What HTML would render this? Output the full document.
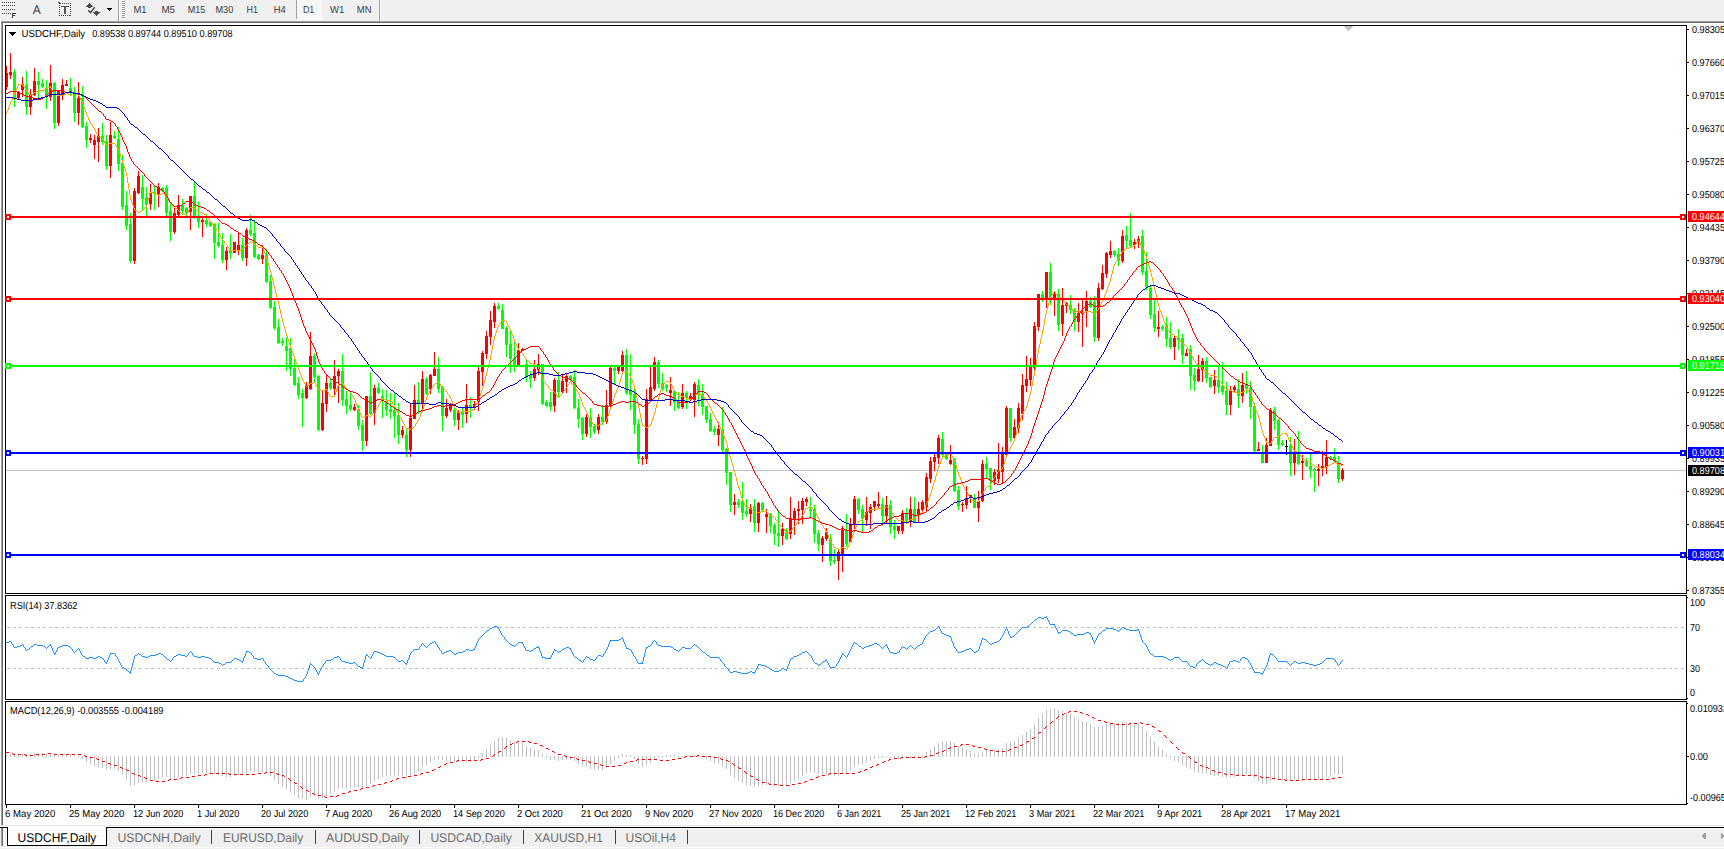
<!DOCTYPE html>
<html><head><meta charset="utf-8"><title>USDCHF,Daily</title>
<style>html,body{margin:0;padding:0;background:#fff;overflow:hidden}body{width:1724px;height:849px}svg text{white-space:pre}</style>
</head><body>
<svg width="1724" height="849" viewBox="0 0 1724 849" shape-rendering="crispEdges" text-rendering="geometricPrecision" font-family="Liberation Sans, Arial, sans-serif" style="display:block">
<rect x="0" y="0" width="1724" height="849" fill="#ffffff"/>
<rect x="0" y="0" width="1724" height="21" fill="#f0f0f0"/>
<rect x="0" y="21" width="1724" height="1" fill="#a0a0a0"/>
<rect x="0" y="22" width="1724" height="1" fill="#696969"/>
<rect x="1" y="21" width="1" height="805" fill="#a0a0a0"/>
<rect x="2" y="22" width="1" height="804" fill="#696969"/>
<rect x="0" y="21" width="1" height="805" fill="#ffffff"/>
<rect x="2" y="2" width="1" height="1" fill="#404040"/>
<rect x="4" y="2" width="1" height="1" fill="#404040"/>
<rect x="6" y="2" width="1" height="1" fill="#404040"/>
<rect x="8" y="2" width="1" height="1" fill="#404040"/>
<rect x="10" y="2" width="1" height="1" fill="#404040"/>
<rect x="12" y="2" width="1" height="1" fill="#404040"/>
<rect x="14" y="2" width="1" height="1" fill="#404040"/>
<rect x="2" y="5" width="1" height="1" fill="#404040"/>
<rect x="4" y="5" width="1" height="1" fill="#404040"/>
<rect x="6" y="5" width="1" height="1" fill="#404040"/>
<rect x="8" y="5" width="1" height="1" fill="#404040"/>
<rect x="10" y="5" width="1" height="1" fill="#404040"/>
<rect x="12" y="5" width="1" height="1" fill="#404040"/>
<rect x="14" y="5" width="1" height="1" fill="#404040"/>
<rect x="2" y="9" width="1" height="1" fill="#404040"/>
<rect x="4" y="9" width="1" height="1" fill="#404040"/>
<rect x="6" y="9" width="1" height="1" fill="#404040"/>
<rect x="8" y="9" width="1" height="1" fill="#404040"/>
<rect x="10" y="9" width="1" height="1" fill="#404040"/>
<rect x="12" y="9" width="1" height="1" fill="#404040"/>
<rect x="14" y="9" width="1" height="1" fill="#404040"/>
<rect x="2" y="13" width="1" height="1" fill="#404040"/>
<rect x="4" y="13" width="1" height="1" fill="#404040"/>
<rect x="6" y="13" width="1" height="1" fill="#404040"/>
<rect x="8" y="13" width="1" height="1" fill="#404040"/>
<rect x="10" y="13" width="1" height="1" fill="#404040"/>
<rect x="12" y="13" width="1" height="5" fill="#404040"/>
<rect x="12" y="13" width="4" height="1" fill="#404040"/>
<rect x="12" y="15" width="3" height="1" fill="#404040"/>
<text x="32.7" y="14" font-size="12.6" fill="#404040" textLength="8" lengthAdjust="spacingAndGlyphs">A</text>
<rect x="59" y="15" width="1" height="1" fill="#404040"/>
<rect x="61" y="15" width="1" height="1" fill="#404040"/>
<rect x="63" y="15" width="1" height="1" fill="#404040"/>
<rect x="65" y="15" width="1" height="1" fill="#404040"/>
<rect x="67" y="15" width="1" height="1" fill="#404040"/>
<rect x="69" y="15" width="1" height="1" fill="#404040"/>
<rect x="62" y="3" width="1" height="1" fill="#404040"/>
<rect x="64" y="3" width="1" height="1" fill="#404040"/>
<rect x="66" y="3" width="1" height="1" fill="#404040"/>
<rect x="68" y="3" width="1" height="1" fill="#404040"/>
<rect x="70" y="3" width="1" height="1" fill="#404040"/>
<rect x="59" y="3" width="1" height="1" fill="#404040"/>
<rect x="70" y="3" width="1" height="1" fill="#404040"/>
<rect x="59" y="5" width="1" height="1" fill="#404040"/>
<rect x="70" y="5" width="1" height="1" fill="#404040"/>
<rect x="59" y="7" width="1" height="1" fill="#404040"/>
<rect x="70" y="7" width="1" height="1" fill="#404040"/>
<rect x="59" y="9" width="1" height="1" fill="#404040"/>
<rect x="70" y="9" width="1" height="1" fill="#404040"/>
<rect x="59" y="11" width="1" height="1" fill="#404040"/>
<rect x="70" y="11" width="1" height="1" fill="#404040"/>
<rect x="59" y="13" width="1" height="1" fill="#404040"/>
<rect x="70" y="13" width="1" height="1" fill="#404040"/>
<rect x="59" y="15" width="1" height="1" fill="#404040"/>
<rect x="70" y="15" width="1" height="1" fill="#404040"/>
<rect x="58" y="2" width="2" height="1" fill="#404040"/>
<rect x="59" y="3" width="2" height="1" fill="#404040"/>
<rect x="61" y="6" width="8" height="1" fill="#555"/>
<rect x="64" y="6" width="2" height="8" fill="#555"/>
<rect x="89" y="3" width="1" height="1" fill="#4d4d4d"/>
<rect x="88" y="4" width="3" height="1" fill="#4d4d4d"/>
<rect x="87" y="5" width="5" height="1" fill="#4d4d4d"/>
<rect x="86" y="6" width="7" height="1" fill="#4d4d4d"/>
<rect x="88" y="7" width="3" height="1" fill="#4d4d4d"/>
<rect x="95" y="11" width="3" height="1" fill="#4d4d4d"/>
<rect x="93" y="12" width="7" height="1" fill="#4d4d4d"/>
<rect x="94" y="13" width="5" height="1" fill="#4d4d4d"/>
<rect x="95" y="14" width="3" height="1" fill="#4d4d4d"/>
<rect x="96" y="15" width="1" height="1" fill="#4d4d4d"/>
<path d="M88.2 10.3 L90.5 12.6 L94.7 7.2" fill="none" stroke="#404040" stroke-width="1.4" shape-rendering="auto"/>
<rect x="107" y="8" width="5" height="1" fill="#000"/>
<rect x="108" y="9" width="3" height="1" fill="#000"/>
<rect x="109" y="10" width="1" height="1" fill="#000"/>
<rect x="118" y="0" width="1" height="21" fill="#a0a0a0"/>
<rect x="119" y="0" width="1" height="21" fill="#ffffff"/>
<rect x="122" y="1" width="3" height="1" fill="#a0a0a0"/>
<rect x="122" y="3" width="3" height="1" fill="#a0a0a0"/>
<rect x="122" y="5" width="3" height="1" fill="#a0a0a0"/>
<rect x="122" y="7" width="3" height="1" fill="#a0a0a0"/>
<rect x="122" y="9" width="3" height="1" fill="#a0a0a0"/>
<rect x="122" y="11" width="3" height="1" fill="#a0a0a0"/>
<rect x="122" y="13" width="3" height="1" fill="#a0a0a0"/>
<rect x="122" y="15" width="3" height="1" fill="#a0a0a0"/>
<rect x="122" y="17" width="3" height="1" fill="#a0a0a0"/>
<rect x="296" y="0" width="1" height="19" fill="#a0a0a0"/>
<defs><pattern id="ck" width="2" height="2" patternUnits="userSpaceOnUse"><rect width="2" height="2" fill="#f0f0f0"/><rect x="0" y="0" width="1" height="1" fill="#ffffff"/><rect x="1" y="1" width="1" height="1" fill="#ffffff"/></pattern></defs>
<rect x="297" y="0" width="24" height="19" fill="url(#ck)"/>
<rect x="296" y="19" width="26" height="1" fill="#ffffff"/>
<rect x="321" y="0" width="1" height="20" fill="#ffffff"/>
<text x="133.4" y="13" font-size="10.2" fill="#3c3c3c" textLength="13.0" lengthAdjust="spacingAndGlyphs">M1</text>
<text x="161.4" y="13" font-size="10.2" fill="#3c3c3c" textLength="13.6" lengthAdjust="spacingAndGlyphs">M5</text>
<text x="187.8" y="13" font-size="10.2" fill="#3c3c3c" textLength="17.5" lengthAdjust="spacingAndGlyphs">M15</text>
<text x="215.5" y="13" font-size="10.2" fill="#3c3c3c" textLength="17.8" lengthAdjust="spacingAndGlyphs">M30</text>
<text x="246.6" y="13" font-size="10.2" fill="#3c3c3c" textLength="11.4" lengthAdjust="spacingAndGlyphs">H1</text>
<text x="273.8" y="13" font-size="10.2" fill="#3c3c3c" textLength="12.0" lengthAdjust="spacingAndGlyphs">H4</text>
<text x="302.9" y="13" font-size="10.2" fill="#3c3c3c" textLength="11.4" lengthAdjust="spacingAndGlyphs">D1</text>
<text x="330.0" y="13" font-size="10.2" fill="#3c3c3c" textLength="14.4" lengthAdjust="spacingAndGlyphs">W1</text>
<text x="356.8" y="13" font-size="10.2" fill="#3c3c3c" textLength="14.7" lengthAdjust="spacingAndGlyphs">MN</text>
<rect x="379" y="0" width="1" height="21" fill="#a0a0a0"/>
<rect x="380" y="0" width="1" height="21" fill="#ffffff"/>
<rect x="5" y="25" width="1682" height="1" fill="#000000"/>
<rect x="5" y="25" width="1" height="569" fill="#000000"/>
<rect x="1686" y="25" width="1" height="569" fill="#000000"/>
<rect x="5" y="593" width="1682" height="1" fill="#000000"/>
<rect x="5" y="595" width="1682" height="1" fill="#000000"/>
<rect x="5" y="595" width="1" height="105" fill="#000000"/>
<rect x="1686" y="595" width="1" height="105" fill="#000000"/>
<rect x="5" y="699" width="1682" height="1" fill="#000000"/>
<rect x="5" y="701" width="1682" height="1" fill="#000000"/>
<rect x="5" y="701" width="1" height="104" fill="#000000"/>
<rect x="1686" y="701" width="1" height="104" fill="#000000"/>
<rect x="5" y="804" width="1682" height="1" fill="#000000"/>
<rect x="1344" y="26" width="9" height="1" fill="#c0c0c0"/>
<rect x="1345" y="27" width="7" height="1" fill="#c0c0c0"/>
<rect x="1346" y="28" width="5" height="1" fill="#c0c0c0"/>
<rect x="1347" y="29" width="3" height="1" fill="#c0c0c0"/>
<rect x="1348" y="30" width="1" height="1" fill="#c0c0c0"/>
<rect x="1687" y="29" width="2" height="1" fill="#000000"/>
<text x="1692" y="33" font-size="10.2" fill="#000" textLength="33" lengthAdjust="spacingAndGlyphs">0.98305</text>
<rect x="1687" y="62" width="2" height="1" fill="#000000"/>
<text x="1692" y="66" font-size="10.2" fill="#000" textLength="33" lengthAdjust="spacingAndGlyphs">0.97660</text>
<rect x="1687" y="95" width="2" height="1" fill="#000000"/>
<text x="1692" y="99" font-size="10.2" fill="#000" textLength="33" lengthAdjust="spacingAndGlyphs">0.97015</text>
<rect x="1687" y="128" width="2" height="1" fill="#000000"/>
<text x="1692" y="132" font-size="10.2" fill="#000" textLength="33" lengthAdjust="spacingAndGlyphs">0.96370</text>
<rect x="1687" y="161" width="2" height="1" fill="#000000"/>
<text x="1692" y="165" font-size="10.2" fill="#000" textLength="33" lengthAdjust="spacingAndGlyphs">0.95725</text>
<rect x="1687" y="194" width="2" height="1" fill="#000000"/>
<text x="1692" y="198" font-size="10.2" fill="#000" textLength="33" lengthAdjust="spacingAndGlyphs">0.95080</text>
<rect x="1687" y="227" width="2" height="1" fill="#000000"/>
<text x="1692" y="231" font-size="10.2" fill="#000" textLength="33" lengthAdjust="spacingAndGlyphs">0.94435</text>
<rect x="1687" y="260" width="2" height="1" fill="#000000"/>
<text x="1692" y="264" font-size="10.2" fill="#000" textLength="33" lengthAdjust="spacingAndGlyphs">0.93790</text>
<rect x="1687" y="293" width="2" height="1" fill="#000000"/>
<text x="1692" y="297" font-size="10.2" fill="#000" textLength="33" lengthAdjust="spacingAndGlyphs">0.93145</text>
<rect x="1687" y="326" width="2" height="1" fill="#000000"/>
<text x="1692" y="330" font-size="10.2" fill="#000" textLength="33" lengthAdjust="spacingAndGlyphs">0.92500</text>
<rect x="1687" y="359" width="2" height="1" fill="#000000"/>
<text x="1692" y="363" font-size="10.2" fill="#000" textLength="33" lengthAdjust="spacingAndGlyphs">0.91855</text>
<rect x="1687" y="392" width="2" height="1" fill="#000000"/>
<text x="1692" y="396" font-size="10.2" fill="#000" textLength="33" lengthAdjust="spacingAndGlyphs">0.91225</text>
<rect x="1687" y="425" width="2" height="1" fill="#000000"/>
<text x="1692" y="429" font-size="10.2" fill="#000" textLength="33" lengthAdjust="spacingAndGlyphs">0.90580</text>
<rect x="1687" y="458" width="2" height="1" fill="#000000"/>
<text x="1692" y="462" font-size="10.2" fill="#000" textLength="33" lengthAdjust="spacingAndGlyphs">0.89935</text>
<rect x="1687" y="491" width="2" height="1" fill="#000000"/>
<text x="1692" y="495" font-size="10.2" fill="#000" textLength="33" lengthAdjust="spacingAndGlyphs">0.89290</text>
<rect x="1687" y="524" width="2" height="1" fill="#000000"/>
<text x="1692" y="528" font-size="10.2" fill="#000" textLength="33" lengthAdjust="spacingAndGlyphs">0.88645</text>
<rect x="1687" y="557" width="2" height="1" fill="#000000"/>
<text x="1692" y="561" font-size="10.2" fill="#000" textLength="33" lengthAdjust="spacingAndGlyphs">0.88000</text>
<rect x="1687" y="590" width="2" height="1" fill="#000000"/>
<text x="1692" y="594" font-size="10.2" fill="#000" textLength="33" lengthAdjust="spacingAndGlyphs">0.87355</text>
<text x="1690" y="606" font-size="10.2" fill="#000" textLength="15" lengthAdjust="spacingAndGlyphs">100</text>
<text x="1690" y="631" font-size="10.2" fill="#000" textLength="10" lengthAdjust="spacingAndGlyphs">70</text>
<text x="1690" y="672" font-size="10.2" fill="#000" textLength="10" lengthAdjust="spacingAndGlyphs">30</text>
<text x="1690" y="696" font-size="10.2" fill="#000" textLength="5" lengthAdjust="spacingAndGlyphs">0</text>
<text x="1690" y="712" font-size="10.2" fill="#000" textLength="38" lengthAdjust="spacingAndGlyphs">0.010932</text>
<rect x="1687" y="756" width="2" height="1" fill="#000000"/>
<text x="1690" y="760" font-size="10.2" fill="#000" textLength="18" lengthAdjust="spacingAndGlyphs">0.00</text>
<text x="1690" y="801" font-size="10.2" fill="#000" textLength="41" lengthAdjust="spacingAndGlyphs">-0.009650</text>
<rect x="1687" y="803" width="1" height="1" fill="#000000"/>
<rect x="1687" y="703" width="1" height="1" fill="#000000"/>
<rect x="1687" y="597" width="1" height="1" fill="#000000"/>
<rect x="1687" y="698" width="1" height="1" fill="#000000"/>
<rect x="6" y="470" width="1680" height="1" fill="#c0c0c0"/>
<rect x="6" y="66" width="1" height="24" fill="#ff0000"/>
<rect x="6" y="73" width="2" height="14" fill="#ff0000"/>
<rect x="10" y="53" width="1" height="26" fill="#ff0000"/>
<rect x="9" y="72" width="3" height="3" fill="#ff0000"/>
<rect x="14" y="69" width="1" height="38" fill="#00ff00"/>
<rect x="13" y="72" width="3" height="26" fill="#00ff00"/>
<rect x="18" y="91" width="1" height="8" fill="#ff0000"/>
<rect x="17" y="92" width="3" height="6" fill="#ff0000"/>
<rect x="22" y="77" width="1" height="20" fill="#ff0000"/>
<rect x="21" y="84" width="3" height="6" fill="#ff0000"/>
<rect x="26" y="71" width="1" height="44" fill="#00ff00"/>
<rect x="25" y="85" width="3" height="22" fill="#00ff00"/>
<rect x="30" y="89" width="1" height="26" fill="#ff0000"/>
<rect x="29" y="95" width="3" height="12" fill="#ff0000"/>
<rect x="34" y="68" width="1" height="28" fill="#ff0000"/>
<rect x="33" y="81" width="3" height="14" fill="#ff0000"/>
<rect x="38" y="72" width="1" height="28" fill="#00ff00"/>
<rect x="37" y="81" width="3" height="4" fill="#00ff00"/>
<rect x="42" y="79" width="1" height="9" fill="#00ff00"/>
<rect x="41" y="83" width="3" height="4" fill="#00ff00"/>
<rect x="46" y="80" width="1" height="29" fill="#00ff00"/>
<rect x="45" y="88" width="3" height="8" fill="#00ff00"/>
<rect x="50" y="65" width="1" height="36" fill="#ff0000"/>
<rect x="49" y="83" width="3" height="14" fill="#ff0000"/>
<rect x="54" y="82" width="1" height="47" fill="#00ff00"/>
<rect x="53" y="83" width="3" height="40" fill="#00ff00"/>
<rect x="58" y="90" width="1" height="36" fill="#ff0000"/>
<rect x="57" y="91" width="3" height="32" fill="#ff0000"/>
<rect x="62" y="79" width="1" height="21" fill="#ff0000"/>
<rect x="61" y="85" width="3" height="10" fill="#ff0000"/>
<rect x="66" y="80" width="1" height="6" fill="#ff0000"/>
<rect x="65" y="84" width="3" height="2" fill="#ff0000"/>
<rect x="70" y="78" width="1" height="18" fill="#00ff00"/>
<rect x="69" y="88" width="3" height="4" fill="#00ff00"/>
<rect x="74" y="87" width="1" height="35" fill="#00ff00"/>
<rect x="73" y="92" width="3" height="21" fill="#00ff00"/>
<rect x="78" y="82" width="1" height="43" fill="#ff0000"/>
<rect x="77" y="98" width="3" height="15" fill="#ff0000"/>
<rect x="82" y="86" width="1" height="42" fill="#00ff00"/>
<rect x="81" y="98" width="3" height="29" fill="#00ff00"/>
<rect x="86" y="122" width="1" height="26" fill="#00ff00"/>
<rect x="85" y="126" width="3" height="14" fill="#00ff00"/>
<rect x="90" y="134" width="1" height="9" fill="#ff0000"/>
<rect x="89" y="138" width="3" height="2" fill="#ff0000"/>
<rect x="94" y="135" width="1" height="24" fill="#ff0000"/>
<rect x="93" y="140" width="3" height="5" fill="#ff0000"/>
<rect x="98" y="128" width="1" height="34" fill="#ff0000"/>
<rect x="97" y="136" width="3" height="6" fill="#ff0000"/>
<rect x="102" y="123" width="1" height="22" fill="#00ff00"/>
<rect x="101" y="136" width="3" height="6" fill="#00ff00"/>
<rect x="106" y="135" width="1" height="35" fill="#00ff00"/>
<rect x="105" y="141" width="3" height="25" fill="#00ff00"/>
<rect x="110" y="122" width="1" height="56" fill="#ff0000"/>
<rect x="109" y="135" width="3" height="31" fill="#ff0000"/>
<rect x="114" y="131" width="1" height="8" fill="#00ff00"/>
<rect x="113" y="136" width="3" height="2" fill="#00ff00"/>
<rect x="118" y="127" width="1" height="44" fill="#00ff00"/>
<rect x="117" y="139" width="3" height="25" fill="#00ff00"/>
<rect x="122" y="155" width="1" height="55" fill="#00ff00"/>
<rect x="121" y="163" width="3" height="44" fill="#00ff00"/>
<rect x="126" y="191" width="1" height="39" fill="#00ff00"/>
<rect x="125" y="205" width="3" height="21" fill="#00ff00"/>
<rect x="130" y="213" width="1" height="50" fill="#00ff00"/>
<rect x="129" y="224" width="3" height="37" fill="#00ff00"/>
<rect x="134" y="188" width="1" height="76" fill="#ff0000"/>
<rect x="133" y="191" width="3" height="70" fill="#ff0000"/>
<rect x="138" y="171" width="1" height="23" fill="#ff0000"/>
<rect x="137" y="176" width="3" height="17" fill="#ff0000"/>
<rect x="142" y="175" width="1" height="35" fill="#00ff00"/>
<rect x="141" y="187" width="3" height="12" fill="#00ff00"/>
<rect x="146" y="187" width="1" height="29" fill="#00ff00"/>
<rect x="145" y="197" width="3" height="8" fill="#00ff00"/>
<rect x="150" y="184" width="1" height="26" fill="#ff0000"/>
<rect x="149" y="193" width="3" height="11" fill="#ff0000"/>
<rect x="154" y="186" width="1" height="24" fill="#00ff00"/>
<rect x="153" y="192" width="3" height="2" fill="#00ff00"/>
<rect x="158" y="183" width="1" height="24" fill="#ff0000"/>
<rect x="157" y="187" width="3" height="7" fill="#ff0000"/>
<rect x="162" y="187" width="1" height="5" fill="#00ff00"/>
<rect x="161" y="188" width="3" height="3" fill="#00ff00"/>
<rect x="166" y="185" width="1" height="31" fill="#00ff00"/>
<rect x="165" y="188" width="3" height="25" fill="#00ff00"/>
<rect x="170" y="202" width="1" height="39" fill="#00ff00"/>
<rect x="169" y="211" width="3" height="21" fill="#00ff00"/>
<rect x="174" y="207" width="1" height="27" fill="#ff0000"/>
<rect x="173" y="213" width="3" height="19" fill="#ff0000"/>
<rect x="178" y="195" width="1" height="22" fill="#ff0000"/>
<rect x="177" y="205" width="3" height="10" fill="#ff0000"/>
<rect x="182" y="199" width="1" height="16" fill="#00ff00"/>
<rect x="181" y="205" width="3" height="6" fill="#00ff00"/>
<rect x="186" y="207" width="1" height="9" fill="#00ff00"/>
<rect x="185" y="208" width="3" height="5" fill="#00ff00"/>
<rect x="190" y="196" width="1" height="34" fill="#ff0000"/>
<rect x="189" y="196" width="3" height="16" fill="#ff0000"/>
<rect x="194" y="182" width="1" height="37" fill="#00ff00"/>
<rect x="193" y="196" width="3" height="21" fill="#00ff00"/>
<rect x="198" y="202" width="1" height="26" fill="#00ff00"/>
<rect x="197" y="218" width="3" height="4" fill="#00ff00"/>
<rect x="202" y="218" width="1" height="19" fill="#ff0000"/>
<rect x="201" y="220" width="3" height="2" fill="#ff0000"/>
<rect x="206" y="214" width="1" height="13" fill="#00ff00"/>
<rect x="205" y="220" width="3" height="4" fill="#00ff00"/>
<rect x="210" y="221" width="1" height="6" fill="#00ff00"/>
<rect x="209" y="222" width="3" height="4" fill="#00ff00"/>
<rect x="214" y="223" width="1" height="36" fill="#00ff00"/>
<rect x="213" y="224" width="3" height="19" fill="#00ff00"/>
<rect x="218" y="223" width="1" height="24" fill="#00ff00"/>
<rect x="217" y="242" width="3" height="4" fill="#00ff00"/>
<rect x="222" y="233" width="1" height="30" fill="#00ff00"/>
<rect x="221" y="245" width="3" height="15" fill="#00ff00"/>
<rect x="226" y="247" width="1" height="23" fill="#ff0000"/>
<rect x="225" y="251" width="3" height="9" fill="#ff0000"/>
<rect x="230" y="234" width="1" height="25" fill="#00ff00"/>
<rect x="229" y="250" width="3" height="3" fill="#00ff00"/>
<rect x="234" y="242" width="1" height="11" fill="#ff0000"/>
<rect x="233" y="242" width="3" height="11" fill="#ff0000"/>
<rect x="238" y="232" width="1" height="23" fill="#ff0000"/>
<rect x="237" y="245" width="3" height="5" fill="#ff0000"/>
<rect x="242" y="238" width="1" height="23" fill="#00ff00"/>
<rect x="241" y="245" width="3" height="13" fill="#00ff00"/>
<rect x="246" y="228" width="1" height="38" fill="#ff0000"/>
<rect x="245" y="230" width="3" height="28" fill="#ff0000"/>
<rect x="250" y="215" width="1" height="21" fill="#00ff00"/>
<rect x="249" y="230" width="3" height="4" fill="#00ff00"/>
<rect x="254" y="220" width="1" height="38" fill="#00ff00"/>
<rect x="253" y="233" width="3" height="24" fill="#00ff00"/>
<rect x="258" y="254" width="1" height="6" fill="#00ff00"/>
<rect x="257" y="255" width="3" height="4" fill="#00ff00"/>
<rect x="262" y="245" width="1" height="19" fill="#ff0000"/>
<rect x="261" y="255" width="3" height="4" fill="#ff0000"/>
<rect x="266" y="249" width="1" height="34" fill="#00ff00"/>
<rect x="265" y="255" width="3" height="27" fill="#00ff00"/>
<rect x="270" y="275" width="1" height="34" fill="#00ff00"/>
<rect x="269" y="281" width="3" height="27" fill="#00ff00"/>
<rect x="274" y="301" width="1" height="29" fill="#00ff00"/>
<rect x="273" y="307" width="3" height="21" fill="#00ff00"/>
<rect x="278" y="319" width="1" height="25" fill="#00ff00"/>
<rect x="277" y="327" width="3" height="16" fill="#00ff00"/>
<rect x="282" y="338" width="1" height="8" fill="#00ff00"/>
<rect x="281" y="341" width="3" height="2" fill="#00ff00"/>
<rect x="286" y="337" width="1" height="34" fill="#00ff00"/>
<rect x="285" y="346" width="3" height="5" fill="#00ff00"/>
<rect x="290" y="338" width="1" height="38" fill="#00ff00"/>
<rect x="289" y="348" width="3" height="21" fill="#00ff00"/>
<rect x="294" y="359" width="1" height="27" fill="#00ff00"/>
<rect x="293" y="368" width="3" height="17" fill="#00ff00"/>
<rect x="298" y="377" width="1" height="22" fill="#00ff00"/>
<rect x="297" y="383" width="3" height="12" fill="#00ff00"/>
<rect x="302" y="389" width="1" height="38" fill="#00ff00"/>
<rect x="301" y="393" width="3" height="5" fill="#00ff00"/>
<rect x="306" y="382" width="1" height="17" fill="#ff0000"/>
<rect x="305" y="385" width="3" height="13" fill="#ff0000"/>
<rect x="310" y="332" width="1" height="58" fill="#ff0000"/>
<rect x="309" y="356" width="3" height="33" fill="#ff0000"/>
<rect x="314" y="353" width="1" height="29" fill="#00ff00"/>
<rect x="313" y="356" width="3" height="21" fill="#00ff00"/>
<rect x="318" y="375" width="1" height="56" fill="#00ff00"/>
<rect x="317" y="376" width="3" height="54" fill="#00ff00"/>
<rect x="322" y="390" width="1" height="41" fill="#ff0000"/>
<rect x="321" y="403" width="3" height="27" fill="#ff0000"/>
<rect x="326" y="375" width="1" height="37" fill="#ff0000"/>
<rect x="325" y="383" width="3" height="21" fill="#ff0000"/>
<rect x="330" y="379" width="1" height="11" fill="#00ff00"/>
<rect x="329" y="383" width="3" height="5" fill="#00ff00"/>
<rect x="334" y="360" width="1" height="35" fill="#ff0000"/>
<rect x="333" y="376" width="3" height="13" fill="#ff0000"/>
<rect x="338" y="369" width="1" height="34" fill="#ff0000"/>
<rect x="337" y="371" width="3" height="5" fill="#ff0000"/>
<rect x="342" y="354" width="1" height="52" fill="#00ff00"/>
<rect x="341" y="371" width="3" height="29" fill="#00ff00"/>
<rect x="346" y="391" width="1" height="23" fill="#00ff00"/>
<rect x="345" y="399" width="3" height="7" fill="#00ff00"/>
<rect x="350" y="393" width="1" height="18" fill="#00ff00"/>
<rect x="349" y="405" width="3" height="4" fill="#00ff00"/>
<rect x="354" y="404" width="1" height="7" fill="#ff0000"/>
<rect x="353" y="407" width="3" height="3" fill="#ff0000"/>
<rect x="358" y="405" width="1" height="25" fill="#00ff00"/>
<rect x="357" y="409" width="3" height="17" fill="#00ff00"/>
<rect x="362" y="420" width="1" height="31" fill="#00ff00"/>
<rect x="361" y="425" width="3" height="16" fill="#00ff00"/>
<rect x="366" y="396" width="1" height="50" fill="#ff0000"/>
<rect x="365" y="396" width="3" height="45" fill="#ff0000"/>
<rect x="370" y="372" width="1" height="43" fill="#00ff00"/>
<rect x="369" y="396" width="3" height="18" fill="#00ff00"/>
<rect x="374" y="385" width="1" height="40" fill="#ff0000"/>
<rect x="373" y="388" width="3" height="25" fill="#ff0000"/>
<rect x="378" y="383" width="1" height="11" fill="#00ff00"/>
<rect x="377" y="388" width="3" height="5" fill="#00ff00"/>
<rect x="382" y="389" width="1" height="29" fill="#00ff00"/>
<rect x="381" y="396" width="3" height="5" fill="#00ff00"/>
<rect x="386" y="390" width="1" height="26" fill="#00ff00"/>
<rect x="385" y="401" width="3" height="9" fill="#00ff00"/>
<rect x="390" y="393" width="1" height="26" fill="#00ff00"/>
<rect x="389" y="409" width="3" height="3" fill="#00ff00"/>
<rect x="394" y="392" width="1" height="46" fill="#00ff00"/>
<rect x="393" y="410" width="3" height="6" fill="#00ff00"/>
<rect x="398" y="403" width="1" height="41" fill="#00ff00"/>
<rect x="397" y="415" width="3" height="20" fill="#00ff00"/>
<rect x="402" y="426" width="1" height="12" fill="#ff0000"/>
<rect x="401" y="430" width="3" height="5" fill="#ff0000"/>
<rect x="406" y="429" width="1" height="28" fill="#00ff00"/>
<rect x="405" y="435" width="3" height="15" fill="#00ff00"/>
<rect x="410" y="404" width="1" height="53" fill="#ff0000"/>
<rect x="409" y="418" width="3" height="32" fill="#ff0000"/>
<rect x="414" y="385" width="1" height="34" fill="#ff0000"/>
<rect x="413" y="400" width="3" height="19" fill="#ff0000"/>
<rect x="418" y="382" width="1" height="32" fill="#00ff00"/>
<rect x="417" y="400" width="3" height="3" fill="#00ff00"/>
<rect x="422" y="371" width="1" height="38" fill="#ff0000"/>
<rect x="421" y="379" width="3" height="24" fill="#ff0000"/>
<rect x="426" y="377" width="1" height="18" fill="#00ff00"/>
<rect x="425" y="379" width="3" height="15" fill="#00ff00"/>
<rect x="430" y="374" width="1" height="20" fill="#ff0000"/>
<rect x="429" y="375" width="3" height="14" fill="#ff0000"/>
<rect x="434" y="352" width="1" height="24" fill="#ff0000"/>
<rect x="433" y="369" width="3" height="7" fill="#ff0000"/>
<rect x="438" y="357" width="1" height="36" fill="#00ff00"/>
<rect x="437" y="369" width="3" height="20" fill="#00ff00"/>
<rect x="442" y="386" width="1" height="45" fill="#00ff00"/>
<rect x="441" y="388" width="3" height="28" fill="#00ff00"/>
<rect x="446" y="399" width="1" height="19" fill="#ff0000"/>
<rect x="445" y="408" width="3" height="8" fill="#ff0000"/>
<rect x="450" y="403" width="1" height="9" fill="#ff0000"/>
<rect x="449" y="404" width="3" height="6" fill="#ff0000"/>
<rect x="454" y="405" width="1" height="21" fill="#00ff00"/>
<rect x="453" y="410" width="3" height="10" fill="#00ff00"/>
<rect x="458" y="410" width="1" height="20" fill="#ff0000"/>
<rect x="457" y="412" width="3" height="8" fill="#ff0000"/>
<rect x="462" y="408" width="1" height="20" fill="#00ff00"/>
<rect x="461" y="411" width="3" height="4" fill="#00ff00"/>
<rect x="466" y="384" width="1" height="39" fill="#ff0000"/>
<rect x="465" y="405" width="3" height="9" fill="#ff0000"/>
<rect x="470" y="397" width="1" height="21" fill="#00ff00"/>
<rect x="469" y="405" width="3" height="3" fill="#00ff00"/>
<rect x="474" y="401" width="1" height="9" fill="#ff0000"/>
<rect x="473" y="404" width="3" height="3" fill="#ff0000"/>
<rect x="478" y="367" width="1" height="44" fill="#ff0000"/>
<rect x="477" y="371" width="3" height="31" fill="#ff0000"/>
<rect x="482" y="351" width="1" height="35" fill="#ff0000"/>
<rect x="481" y="353" width="3" height="19" fill="#ff0000"/>
<rect x="486" y="331" width="1" height="28" fill="#ff0000"/>
<rect x="485" y="336" width="3" height="18" fill="#ff0000"/>
<rect x="490" y="311" width="1" height="34" fill="#ff0000"/>
<rect x="489" y="320" width="3" height="17" fill="#ff0000"/>
<rect x="494" y="303" width="1" height="25" fill="#ff0000"/>
<rect x="493" y="306" width="3" height="16" fill="#ff0000"/>
<rect x="498" y="303" width="1" height="7" fill="#00ff00"/>
<rect x="497" y="306" width="3" height="3" fill="#00ff00"/>
<rect x="502" y="304" width="1" height="25" fill="#00ff00"/>
<rect x="501" y="310" width="3" height="19" fill="#00ff00"/>
<rect x="506" y="326" width="1" height="31" fill="#00ff00"/>
<rect x="505" y="328" width="3" height="17" fill="#00ff00"/>
<rect x="510" y="331" width="1" height="42" fill="#00ff00"/>
<rect x="509" y="344" width="3" height="15" fill="#00ff00"/>
<rect x="514" y="342" width="1" height="30" fill="#00ff00"/>
<rect x="513" y="358" width="3" height="7" fill="#00ff00"/>
<rect x="518" y="343" width="1" height="22" fill="#ff0000"/>
<rect x="517" y="350" width="3" height="15" fill="#ff0000"/>
<rect x="522" y="348" width="1" height="3" fill="#ff0000"/>
<rect x="521" y="349" width="3" height="2" fill="#ff0000"/>
<rect x="526" y="360" width="1" height="22" fill="#00ff00"/>
<rect x="525" y="364" width="3" height="13" fill="#00ff00"/>
<rect x="530" y="371" width="1" height="17" fill="#00ff00"/>
<rect x="529" y="375" width="3" height="4" fill="#00ff00"/>
<rect x="534" y="360" width="1" height="21" fill="#ff0000"/>
<rect x="533" y="369" width="3" height="9" fill="#ff0000"/>
<rect x="538" y="354" width="1" height="21" fill="#ff0000"/>
<rect x="537" y="364" width="3" height="6" fill="#ff0000"/>
<rect x="542" y="364" width="1" height="41" fill="#00ff00"/>
<rect x="541" y="364" width="3" height="40" fill="#00ff00"/>
<rect x="546" y="400" width="1" height="7" fill="#00ff00"/>
<rect x="545" y="402" width="3" height="4" fill="#00ff00"/>
<rect x="550" y="392" width="1" height="19" fill="#00ff00"/>
<rect x="549" y="402" width="3" height="5" fill="#00ff00"/>
<rect x="554" y="378" width="1" height="34" fill="#ff0000"/>
<rect x="553" y="380" width="3" height="26" fill="#ff0000"/>
<rect x="558" y="372" width="1" height="26" fill="#00ff00"/>
<rect x="557" y="380" width="3" height="12" fill="#00ff00"/>
<rect x="562" y="374" width="1" height="19" fill="#ff0000"/>
<rect x="561" y="381" width="3" height="11" fill="#ff0000"/>
<rect x="566" y="373" width="1" height="20" fill="#ff0000"/>
<rect x="565" y="376" width="3" height="6" fill="#ff0000"/>
<rect x="570" y="375" width="1" height="6" fill="#00ff00"/>
<rect x="569" y="376" width="3" height="4" fill="#00ff00"/>
<rect x="574" y="370" width="1" height="39" fill="#00ff00"/>
<rect x="573" y="377" width="3" height="31" fill="#00ff00"/>
<rect x="578" y="399" width="1" height="29" fill="#00ff00"/>
<rect x="577" y="408" width="3" height="11" fill="#00ff00"/>
<rect x="582" y="417" width="1" height="23" fill="#00ff00"/>
<rect x="581" y="418" width="3" height="16" fill="#00ff00"/>
<rect x="586" y="414" width="1" height="23" fill="#ff0000"/>
<rect x="585" y="417" width="3" height="17" fill="#ff0000"/>
<rect x="590" y="408" width="1" height="30" fill="#00ff00"/>
<rect x="589" y="417" width="3" height="10" fill="#00ff00"/>
<rect x="594" y="424" width="1" height="10" fill="#00ff00"/>
<rect x="593" y="426" width="3" height="6" fill="#00ff00"/>
<rect x="598" y="414" width="1" height="20" fill="#ff0000"/>
<rect x="597" y="417" width="3" height="13" fill="#ff0000"/>
<rect x="602" y="405" width="1" height="20" fill="#00ff00"/>
<rect x="601" y="417" width="3" height="5" fill="#00ff00"/>
<rect x="606" y="390" width="1" height="34" fill="#ff0000"/>
<rect x="605" y="405" width="3" height="17" fill="#ff0000"/>
<rect x="610" y="367" width="1" height="41" fill="#ff0000"/>
<rect x="609" y="368" width="3" height="38" fill="#ff0000"/>
<rect x="614" y="367" width="1" height="17" fill="#00ff00"/>
<rect x="613" y="368" width="3" height="3" fill="#00ff00"/>
<rect x="618" y="367" width="1" height="7" fill="#ff0000"/>
<rect x="617" y="367" width="3" height="4" fill="#ff0000"/>
<rect x="622" y="351" width="1" height="21" fill="#ff0000"/>
<rect x="621" y="355" width="3" height="16" fill="#ff0000"/>
<rect x="626" y="349" width="1" height="46" fill="#00ff00"/>
<rect x="625" y="355" width="3" height="38" fill="#00ff00"/>
<rect x="630" y="354" width="1" height="56" fill="#00ff00"/>
<rect x="629" y="391" width="3" height="4" fill="#00ff00"/>
<rect x="634" y="389" width="1" height="45" fill="#00ff00"/>
<rect x="633" y="394" width="3" height="31" fill="#00ff00"/>
<rect x="638" y="419" width="1" height="45" fill="#00ff00"/>
<rect x="637" y="424" width="3" height="35" fill="#00ff00"/>
<rect x="642" y="456" width="1" height="9" fill="#ff0000"/>
<rect x="641" y="458" width="3" height="1" fill="#ff0000"/>
<rect x="646" y="389" width="1" height="75" fill="#ff0000"/>
<rect x="645" y="399" width="3" height="60" fill="#ff0000"/>
<rect x="650" y="367" width="1" height="34" fill="#ff0000"/>
<rect x="649" y="387" width="3" height="13" fill="#ff0000"/>
<rect x="654" y="357" width="1" height="34" fill="#ff0000"/>
<rect x="653" y="362" width="3" height="27" fill="#ff0000"/>
<rect x="658" y="360" width="1" height="28" fill="#00ff00"/>
<rect x="657" y="362" width="3" height="22" fill="#00ff00"/>
<rect x="662" y="373" width="1" height="18" fill="#00ff00"/>
<rect x="661" y="383" width="3" height="6" fill="#00ff00"/>
<rect x="666" y="384" width="1" height="8" fill="#00ff00"/>
<rect x="665" y="385" width="3" height="3" fill="#00ff00"/>
<rect x="670" y="377" width="1" height="29" fill="#ff0000"/>
<rect x="669" y="390" width="3" height="3" fill="#ff0000"/>
<rect x="674" y="390" width="1" height="21" fill="#00ff00"/>
<rect x="673" y="391" width="3" height="11" fill="#00ff00"/>
<rect x="678" y="392" width="1" height="17" fill="#00ff00"/>
<rect x="677" y="402" width="3" height="6" fill="#00ff00"/>
<rect x="682" y="384" width="1" height="25" fill="#ff0000"/>
<rect x="681" y="393" width="3" height="14" fill="#ff0000"/>
<rect x="686" y="391" width="1" height="18" fill="#00ff00"/>
<rect x="685" y="393" width="3" height="5" fill="#00ff00"/>
<rect x="690" y="393" width="1" height="7" fill="#ff0000"/>
<rect x="689" y="396" width="3" height="3" fill="#ff0000"/>
<rect x="694" y="382" width="1" height="35" fill="#ff0000"/>
<rect x="693" y="384" width="3" height="16" fill="#ff0000"/>
<rect x="698" y="379" width="1" height="27" fill="#00ff00"/>
<rect x="697" y="385" width="3" height="10" fill="#00ff00"/>
<rect x="702" y="384" width="1" height="31" fill="#00ff00"/>
<rect x="701" y="394" width="3" height="13" fill="#00ff00"/>
<rect x="706" y="406" width="1" height="17" fill="#00ff00"/>
<rect x="705" y="406" width="3" height="14" fill="#00ff00"/>
<rect x="710" y="413" width="1" height="19" fill="#00ff00"/>
<rect x="709" y="419" width="3" height="12" fill="#00ff00"/>
<rect x="714" y="426" width="1" height="9" fill="#00ff00"/>
<rect x="713" y="429" width="3" height="3" fill="#00ff00"/>
<rect x="718" y="422" width="1" height="24" fill="#ff0000"/>
<rect x="717" y="429" width="3" height="6" fill="#ff0000"/>
<rect x="722" y="407" width="1" height="45" fill="#00ff00"/>
<rect x="721" y="429" width="3" height="21" fill="#00ff00"/>
<rect x="726" y="448" width="1" height="37" fill="#00ff00"/>
<rect x="725" y="449" width="3" height="24" fill="#00ff00"/>
<rect x="730" y="472" width="1" height="40" fill="#00ff00"/>
<rect x="729" y="472" width="3" height="33" fill="#00ff00"/>
<rect x="734" y="494" width="1" height="21" fill="#ff0000"/>
<rect x="733" y="502" width="3" height="3" fill="#ff0000"/>
<rect x="738" y="499" width="1" height="9" fill="#00ff00"/>
<rect x="737" y="502" width="3" height="3" fill="#00ff00"/>
<rect x="742" y="482" width="1" height="38" fill="#00ff00"/>
<rect x="741" y="501" width="3" height="12" fill="#00ff00"/>
<rect x="746" y="499" width="1" height="18" fill="#00ff00"/>
<rect x="745" y="511" width="3" height="3" fill="#00ff00"/>
<rect x="750" y="504" width="1" height="18" fill="#ff0000"/>
<rect x="749" y="508" width="3" height="6" fill="#ff0000"/>
<rect x="754" y="499" width="1" height="33" fill="#00ff00"/>
<rect x="753" y="506" width="3" height="17" fill="#00ff00"/>
<rect x="758" y="502" width="1" height="30" fill="#ff0000"/>
<rect x="757" y="503" width="3" height="20" fill="#ff0000"/>
<rect x="762" y="502" width="1" height="9" fill="#00ff00"/>
<rect x="761" y="503" width="3" height="7" fill="#00ff00"/>
<rect x="766" y="509" width="1" height="24" fill="#ff0000"/>
<rect x="765" y="514" width="3" height="3" fill="#ff0000"/>
<rect x="770" y="513" width="1" height="20" fill="#00ff00"/>
<rect x="769" y="514" width="3" height="12" fill="#00ff00"/>
<rect x="774" y="523" width="1" height="22" fill="#00ff00"/>
<rect x="773" y="525" width="3" height="9" fill="#00ff00"/>
<rect x="778" y="510" width="1" height="37" fill="#00ff00"/>
<rect x="777" y="533" width="3" height="3" fill="#00ff00"/>
<rect x="782" y="523" width="1" height="22" fill="#ff0000"/>
<rect x="781" y="529" width="3" height="7" fill="#ff0000"/>
<rect x="786" y="528" width="1" height="12" fill="#00ff00"/>
<rect x="785" y="530" width="3" height="9" fill="#00ff00"/>
<rect x="790" y="497" width="1" height="42" fill="#ff0000"/>
<rect x="789" y="518" width="3" height="16" fill="#ff0000"/>
<rect x="794" y="508" width="1" height="27" fill="#ff0000"/>
<rect x="793" y="511" width="3" height="9" fill="#ff0000"/>
<rect x="798" y="501" width="1" height="23" fill="#ff0000"/>
<rect x="797" y="509" width="3" height="2" fill="#ff0000"/>
<rect x="802" y="498" width="1" height="26" fill="#ff0000"/>
<rect x="801" y="501" width="3" height="9" fill="#ff0000"/>
<rect x="806" y="497" width="1" height="9" fill="#ff0000"/>
<rect x="805" y="499" width="3" height="3" fill="#ff0000"/>
<rect x="810" y="497" width="1" height="20" fill="#00ff00"/>
<rect x="809" y="509" width="3" height="2" fill="#00ff00"/>
<rect x="814" y="505" width="1" height="38" fill="#00ff00"/>
<rect x="813" y="509" width="3" height="25" fill="#00ff00"/>
<rect x="818" y="530" width="1" height="21" fill="#00ff00"/>
<rect x="817" y="533" width="3" height="11" fill="#00ff00"/>
<rect x="822" y="536" width="1" height="26" fill="#ff0000"/>
<rect x="821" y="538" width="3" height="7" fill="#ff0000"/>
<rect x="826" y="528" width="1" height="13" fill="#ff0000"/>
<rect x="825" y="532" width="3" height="7" fill="#ff0000"/>
<rect x="830" y="534" width="1" height="32" fill="#00ff00"/>
<rect x="829" y="539" width="3" height="22" fill="#00ff00"/>
<rect x="834" y="549" width="1" height="15" fill="#00ff00"/>
<rect x="833" y="560" width="3" height="2" fill="#00ff00"/>
<rect x="838" y="550" width="1" height="30" fill="#ff0000"/>
<rect x="837" y="552" width="3" height="9" fill="#ff0000"/>
<rect x="842" y="526" width="1" height="46" fill="#ff0000"/>
<rect x="841" y="530" width="3" height="24" fill="#ff0000"/>
<rect x="846" y="514" width="1" height="33" fill="#00ff00"/>
<rect x="845" y="530" width="3" height="14" fill="#00ff00"/>
<rect x="850" y="518" width="1" height="25" fill="#ff0000"/>
<rect x="849" y="524" width="3" height="18" fill="#ff0000"/>
<rect x="854" y="496" width="1" height="35" fill="#ff0000"/>
<rect x="853" y="499" width="3" height="26" fill="#ff0000"/>
<rect x="858" y="498" width="1" height="16" fill="#00ff00"/>
<rect x="857" y="499" width="3" height="11" fill="#00ff00"/>
<rect x="862" y="505" width="1" height="27" fill="#00ff00"/>
<rect x="861" y="509" width="3" height="10" fill="#00ff00"/>
<rect x="866" y="497" width="1" height="29" fill="#ff0000"/>
<rect x="865" y="512" width="3" height="8" fill="#ff0000"/>
<rect x="870" y="504" width="1" height="25" fill="#ff0000"/>
<rect x="869" y="507" width="3" height="6" fill="#ff0000"/>
<rect x="874" y="501" width="1" height="10" fill="#ff0000"/>
<rect x="873" y="501" width="3" height="6" fill="#ff0000"/>
<rect x="878" y="492" width="1" height="17" fill="#ff0000"/>
<rect x="877" y="504" width="3" height="2" fill="#ff0000"/>
<rect x="882" y="498" width="1" height="28" fill="#00ff00"/>
<rect x="881" y="504" width="3" height="12" fill="#00ff00"/>
<rect x="886" y="496" width="1" height="27" fill="#ff0000"/>
<rect x="885" y="505" width="3" height="11" fill="#ff0000"/>
<rect x="890" y="500" width="1" height="34" fill="#00ff00"/>
<rect x="889" y="505" width="3" height="22" fill="#00ff00"/>
<rect x="894" y="520" width="1" height="19" fill="#00ff00"/>
<rect x="893" y="526" width="3" height="4" fill="#00ff00"/>
<rect x="898" y="526" width="1" height="8" fill="#ff0000"/>
<rect x="897" y="526" width="3" height="5" fill="#ff0000"/>
<rect x="902" y="510" width="1" height="24" fill="#ff0000"/>
<rect x="901" y="513" width="3" height="18" fill="#ff0000"/>
<rect x="906" y="508" width="1" height="15" fill="#00ff00"/>
<rect x="905" y="513" width="3" height="8" fill="#00ff00"/>
<rect x="910" y="497" width="1" height="30" fill="#ff0000"/>
<rect x="909" y="509" width="3" height="12" fill="#ff0000"/>
<rect x="914" y="497" width="1" height="26" fill="#00ff00"/>
<rect x="913" y="509" width="3" height="13" fill="#00ff00"/>
<rect x="918" y="502" width="1" height="20" fill="#ff0000"/>
<rect x="917" y="509" width="3" height="5" fill="#ff0000"/>
<rect x="922" y="500" width="1" height="11" fill="#ff0000"/>
<rect x="921" y="502" width="3" height="8" fill="#ff0000"/>
<rect x="926" y="473" width="1" height="38" fill="#ff0000"/>
<rect x="925" y="477" width="3" height="30" fill="#ff0000"/>
<rect x="930" y="457" width="1" height="26" fill="#ff0000"/>
<rect x="929" y="461" width="3" height="18" fill="#ff0000"/>
<rect x="934" y="454" width="1" height="17" fill="#ff0000"/>
<rect x="933" y="457" width="3" height="5" fill="#ff0000"/>
<rect x="938" y="435" width="1" height="29" fill="#ff0000"/>
<rect x="937" y="438" width="3" height="20" fill="#ff0000"/>
<rect x="942" y="432" width="1" height="26" fill="#00ff00"/>
<rect x="941" y="439" width="3" height="16" fill="#00ff00"/>
<rect x="946" y="453" width="1" height="7" fill="#00ff00"/>
<rect x="945" y="454" width="3" height="5" fill="#00ff00"/>
<rect x="950" y="445" width="1" height="20" fill="#ff0000"/>
<rect x="949" y="460" width="3" height="4" fill="#ff0000"/>
<rect x="954" y="458" width="1" height="34" fill="#00ff00"/>
<rect x="953" y="459" width="3" height="32" fill="#00ff00"/>
<rect x="958" y="486" width="1" height="24" fill="#00ff00"/>
<rect x="957" y="490" width="3" height="16" fill="#00ff00"/>
<rect x="962" y="502" width="1" height="10" fill="#ff0000"/>
<rect x="961" y="504" width="3" height="1" fill="#ff0000"/>
<rect x="966" y="486" width="1" height="23" fill="#ff0000"/>
<rect x="965" y="498" width="3" height="7" fill="#ff0000"/>
<rect x="970" y="495" width="1" height="8" fill="#ff0000"/>
<rect x="969" y="495" width="3" height="2" fill="#ff0000"/>
<rect x="974" y="494" width="1" height="14" fill="#00ff00"/>
<rect x="973" y="499" width="3" height="9" fill="#00ff00"/>
<rect x="978" y="491" width="1" height="31" fill="#ff0000"/>
<rect x="977" y="501" width="3" height="7" fill="#ff0000"/>
<rect x="982" y="460" width="1" height="42" fill="#ff0000"/>
<rect x="981" y="464" width="3" height="37" fill="#ff0000"/>
<rect x="986" y="457" width="1" height="21" fill="#00ff00"/>
<rect x="985" y="464" width="3" height="5" fill="#00ff00"/>
<rect x="990" y="468" width="1" height="22" fill="#00ff00"/>
<rect x="989" y="468" width="3" height="13" fill="#00ff00"/>
<rect x="994" y="469" width="1" height="16" fill="#ff0000"/>
<rect x="993" y="472" width="3" height="9" fill="#ff0000"/>
<rect x="998" y="443" width="1" height="40" fill="#ff0000"/>
<rect x="997" y="470" width="3" height="9" fill="#ff0000"/>
<rect x="1002" y="447" width="1" height="36" fill="#ff0000"/>
<rect x="1001" y="452" width="3" height="20" fill="#ff0000"/>
<rect x="1006" y="406" width="1" height="50" fill="#ff0000"/>
<rect x="1005" y="408" width="3" height="47" fill="#ff0000"/>
<rect x="1010" y="408" width="1" height="34" fill="#00ff00"/>
<rect x="1009" y="408" width="3" height="30" fill="#00ff00"/>
<rect x="1014" y="419" width="1" height="22" fill="#ff0000"/>
<rect x="1013" y="427" width="3" height="11" fill="#ff0000"/>
<rect x="1018" y="403" width="1" height="30" fill="#ff0000"/>
<rect x="1017" y="408" width="3" height="20" fill="#ff0000"/>
<rect x="1022" y="374" width="1" height="46" fill="#ff0000"/>
<rect x="1021" y="385" width="3" height="29" fill="#ff0000"/>
<rect x="1026" y="356" width="1" height="36" fill="#ff0000"/>
<rect x="1025" y="379" width="3" height="7" fill="#ff0000"/>
<rect x="1030" y="358" width="1" height="28" fill="#ff0000"/>
<rect x="1029" y="365" width="3" height="15" fill="#ff0000"/>
<rect x="1034" y="322" width="1" height="48" fill="#ff0000"/>
<rect x="1033" y="326" width="3" height="42" fill="#ff0000"/>
<rect x="1038" y="294" width="1" height="37" fill="#ff0000"/>
<rect x="1037" y="294" width="3" height="33" fill="#ff0000"/>
<rect x="1042" y="291" width="1" height="11" fill="#00ff00"/>
<rect x="1041" y="294" width="3" height="5" fill="#00ff00"/>
<rect x="1046" y="272" width="1" height="36" fill="#ff0000"/>
<rect x="1045" y="272" width="3" height="27" fill="#ff0000"/>
<rect x="1050" y="263" width="1" height="42" fill="#00ff00"/>
<rect x="1049" y="272" width="3" height="26" fill="#00ff00"/>
<rect x="1054" y="291" width="1" height="25" fill="#ff0000"/>
<rect x="1053" y="293" width="3" height="6" fill="#ff0000"/>
<rect x="1058" y="289" width="1" height="42" fill="#00ff00"/>
<rect x="1057" y="294" width="3" height="31" fill="#00ff00"/>
<rect x="1062" y="288" width="1" height="48" fill="#ff0000"/>
<rect x="1061" y="305" width="3" height="19" fill="#ff0000"/>
<rect x="1066" y="302" width="1" height="11" fill="#ff0000"/>
<rect x="1065" y="303" width="3" height="3" fill="#ff0000"/>
<rect x="1070" y="295" width="1" height="19" fill="#00ff00"/>
<rect x="1069" y="305" width="3" height="5" fill="#00ff00"/>
<rect x="1074" y="308" width="1" height="23" fill="#00ff00"/>
<rect x="1073" y="310" width="3" height="12" fill="#00ff00"/>
<rect x="1078" y="303" width="1" height="29" fill="#ff0000"/>
<rect x="1077" y="313" width="3" height="9" fill="#ff0000"/>
<rect x="1082" y="299" width="1" height="48" fill="#ff0000"/>
<rect x="1081" y="312" width="3" height="2" fill="#ff0000"/>
<rect x="1086" y="291" width="1" height="36" fill="#ff0000"/>
<rect x="1085" y="301" width="3" height="10" fill="#ff0000"/>
<rect x="1090" y="297" width="1" height="11" fill="#00ff00"/>
<rect x="1089" y="301" width="3" height="6" fill="#00ff00"/>
<rect x="1094" y="296" width="1" height="46" fill="#00ff00"/>
<rect x="1093" y="302" width="3" height="35" fill="#00ff00"/>
<rect x="1098" y="283" width="1" height="58" fill="#ff0000"/>
<rect x="1097" y="288" width="3" height="50" fill="#ff0000"/>
<rect x="1102" y="265" width="1" height="25" fill="#ff0000"/>
<rect x="1101" y="273" width="3" height="16" fill="#ff0000"/>
<rect x="1106" y="252" width="1" height="26" fill="#ff0000"/>
<rect x="1105" y="253" width="3" height="21" fill="#ff0000"/>
<rect x="1110" y="241" width="1" height="17" fill="#ff0000"/>
<rect x="1109" y="251" width="3" height="4" fill="#ff0000"/>
<rect x="1114" y="250" width="1" height="7" fill="#00ff00"/>
<rect x="1113" y="251" width="3" height="4" fill="#00ff00"/>
<rect x="1118" y="248" width="1" height="18" fill="#00ff00"/>
<rect x="1117" y="254" width="3" height="7" fill="#00ff00"/>
<rect x="1122" y="230" width="1" height="33" fill="#ff0000"/>
<rect x="1121" y="236" width="3" height="25" fill="#ff0000"/>
<rect x="1126" y="226" width="1" height="22" fill="#00ff00"/>
<rect x="1125" y="235" width="3" height="6" fill="#00ff00"/>
<rect x="1130" y="213" width="1" height="34" fill="#00ff00"/>
<rect x="1129" y="240" width="3" height="6" fill="#00ff00"/>
<rect x="1134" y="239" width="1" height="10" fill="#ff0000"/>
<rect x="1133" y="242" width="3" height="3" fill="#ff0000"/>
<rect x="1138" y="236" width="1" height="12" fill="#ff0000"/>
<rect x="1137" y="239" width="3" height="3" fill="#ff0000"/>
<rect x="1142" y="230" width="1" height="45" fill="#00ff00"/>
<rect x="1141" y="236" width="3" height="36" fill="#00ff00"/>
<rect x="1146" y="252" width="1" height="38" fill="#00ff00"/>
<rect x="1145" y="271" width="3" height="16" fill="#00ff00"/>
<rect x="1150" y="285" width="1" height="34" fill="#00ff00"/>
<rect x="1149" y="288" width="3" height="27" fill="#00ff00"/>
<rect x="1154" y="300" width="1" height="32" fill="#00ff00"/>
<rect x="1153" y="314" width="3" height="14" fill="#00ff00"/>
<rect x="1158" y="311" width="1" height="26" fill="#ff0000"/>
<rect x="1157" y="327" width="3" height="2" fill="#ff0000"/>
<rect x="1162" y="325" width="1" height="6" fill="#00ff00"/>
<rect x="1161" y="327" width="3" height="2" fill="#00ff00"/>
<rect x="1166" y="317" width="1" height="30" fill="#00ff00"/>
<rect x="1165" y="325" width="3" height="14" fill="#00ff00"/>
<rect x="1170" y="322" width="1" height="27" fill="#00ff00"/>
<rect x="1169" y="338" width="3" height="9" fill="#00ff00"/>
<rect x="1174" y="336" width="1" height="24" fill="#ff0000"/>
<rect x="1173" y="338" width="3" height="9" fill="#ff0000"/>
<rect x="1178" y="329" width="1" height="21" fill="#00ff00"/>
<rect x="1177" y="338" width="3" height="2" fill="#00ff00"/>
<rect x="1182" y="334" width="1" height="30" fill="#00ff00"/>
<rect x="1181" y="338" width="3" height="17" fill="#00ff00"/>
<rect x="1186" y="349" width="1" height="7" fill="#ff0000"/>
<rect x="1185" y="353" width="3" height="3" fill="#ff0000"/>
<rect x="1190" y="345" width="1" height="45" fill="#00ff00"/>
<rect x="1189" y="349" width="3" height="27" fill="#00ff00"/>
<rect x="1194" y="368" width="1" height="23" fill="#00ff00"/>
<rect x="1193" y="375" width="3" height="6" fill="#00ff00"/>
<rect x="1198" y="355" width="1" height="27" fill="#ff0000"/>
<rect x="1197" y="369" width="3" height="12" fill="#ff0000"/>
<rect x="1202" y="358" width="1" height="24" fill="#ff0000"/>
<rect x="1201" y="361" width="3" height="9" fill="#ff0000"/>
<rect x="1206" y="357" width="1" height="26" fill="#00ff00"/>
<rect x="1205" y="361" width="3" height="17" fill="#00ff00"/>
<rect x="1210" y="377" width="1" height="11" fill="#00ff00"/>
<rect x="1209" y="377" width="3" height="10" fill="#00ff00"/>
<rect x="1214" y="370" width="1" height="24" fill="#ff0000"/>
<rect x="1213" y="380" width="3" height="6" fill="#ff0000"/>
<rect x="1218" y="367" width="1" height="26" fill="#00ff00"/>
<rect x="1217" y="380" width="3" height="7" fill="#00ff00"/>
<rect x="1222" y="362" width="1" height="33" fill="#00ff00"/>
<rect x="1221" y="386" width="3" height="6" fill="#00ff00"/>
<rect x="1226" y="382" width="1" height="33" fill="#00ff00"/>
<rect x="1225" y="391" width="3" height="14" fill="#00ff00"/>
<rect x="1230" y="386" width="1" height="29" fill="#ff0000"/>
<rect x="1229" y="390" width="3" height="15" fill="#ff0000"/>
<rect x="1234" y="385" width="1" height="8" fill="#ff0000"/>
<rect x="1233" y="387" width="3" height="3" fill="#ff0000"/>
<rect x="1238" y="379" width="1" height="29" fill="#00ff00"/>
<rect x="1237" y="389" width="3" height="7" fill="#00ff00"/>
<rect x="1242" y="373" width="1" height="30" fill="#ff0000"/>
<rect x="1241" y="385" width="3" height="11" fill="#ff0000"/>
<rect x="1246" y="371" width="1" height="23" fill="#00ff00"/>
<rect x="1245" y="385" width="3" height="4" fill="#00ff00"/>
<rect x="1250" y="381" width="1" height="38" fill="#00ff00"/>
<rect x="1249" y="388" width="3" height="19" fill="#00ff00"/>
<rect x="1254" y="403" width="1" height="49" fill="#00ff00"/>
<rect x="1253" y="406" width="3" height="45" fill="#00ff00"/>
<rect x="1258" y="442" width="1" height="9" fill="#ff0000"/>
<rect x="1257" y="449" width="3" height="2" fill="#ff0000"/>
<rect x="1262" y="445" width="1" height="18" fill="#00ff00"/>
<rect x="1261" y="453" width="3" height="10" fill="#00ff00"/>
<rect x="1266" y="438" width="1" height="25" fill="#ff0000"/>
<rect x="1265" y="445" width="3" height="18" fill="#ff0000"/>
<rect x="1270" y="408" width="1" height="38" fill="#ff0000"/>
<rect x="1269" y="410" width="3" height="36" fill="#ff0000"/>
<rect x="1274" y="407" width="1" height="23" fill="#00ff00"/>
<rect x="1273" y="410" width="3" height="11" fill="#00ff00"/>
<rect x="1278" y="419" width="1" height="31" fill="#00ff00"/>
<rect x="1277" y="420" width="3" height="25" fill="#00ff00"/>
<rect x="1282" y="440" width="1" height="6" fill="#00ff00"/>
<rect x="1281" y="443" width="3" height="2" fill="#00ff00"/>
<rect x="1286" y="440" width="1" height="15" fill="#000000"/>
<rect x="1285" y="446" width="3" height="1" fill="#000000"/>
<rect x="1290" y="437" width="1" height="39" fill="#00ff00"/>
<rect x="1289" y="445" width="3" height="18" fill="#00ff00"/>
<rect x="1294" y="439" width="1" height="36" fill="#ff0000"/>
<rect x="1293" y="452" width="3" height="11" fill="#ff0000"/>
<rect x="1298" y="431" width="1" height="34" fill="#00ff00"/>
<rect x="1297" y="454" width="3" height="10" fill="#00ff00"/>
<rect x="1302" y="455" width="1" height="25" fill="#ff0000"/>
<rect x="1301" y="461" width="3" height="2" fill="#ff0000"/>
<rect x="1306" y="458" width="1" height="9" fill="#00ff00"/>
<rect x="1305" y="461" width="3" height="5" fill="#00ff00"/>
<rect x="1310" y="454" width="1" height="24" fill="#00ff00"/>
<rect x="1309" y="466" width="3" height="4" fill="#00ff00"/>
<rect x="1314" y="468" width="1" height="24" fill="#00ff00"/>
<rect x="1313" y="469" width="3" height="2" fill="#00ff00"/>
<rect x="1318" y="464" width="1" height="22" fill="#ff0000"/>
<rect x="1317" y="469" width="3" height="2" fill="#ff0000"/>
<rect x="1322" y="451" width="1" height="25" fill="#ff0000"/>
<rect x="1321" y="466" width="3" height="2" fill="#ff0000"/>
<rect x="1326" y="440" width="1" height="34" fill="#ff0000"/>
<rect x="1325" y="457" width="3" height="10" fill="#ff0000"/>
<rect x="1330" y="456" width="1" height="4" fill="#00ff00"/>
<rect x="1329" y="457" width="3" height="2" fill="#00ff00"/>
<rect x="1334" y="448" width="1" height="15" fill="#00ff00"/>
<rect x="1333" y="457" width="3" height="4" fill="#00ff00"/>
<rect x="1338" y="456" width="1" height="27" fill="#00ff00"/>
<rect x="1337" y="464" width="3" height="15" fill="#00ff00"/>
<rect x="1342" y="468" width="1" height="13" fill="#ff0000"/>
<rect x="1341" y="470" width="3" height="9" fill="#ff0000"/>
<path d="M18 84.5h5M18 85.5h1M23.5 85v2M17.5 86v2M50.5 86v2M24 87.5h1M48 87.5h2M16.5 88v2M25.5 88v2M46 88.5h2M51.5 88v2M44 89.5h2M15.5 90v2M26 90.5h1M38 90.5h6M52.5 90v2M27 91.5h1M36 91.5h2M14.5 92v3M28.5 92v2M34 92.5h2M53.5 92v2M33 93.5h1M66 93.5h2M74 93.5h3M29 94.5h1M31 94.5h2M54 94.5h3M64 94.5h2M68 94.5h2M72 94.5h2M77 94.5h2M13.5 95v2M30 95.5h1M57 95.5h7M70 95.5h2M78 95.5h1M79.5 96v2M12.5 97v3M80.5 98v2M11.5 100v2M81.5 100v2M10.5 102v3M82.5 102v2M83.5 104v3M9.5 105v2M8.5 107v3M84.5 107v2M85.5 109v3M7.5 110v2M6.5 112v2M86.5 112v3M87.5 115v2M88.5 117v3M89.5 120v2M90.5 122v2M91 124.5h1M92.5 125v2M93 127.5h1M94.5 128v2M95.5 130v2M96.5 132v2M97.5 134v2M98 136.5h1M99 137.5h2M101 138.5h1M102 139.5h1M103 140.5h1M104.5 141v2M105 143.5h1M109 143.5h6M106 144.5h3M115 144.5h1M116.5 145v2M117 147.5h1M118.5 148v2M119.5 150v3M120.5 153v4M121.5 157v3M122.5 160v3M123.5 163v3M124.5 166v3M125.5 169v3M126.5 172v5M127.5 177v6M128.5 183v6M129.5 189v6M150 192.5h3M150 193.5h1M153 193.5h3M162 193.5h2M149.5 194v4M156 194.5h2M160 194.5h2M164 194.5h2M130.5 195v5M158 195.5h2M166.5 195v2M167.5 197v2M148.5 198v3M168.5 199v2M131.5 200v3M147.5 201v4M169.5 201v2M132.5 203v2M170 203.5h1M171 204.5h1M133.5 205v3M146.5 205v2M172 205.5h1M173 206.5h1M145 207.5h1M174 207.5h1M190 207.5h3M134.5 208v2M144 208.5h1M175 208.5h2M189.5 208v2M193 208.5h2M143 209.5h1M177 209.5h1M195 209.5h2M135 210.5h2M142 210.5h1M178 210.5h1M188.5 210v2M197 210.5h1M137 211.5h1M140 211.5h2M179 211.5h1M198 211.5h2M138 212.5h2M180 212.5h1M187.5 212v2M200 212.5h2M181 213.5h1M202 213.5h2M182 214.5h5M204 214.5h2M206 215.5h1M207.5 216v2M208 218.5h1M209.5 219v2M210 221.5h1M211 222.5h1M212.5 223v2M213 225.5h1M214 226.5h1M215 227.5h1M216.5 228v2M217 230.5h1M218.5 231v2M219.5 233v2M220.5 235v2M221.5 237v2M222 239.5h1M223 240.5h1M1138 240.5h1M224.5 241v2M250 241.5h1M1137 241.5h1M1139.5 241v2M249 242.5h1M251 242.5h2M1136.5 242v2M225 243.5h1M248 243.5h1M253 243.5h1M1140.5 243v2M226 244.5h1M247 244.5h1M254 244.5h1M1135 244.5h1M227.5 245v2M246 245.5h1M255 245.5h2M1134 245.5h1M1141.5 245v2M245 246.5h1M257 246.5h1M261 246.5h2M1132 246.5h2M228 247.5h1M244 247.5h1M258 247.5h3M262 247.5h1M1129 247.5h3M1142.5 247v2M229.5 248v2M243 248.5h1M263.5 248v3M1126 248.5h3M241 249.5h2M1125 249.5h1M1143.5 249v2M230 250.5h11M1123 250.5h2M264.5 251v2M1122 251.5h1M1144.5 251v3M1121.5 252v2M265.5 253v3M1120.5 254v2M1145.5 254v2M266.5 256v3M1119.5 256v2M1146.5 256v3M1118 258.5h1M267.5 259v4M1117.5 259v2M1147.5 259v3M1116 261.5h1M1115.5 262v2M1148.5 262v4M268.5 263v3M1114.5 264v2M269.5 266v4M1113.5 266v4M1149.5 266v3M1150.5 269v4M270.5 270v3M1112.5 270v4M271.5 273v4M1151.5 273v4M1111.5 274v4M272.5 277v4M1152.5 277v4M1110.5 278v4M273.5 281v4M1153.5 281v4M1109.5 282v3M274.5 285v4M1108.5 285v2M1154.5 285v5M1107.5 287v3M275.5 289v4M1106.5 290v3M1155.5 290v4M1054 291.5h1M1053.5 292v2M1055.5 292v2M276.5 293v4M1105.5 293v2M1052 294.5h1M1056 294.5h1M1156.5 294v5M1051.5 295v2M1057.5 295v2M1104.5 295v3M277.5 297v4M1050.5 297v2M1058 297.5h3M1061 298.5h2M1103.5 298v2M1049.5 299v4M1063.5 299v2M1157.5 299v4M1102.5 300v2M278.5 301v4M1064 301.5h1M1065.5 302v2M1101.5 302v2M1048.5 303v3M1158.5 303v4M1066 304.5h1M1100.5 304v2M279.5 305v4M1067 305.5h2M1047.5 306v4M1069 306.5h1M1099.5 306v2M1070 307.5h1M1159.5 307v3M1071 308.5h1M1098.5 308v2M280.5 309v5M1072.5 309v2M1046.5 310v4M1078 310.5h2M1097 310.5h1M1160.5 310v2M1073 311.5h1M1076 311.5h2M1080 311.5h2M1085 311.5h6M1096.5 311v2M1074 312.5h2M1082 312.5h3M1091 312.5h2M1161.5 312v3M1093 313.5h1M1095 313.5h1M281.5 314v4M1045.5 314v5M1094 314.5h1M1162.5 315v3M282.5 318v4M1163.5 318v3M1044.5 319v6M502 320.5h3M501 321.5h1M505 321.5h2M1164.5 321v2M283.5 322v4M500.5 322v2M506 322.5h1M507.5 323v2M1165.5 323v3M499 324.5h1M498.5 325v2M508.5 325v2M1043.5 325v5M284.5 326v3M1166.5 326v2M497.5 327v3M509.5 327v2M1167.5 328v2M285.5 329v4M510.5 329v2M496.5 330v3M1042.5 330v5M1168 330.5h1M511.5 331v3M1169.5 331v2M286.5 333v3M495.5 333v3M1170 333.5h2M512.5 334v2M1172 334.5h2M1041.5 335v4M1174 335.5h1M287.5 336v3M494.5 336v4M513.5 336v3M1175 336.5h2M1177 337.5h1M1178 338.5h1M288.5 339v3M514.5 339v3M1040.5 339v5M1179 339.5h1M493.5 340v5M1180.5 340v2M289.5 342v3M515.5 342v2M1181 342.5h1M1182 343.5h1M516.5 344v2M1039.5 344v4M1183 344.5h2M290.5 345v3M492.5 345v5M1185 345.5h1M517.5 346v2M1186 346.5h1M1187.5 347v2M291.5 348v3M518.5 348v2M1038.5 348v5M1188 349.5h1M491.5 350v5M519 350.5h1M1189.5 350v2M292.5 351v2M520 351.5h1M521 352.5h1M1190.5 352v2M293.5 353v3M522 353.5h1M1037.5 353v6M523.5 354v2M1191.5 354v2M490.5 355v5M294.5 356v3M524 356.5h1M1192.5 356v2M525.5 357v2M1193.5 358v2M295.5 359v3M526 359.5h1M1036.5 359v6M489.5 360v4M527 360.5h1M1194 360.5h1M528 361.5h1M1195.5 361v2M296.5 362v2M529 362.5h1M530 363.5h3M1196 363.5h1M297.5 364v3M488.5 364v4M533 364.5h2M1197.5 364v2M535 365.5h2M1035.5 365v6M537 366.5h1M1198 366.5h2M298.5 367v3M538.5 367v2M1200 367.5h2M487.5 368v4M1202 368.5h1M539.5 369v3M1203 369.5h1M299.5 370v3M626 370.5h1M1204 370.5h1M625 371.5h1M627.5 371v2M1034.5 371v5M1205 371.5h1M486.5 372v4M540.5 372v2M623 372.5h2M1206 372.5h1M300.5 373v2M622.5 373v2M628 373.5h1M1207 373.5h2M541.5 374v3M629.5 374v2M1209 374.5h1M301.5 375v3M621.5 375v3M1210 375.5h5M485.5 376v4M630.5 376v2M1033.5 376v5M1215 376.5h2M542.5 377v2M1217 377.5h1M302.5 378v2M620.5 378v4M631.5 378v2M1218 378.5h1M543.5 379v2M1219.5 379v2M303.5 380v2M484.5 380v3M632.5 380v3M438 381.5h1M544 381.5h1M570 381.5h1M666 381.5h3M1032.5 381v5M1220 381.5h1M304.5 382v2M313 382.5h2M437 382.5h1M439.5 382v2M545.5 382v2M569.5 382v2M571.5 382v2M619.5 382v3M665 382.5h1M669 382.5h2M1221.5 382v2M310 383.5h3M315.5 383v2M341 383.5h2M435 383.5h2M483.5 383v4M633.5 383v2M663 383.5h2M670 383.5h1M305.5 384v2M309 384.5h1M338 384.5h3M343 384.5h1M434 384.5h1M440.5 384v2M546 384.5h1M568 384.5h1M572 384.5h1M662.5 384v2M671.5 384v2M1222 384.5h1M307 385.5h2M316.5 385v2M338 385.5h1M344.5 385v2M433.5 385v2M547 385.5h1M567.5 385v2M573.5 385v2M618.5 385v3M634.5 385v4M1223 385.5h1M306 386.5h1M337.5 386v3M441.5 386v2M548.5 386v2M661.5 386v4M672.5 386v2M1031.5 386v5M1224.5 386v2M317.5 387v2M345 387.5h1M432 387.5h1M482.5 387v3M566 387.5h1M574 387.5h1M346 388.5h1M431.5 388v2M442 388.5h1M549 388.5h1M565.5 388v2M575 388.5h1M617.5 388v2M673.5 388v2M1225 388.5h1M318 389.5h3M325 389.5h2M336.5 389v3M347 389.5h1M443 389.5h2M550 389.5h1M576.5 389v2M635.5 389v5M1226 389.5h3M1246 389.5h1M321 390.5h4M327.5 390v2M348 390.5h1M430 390.5h1M445 390.5h1M481.5 390v3M551 390.5h2M564 390.5h1M616.5 390v3M660.5 390v3M674 390.5h1M1229 390.5h3M1245 390.5h1M1247 390.5h2M349 391.5h1M429.5 391v2M446 391.5h1M553 391.5h1M563.5 391v2M577 391.5h1M675 391.5h1M1030.5 391v4M1232 391.5h2M1243 391.5h2M1249 391.5h1M328.5 392v2M335.5 392v3M350 392.5h1M447.5 392v2M554 392.5h1M578.5 392v2M676.5 392v2M1234 392.5h3M1241 392.5h2M1250.5 392v2M351.5 393v2M428.5 393v2M480.5 393v3M555 393.5h1M562 393.5h1M615.5 393v2M659.5 393v4M698 393.5h2M1237 393.5h4M329.5 394v2M448 394.5h1M556.5 394v2M561 394.5h1M579.5 394v3M636.5 394v4M677 394.5h1M696 394.5h2M700 394.5h2M1251.5 394v3M334.5 395v2M352 395.5h1M427.5 395v2M449.5 395v2M560 395.5h1M614.5 395v3M678 395.5h3M694 395.5h2M702 395.5h1M1029.5 395v4M330 396.5h4M353.5 396v2M479.5 396v3M557 396.5h1M559 396.5h1M681 396.5h3M693 396.5h1M703 396.5h1M426.5 397v3M450.5 397v2M558 397.5h1M580.5 397v2M658.5 397v3M684 397.5h2M692 397.5h1M704.5 397v2M1252.5 397v4M354.5 398v2M382 398.5h2M613.5 398v3M637.5 398v5M686 398.5h3M691 398.5h1M381.5 399v2M384 399.5h2M451.5 399v2M478.5 399v2M581.5 399v3M689 399.5h2M705 399.5h1M1028.5 399v3M355.5 400v3M386 400.5h5M425.5 400v3M657.5 400v4M706 400.5h1M380.5 401v2M391 401.5h1M452.5 401v3M477.5 401v2M612.5 401v3M707.5 401v2M1253.5 401v3M392.5 402v2M582.5 402v3M1027.5 402v4M356.5 403v2M379.5 403v2M424.5 403v3M476.5 403v2M638.5 403v5M708.5 403v2M393 404.5h1M453.5 404v2M611.5 404v3M656.5 404v4M1254.5 404v3M357.5 405v3M378.5 405v2M394.5 405v2M475.5 405v2M583.5 405v2M709.5 405v2M423.5 406v3M454.5 406v2M1026.5 406v2M377.5 407v2M395.5 407v2M474.5 407v2M584.5 407v2M610.5 407v3M710.5 407v2M1255.5 407v3M358.5 408v3M455 408.5h1M639.5 408v5M655.5 408v4M1025.5 408v2M376 409.5h1M396.5 409v2M422.5 409v3M456.5 409v2M473 409.5h1M585.5 409v2M711.5 409v2M375.5 410v2M471 410.5h2M609.5 410v3M1024 410.5h1M1256.5 410v2M359.5 411v2M397.5 411v2M457 411.5h1M461 411.5h10M586.5 411v2M712.5 411v2M1023.5 411v2M374 412.5h1M421.5 412v2M458 412.5h3M654.5 412v3M1257.5 412v3M360.5 413v2M373 413.5h1M398.5 413v2M587.5 413v2M608.5 413v3M640.5 413v5M713.5 413v2M1022.5 413v2M372 414.5h1M420.5 414v3M361.5 415v2M366 415.5h3M371 415.5h1M399.5 415v2M588.5 415v2M653.5 415v3M714.5 415v2M1021.5 415v3M1258.5 415v3M364 416.5h2M369 416.5h2M607.5 416v3M362 417.5h2M400 417.5h1M419.5 417v2M589.5 417v2M715.5 417v2M401.5 418v2M641.5 418v5M652.5 418v3M1020.5 418v4M1259.5 418v4M418.5 419v2M590.5 419v2M606.5 419v2M716.5 419v2M402.5 420v2M417.5 421v2M591 421.5h1M604 421.5h2M651.5 421v3M717.5 421v2M403.5 422v2M592.5 422v2M602 422.5h2M1019.5 422v3M1260.5 422v4M416 423.5h1M601 423.5h1M642.5 423v3M718.5 423v2M404.5 424v2M415.5 424v2M593 424.5h1M599 424.5h2M650.5 424v2M594 425.5h5M643 425.5h1M719.5 425v2M1018.5 425v3M405.5 426v2M414 426.5h1M644 426.5h2M648 426.5h2M1261.5 426v4M413 427.5h1M646 427.5h2M720.5 427v2M406 428.5h3M411 428.5h2M1017.5 428v3M409 429.5h2M721.5 429v2M1262.5 430v3M722.5 431v3M1016.5 431v4M1263.5 433v3M1282 433.5h5M723.5 434v2M1281 434.5h1M1286 434.5h1M1015.5 435v3M1279 435.5h2M1287.5 435v2M724.5 436v3M1264.5 436v2M1277 436.5h2M1274 437.5h3M1288.5 437v3M1014.5 438v3M1265.5 438v3M1273.5 438v2M725.5 439v2M1272 440.5h1M1289.5 440v2M726.5 441v3M1013.5 441v2M1266.5 441v2M1271.5 441v2M1267 442.5h2M1290.5 442v2M1012.5 443v2M1269 443.5h2M727.5 444v4M1291.5 444v2M1011.5 445v2M1292.5 446v2M1010.5 447v2M728.5 448v4M1293.5 448v2M1009.5 449v2M1294 450.5h1M1008.5 451v2M1295 451.5h2M729.5 452v4M1297 452.5h1M949 453.5h2M1007.5 453v2M1298 453.5h1M946 454.5h3M951.5 454v2M1299 454.5h1M945 455.5h1M1006.5 455v3M1300 455.5h1M730.5 456v3M943 456.5h2M952.5 456v2M1301 456.5h1M942.5 457v2M1302 457.5h1M953.5 458v2M1005.5 458v3M1303 458.5h1M731.5 459v4M941.5 459v2M1304 459.5h1M954.5 460v2M1305 460.5h1M940.5 461v3M1004.5 461v3M1306 461.5h3M955.5 462v3M1309 462.5h2M1334 462.5h2M732.5 463v3M1311 463.5h1M1332 463.5h2M1336 463.5h2M939.5 464v2M1003.5 464v3M1312 464.5h1M1330 464.5h2M1338 464.5h3M956.5 465v4M1313 465.5h1M1328 465.5h2M1341 465.5h2M733.5 466v4M938.5 466v3M1314 466.5h3M1326 466.5h2M1002.5 467v2M1317 467.5h4M1324 467.5h2M1321 468.5h3M937.5 469v4M957.5 469v3M1001 469.5h1M734.5 470v3M999 470.5h2M998 471.5h1M958.5 472v3M997.5 472v2M735.5 473v4M936.5 473v3M996 474.5h1M959.5 475v2M995.5 475v2M935.5 476v4M736.5 477v4M960.5 477v3M994 477.5h1M993.5 478v2M934.5 480v3M961.5 480v2M992.5 480v2M737.5 481v4M962.5 482v3M991.5 482v2M933.5 483v3M990 484.5h1M738.5 485v3M963.5 485v2M989 485.5h1M932.5 486v4M987 486.5h2M964.5 487v2M986 487.5h1M739.5 488v3M985.5 488v2M965.5 489v2M931.5 490v3M984 490.5h1M740.5 491v4M966 491.5h1M983.5 491v2M967.5 492v2M930.5 493v3M982 493.5h1M968.5 494v2M981.5 494v2M741.5 495v3M929.5 496v2M969.5 496v2M980.5 496v2M742.5 498v3M928.5 498v3M970 498.5h1M979.5 498v2M971 499.5h1M972 500.5h1M978.5 500v2M743.5 501v2M927.5 501v2M973 501.5h1M977 501.5h1M974 502.5h3M744.5 503v2M926.5 503v2M745.5 505v2M925.5 505v2M810 506.5h1M886 506.5h1M746 507.5h3M808 507.5h2M811 507.5h1M884 507.5h2M887 507.5h1M924.5 507v2M749 508.5h2M806 508.5h2M812 508.5h1M877 508.5h7M888 508.5h1M751 509.5h1M805.5 509v2M813 509.5h1M870 509.5h7M889 509.5h1M923.5 509v2M752 510.5h1M814 510.5h1M869 510.5h1M890 510.5h1M753 511.5h1M761 511.5h6M804.5 511v2M815.5 511v2M867 511.5h2M891.5 511v2M922.5 511v2M754 512.5h7M767 512.5h1M866 512.5h1M768 513.5h1M803.5 513v2M816.5 513v2M865.5 513v2M892 513.5h1M920 513.5h2M769 514.5h1M893.5 514v2M918 514.5h2M770 515.5h2M802 515.5h1M817.5 515v2M864.5 515v2M917 515.5h1M772 516.5h2M801.5 516v2M894 516.5h1M916 516.5h1M774 517.5h1M818.5 517v2M863.5 517v2M895 517.5h1M915 517.5h1M775.5 518v2M800 518.5h1M896 518.5h1M913 518.5h2M799.5 519v2M819.5 519v2M862 519.5h1M897 519.5h1M910 519.5h3M776 520.5h1M860 520.5h2M898 520.5h5M909 520.5h1M777.5 521v2M798 521.5h1M820.5 521v2M858 521.5h2M903 521.5h2M908 521.5h1M797 522.5h1M858 522.5h1M905 522.5h1M907 522.5h1M778 523.5h1M796.5 523v2M821.5 523v2M857.5 523v2M906 523.5h1M779 524.5h1M780 525.5h1M795 525.5h1M822 525.5h1M856.5 525v2M781 526.5h1M794 526.5h1M823.5 526v2M782 527.5h1M793 527.5h1M855.5 527v2M783 528.5h1M792.5 528v2M824 528.5h1M784.5 529v2M825.5 529v2M854.5 529v3M791 530.5h1M785 531.5h1M789 531.5h2M826.5 531v2M786 532.5h3M853.5 532v3M827.5 533v2M828.5 535v3M852.5 535v3M829.5 538v2M851.5 538v3M830.5 540v2M850.5 541v2M831.5 542v2M849.5 543v2M832 544.5h1M833.5 545v2M848.5 545v2M834 547.5h2M842 547.5h2M847.5 547v2M836 548.5h2M840 548.5h2M844 548.5h2M838 549.5h2M846 549.5h1" fill="none" stroke="#ffa500" stroke-width="1"/>
<path d="M53 90.5h8M10 91.5h7M50 91.5h3M61 91.5h4M69 91.5h3M8 92.5h2M17 92.5h3M49 92.5h1M65 92.5h4M72 92.5h2M6 93.5h2M20 93.5h2M48 93.5h1M74 93.5h3M22 94.5h2M47 94.5h1M77 94.5h4M24 95.5h2M46 95.5h1M81 95.5h2M26 96.5h3M45 96.5h1M83 96.5h2M29 97.5h4M43 97.5h2M85 97.5h1M33 98.5h4M41 98.5h2M86 98.5h1M37 99.5h4M87 99.5h1M88 100.5h1M89 101.5h1M90 102.5h1M91 103.5h1M92 104.5h1M93 105.5h1M94 106.5h1M95 107.5h1M96 108.5h1M97 109.5h1M98 110.5h1M99 111.5h2M101 112.5h1M102 113.5h1M103.5 114v2M104 116.5h1M105.5 117v2M106 119.5h3M109 120.5h2M111 121.5h2M113 122.5h1M114 123.5h1M115.5 124v2M116 126.5h1M117.5 127v2M118.5 129v2M119.5 131v2M120.5 133v2M121.5 135v2M122.5 137v3M123.5 140v2M124.5 142v2M125.5 144v2M126.5 146v3M127.5 149v3M128.5 152v2M129.5 154v3M130.5 157v2M131.5 159v2M132 161.5h1M133.5 162v2M134 164.5h1M135 165.5h1M136 166.5h1M137 167.5h1M138 168.5h1M139 169.5h1M140 170.5h1M141 171.5h1M142 172.5h1M143 173.5h1M144.5 174v2M145 176.5h1M146 177.5h1M147 178.5h1M148 179.5h1M149 180.5h1M150 181.5h1M151 182.5h1M152 183.5h1M153 184.5h1M154 185.5h1M155 186.5h2M157 187.5h1M158 188.5h2M160 189.5h2M162 190.5h1M163 191.5h1M164.5 192v2M165 194.5h1M166 195.5h1M167.5 196v2M168.5 198v2M169.5 200v2M186 201.5h5M170 202.5h1M185 202.5h1M191 202.5h2M171 203.5h1M183 203.5h2M193 203.5h1M172 204.5h1M182 204.5h1M194 204.5h2M173 205.5h1M180 205.5h2M196 205.5h2M174 206.5h6M198 206.5h3M201 207.5h3M204 208.5h2M206 209.5h1M207 210.5h2M209 211.5h1M210 212.5h1M211 213.5h2M213 214.5h1M214 215.5h1M215 216.5h1M216 217.5h1M217 218.5h1M218 219.5h1M219 220.5h1M220 221.5h1M221 222.5h1M222 223.5h3M225 224.5h2M227 225.5h2M229 226.5h1M230 227.5h1M231 228.5h2M233 229.5h1M234 230.5h2M236 231.5h2M238 232.5h1M239 233.5h2M241 234.5h1M242 235.5h1M243 236.5h2M245 237.5h1M246 238.5h3M249 239.5h3M252 240.5h2M254 241.5h1M255 242.5h2M257 243.5h1M258 244.5h2M260 245.5h2M262 246.5h1M263 247.5h1M264 248.5h1M265 249.5h1M266 250.5h1M267 251.5h1M268.5 252v2M269 254.5h1M270 255.5h1M271.5 256v2M272 258.5h1M273.5 259v2M274 261.5h1M1149 261.5h2M275.5 262v2M1146 262.5h3M1151 262.5h2M1144 263.5h2M1153 263.5h1M276 264.5h1M1142 264.5h2M1154 264.5h1M277.5 265v2M1140 265.5h2M1155 265.5h1M1138 266.5h2M1156 266.5h1M278 267.5h1M1137 267.5h1M1157 267.5h1M279.5 268v2M1136.5 268v2M1158 268.5h1M1159 269.5h1M280 270.5h1M1135 270.5h1M1160.5 270v2M281.5 271v2M1134 271.5h1M1133 272.5h1M1161 272.5h1M282 273.5h1M1132.5 273v2M1162 273.5h1M283.5 274v2M1163.5 274v2M1131 275.5h1M284.5 276v2M1130 276.5h1M1164 276.5h1M1129.5 277v2M1165.5 277v2M285.5 278v2M1128 279.5h1M1166 279.5h1M286.5 280v2M1127.5 280v2M1167.5 280v2M287.5 282v2M1126 282.5h1M1168.5 282v2M1125 283.5h1M288.5 284v2M1124.5 284v2M1169.5 284v2M289.5 286v2M1123 286.5h1M1170 286.5h1M1122 287.5h1M1171 287.5h1M290.5 288v3M1121 288.5h1M1172.5 288v2M1120 289.5h1M1119 290.5h1M1173 290.5h1M291.5 291v2M1118 291.5h1M1174.5 291v2M1117 292.5h1M292.5 293v3M1116 293.5h1M1175.5 293v2M1115 294.5h1M1114 295.5h1M1176.5 295v2M293.5 296v2M1113 296.5h1M1112.5 297v2M1177.5 297v2M294.5 298v3M1111 299.5h1M1178.5 299v2M1110 300.5h1M295.5 301v2M1109 301.5h1M1179.5 301v2M1107 302.5h2M296.5 303v3M1090 303.5h1M1106 303.5h1M1180.5 303v2M1088 304.5h2M1091 304.5h2M1105 304.5h1M1086 305.5h2M1093 305.5h1M1103 305.5h2M1181.5 305v2M297.5 306v2M1085 306.5h1M1094 306.5h9M1084 307.5h1M1182 307.5h1M298.5 308v3M1083 308.5h1M1183.5 308v2M1082 309.5h1M1081 310.5h1M1184.5 310v2M299.5 311v3M1080.5 311v2M1185.5 312v2M1079 313.5h1M300.5 314v3M1078 314.5h1M1186.5 314v2M1077 315.5h1M1076.5 316v2M1187.5 316v2M301.5 317v3M1075 318.5h1M1188.5 318v3M1074 319.5h1M302.5 320v3M1073.5 320v2M1189.5 321v2M1072.5 322v2M303.5 323v3M1190.5 323v3M1071.5 324v2M304.5 326v2M1070 326.5h1M1191.5 326v2M1069.5 327v2M305.5 328v3M1192.5 328v3M1068.5 329v2M306.5 331v2M1067.5 331v2M1193.5 331v2M307.5 333v2M1066.5 333v3M1194.5 333v2M308.5 335v2M1195.5 335v2M1065.5 336v2M309.5 337v2M1196.5 337v2M1064.5 338v3M310.5 339v2M1197.5 339v2M311.5 341v2M1063.5 341v2M1198 341.5h1M1199 342.5h1M312.5 343v2M1062.5 343v2M1200.5 343v2M313.5 345v2M1061.5 345v2M1201 345.5h1M530 346.5h9M1202 346.5h1M314.5 347v2M528 347.5h2M539 347.5h1M1060.5 347v2M1203 347.5h1M526 348.5h2M540.5 348v2M1204.5 348v2M315.5 349v3M524 349.5h2M1059.5 349v2M522 350.5h2M541 350.5h1M1205 350.5h1M521 351.5h1M542 351.5h1M1058.5 351v2M1206 351.5h1M316.5 352v4M520 352.5h1M543.5 352v2M1207 352.5h1M519 353.5h1M1057.5 353v2M1208 353.5h1M518 354.5h1M544 354.5h1M1209 354.5h1M517 355.5h1M545.5 355v2M1056.5 355v2M1210 355.5h1M317.5 356v3M516 356.5h1M1211 356.5h1M515 357.5h1M546 357.5h1M1055.5 357v2M1212 357.5h1M514 358.5h1M547.5 358v2M1213 358.5h1M318.5 359v3M513 359.5h1M1054.5 359v3M1214 359.5h1M512 360.5h1M548.5 360v2M1215 360.5h1M511 361.5h1M1216 361.5h1M319.5 362v2M510 362.5h1M549.5 362v2M1053.5 362v3M1217 362.5h1M509 363.5h1M1218 363.5h1M320.5 364v2M508 364.5h1M550 364.5h1M1219 364.5h1M507 365.5h1M551.5 365v2M1052.5 365v4M1220 365.5h1M321.5 366v2M506 366.5h1M1221 366.5h1M505 367.5h1M552 367.5h1M1222 367.5h1M322.5 368v2M504 368.5h1M553.5 368v2M1223 368.5h1M503 369.5h1M1051.5 369v3M1224 369.5h1M323 370.5h1M502 370.5h1M554 370.5h1M1225 370.5h1M324.5 371v2M501.5 371v2M555 371.5h1M1226 371.5h1M556 372.5h1M1050.5 372v3M1227 372.5h1M325 373.5h1M500 373.5h1M557 373.5h1M1228 373.5h1M326 374.5h1M499.5 374v2M558 374.5h1M1229 374.5h1M327 375.5h1M559 375.5h2M1049.5 375v3M1230 375.5h1M328 376.5h1M498 376.5h1M561 376.5h1M1231 376.5h2M329 377.5h1M497.5 377v2M562 377.5h3M1233 377.5h1M330 378.5h1M565 378.5h4M1048.5 378v3M1234 378.5h1M331 379.5h2M496.5 379v2M569 379.5h2M1235 379.5h2M333 380.5h1M571 380.5h1M1237 380.5h1M334 381.5h2M495.5 381v2M572 381.5h1M1047.5 381v3M1238 381.5h2M336 382.5h2M573 382.5h1M1240 382.5h2M338 383.5h1M494.5 383v2M574 383.5h1M1242 383.5h3M339 384.5h2M575 384.5h1M1046.5 384v3M1245 384.5h3M341 385.5h1M493.5 385v2M576.5 385v2M1248 385.5h2M342 386.5h1M1250 386.5h1M343 387.5h2M492 387.5h1M577 387.5h1M1045.5 387v4M1251.5 387v2M345 388.5h1M491.5 388v2M578 388.5h1M346 389.5h2M579 389.5h1M1252 389.5h1M348 390.5h2M490 390.5h1M580 390.5h1M1253.5 390v2M350 391.5h3M489 391.5h1M581 391.5h1M698 391.5h6M1044.5 391v4M353 392.5h3M487 392.5h2M582 392.5h1M697 392.5h1M704 392.5h2M1254 392.5h1M356 393.5h2M486 393.5h1M583 393.5h2M661 393.5h3M696 393.5h1M706 393.5h1M1255.5 393v2M358 394.5h1M485 394.5h1M585 394.5h1M658 394.5h3M664 394.5h2M695 394.5h1M707 394.5h1M359 395.5h1M483 395.5h2M586 395.5h1M657 395.5h1M666 395.5h3M694 395.5h1M708.5 395v2M1043.5 395v4M1256 395.5h1M360 396.5h1M482 396.5h1M587 396.5h1M655 396.5h2M669 396.5h3M693 396.5h1M1257.5 396v2M361 397.5h1M481 397.5h1M588 397.5h1M654 397.5h1M672 397.5h2M692.5 397v2M709 397.5h1M362 398.5h2M479 398.5h2M589 398.5h1M653 398.5h1M674 398.5h1M710 398.5h1M1258 398.5h1M364 399.5h2M377 399.5h4M465 399.5h14M590 399.5h1M652 399.5h1M675 399.5h1M691 399.5h1M711 399.5h1M1042.5 399v3M1259.5 399v2M366 400.5h1M374 400.5h3M381 400.5h3M462 400.5h3M591 400.5h1M651 400.5h1M676 400.5h1M690 400.5h1M712 400.5h1M367 401.5h2M373 401.5h1M384 401.5h2M460 401.5h2M592.5 401v2M621 401.5h4M629 401.5h7M650 401.5h1M677 401.5h1M688 401.5h2M713 401.5h1M1260 401.5h1M369 402.5h1M371 402.5h2M386 402.5h1M458 402.5h2M618 402.5h3M625 402.5h4M636 402.5h2M649 402.5h1M678 402.5h10M714 402.5h1M1041.5 402v3M1261.5 402v2M370 403.5h1M387 403.5h2M456 403.5h2M593 403.5h1M616 403.5h2M638 403.5h1M647 403.5h2M715 403.5h2M389 404.5h1M453 404.5h3M594 404.5h3M613 404.5h3M639 404.5h2M646 404.5h1M717 404.5h1M1262 404.5h1M390 405.5h1M437 405.5h4M445 405.5h8M597 405.5h4M609 405.5h4M641 405.5h1M644 405.5h2M718 405.5h1M1040.5 405v3M1263 405.5h1M391 406.5h2M434 406.5h3M441 406.5h4M601 406.5h8M642 406.5h2M719 406.5h1M1264 406.5h1M393 407.5h1M432 407.5h2M720 407.5h1M1265 407.5h1M394 408.5h2M429 408.5h3M721 408.5h1M1039.5 408v3M1266 408.5h1M396 409.5h2M425 409.5h4M722 409.5h1M1267 409.5h2M398 410.5h2M421 410.5h4M723.5 410v2M1269 410.5h1M400 411.5h2M418 411.5h3M1038.5 411v3M1270 411.5h2M402 412.5h1M417 412.5h1M724 412.5h1M1272 412.5h2M403 413.5h2M415 413.5h2M725.5 413v2M1274 413.5h1M405 414.5h1M414 414.5h1M1037.5 414v3M1275 414.5h1M406 415.5h3M412 415.5h2M726 415.5h1M1276 415.5h1M409 416.5h3M727.5 416v2M1277 416.5h1M1036.5 417v3M1278 417.5h1M728.5 418v2M1279 418.5h2M1281 419.5h1M729.5 420v2M1035.5 420v3M1282 420.5h1M1283 421.5h1M730 422.5h1M1284 422.5h1M731.5 423v2M1034.5 423v3M1285 423.5h1M1286 424.5h1M732.5 425v2M1287 425.5h1M1033.5 426v3M1288.5 426v2M733.5 427v2M1289 428.5h1M734.5 429v2M1032.5 429v4M1290 429.5h1M1291 430.5h1M735.5 431v2M1292 431.5h1M1293 432.5h1M736.5 433v2M1031.5 433v3M1294 433.5h1M1295.5 434v2M737.5 435v2M1030.5 436v3M1296 436.5h1M738.5 437v2M1297.5 437v2M739.5 439v2M1029.5 439v2M1298 439.5h1M1299 440.5h1M740.5 441v2M1028.5 441v3M1300.5 441v2M741.5 443v2M1301 443.5h1M1027.5 444v2M1302 444.5h1M742.5 445v2M1303 445.5h1M1026.5 446v2M1304 446.5h1M743.5 447v2M1305 447.5h1M1025.5 448v2M1306 448.5h3M744.5 449v2M1309 449.5h3M1024.5 450v2M1312 450.5h2M745.5 451v2M1314 451.5h6M1023.5 452v2M1320 452.5h2M746.5 453v3M1322 453.5h1M1022.5 454v2M1323 454.5h2M1325 455.5h1M747.5 456v2M1021.5 456v2M1326 456.5h1M1327 457.5h2M748.5 458v2M1020.5 458v2M1329 458.5h1M1330 459.5h3M749.5 460v2M1019.5 460v2M1333 460.5h2M1335 461.5h2M750.5 462v2M1018.5 462v2M1337 462.5h1M1338 463.5h3M751.5 464v2M1017.5 464v2M1341 464.5h2M752.5 466v3M1016.5 466v2M1015.5 468v2M753.5 469v2M1014 470.5h1M754.5 471v2M1013.5 471v2M755.5 473v2M1012 473.5h1M1011.5 474v2M756 475.5h1M757.5 476v2M1010 476.5h1M1009 477.5h1M758 478.5h1M981 478.5h7M1008 478.5h1M759.5 479v2M970 479.5h11M988 479.5h2M1007 479.5h1M968 480.5h2M990 480.5h1M1006 480.5h1M760.5 481v2M965 481.5h3M991 481.5h2M1005 481.5h1M961 482.5h4M993 482.5h1M1003 482.5h2M761.5 483v2M957 483.5h4M994 483.5h3M1001 483.5h2M954 484.5h3M997 484.5h4M762 485.5h1M952 485.5h2M763.5 486v2M950 486.5h2M949 487.5h1M764 488.5h1M948.5 488v2M765.5 489v2M947 490.5h1M766 491.5h1M946 491.5h1M767.5 492v2M945 492.5h1M944.5 493v2M768.5 494v2M943 495.5h1M769.5 496v2M942 496.5h1M941 497.5h1M770 498.5h1M940 498.5h1M771.5 499v2M939 499.5h1M938 500.5h1M772.5 501v2M937 501.5h1M936.5 502v2M773.5 503v2M935 504.5h1M774 505.5h1M934 505.5h1M775.5 506v2M933 506.5h1M931 507.5h2M776 508.5h1M930 508.5h1M777.5 509v2M929 509.5h1M927 510.5h2M778 511.5h1M926 511.5h1M779 512.5h1M924 512.5h2M780 513.5h1M902 513.5h7M921 513.5h3M781 514.5h1M901 514.5h1M909 514.5h4M917 514.5h4M782 515.5h1M899 515.5h2M913 515.5h4M783 516.5h2M894 516.5h5M785 517.5h1M809 517.5h3M892 517.5h2M786 518.5h3M801 518.5h8M812 518.5h2M890 518.5h2M789 519.5h12M814 519.5h2M888 519.5h2M816 520.5h2M886 520.5h2M818 521.5h2M885 521.5h1M820 522.5h2M884 522.5h1M822 523.5h3M883 523.5h1M825 524.5h4M881 524.5h2M829 525.5h3M878 525.5h3M832 526.5h2M877 526.5h1M834 527.5h2M875 527.5h2M836 528.5h2M841 528.5h3M874 528.5h1M838 529.5h3M844 529.5h2M873 529.5h1M846 530.5h3M853 530.5h4M871 530.5h2M849 531.5h4M857 531.5h4M869 531.5h2M861 532.5h8" fill="none" stroke="#ff0000" stroke-width="1"/>
<path d="M65 92.5h8M61 93.5h4M73 93.5h7M50 94.5h11M80 94.5h2M48 95.5h2M82 95.5h2M45 96.5h3M84 96.5h2M6 97.5h7M41 97.5h4M86 97.5h2M13 98.5h4M37 98.5h4M88 98.5h2M17 99.5h4M33 99.5h4M90 99.5h3M21 100.5h12M93 100.5h3M96 101.5h2M98 102.5h2M100 103.5h2M102 104.5h1M103 105.5h2M105 106.5h1M106 107.5h11M117 108.5h2M119 109.5h1M120 110.5h1M121 111.5h1M122 112.5h1M123 113.5h1M124.5 114v2M125 116.5h1M126 117.5h1M127.5 118v2M128 120.5h1M129.5 121v2M130 123.5h1M131 124.5h2M133 125.5h1M134 126.5h1M135 127.5h2M137 128.5h1M138 129.5h1M139 130.5h1M140 131.5h1M141 132.5h1M142 133.5h1M143 134.5h2M145 135.5h1M146 136.5h1M147 137.5h1M148 138.5h1M149 139.5h1M150 140.5h1M151 141.5h2M153 142.5h1M154 143.5h1M155 144.5h1M156 145.5h1M157 146.5h1M158 147.5h1M159 148.5h2M161 149.5h1M162 150.5h1M163 151.5h1M164 152.5h1M165 153.5h1M166 154.5h1M167 155.5h1M168.5 156v2M169 158.5h1M170 159.5h1M171 160.5h2M173 161.5h1M174 162.5h1M175 163.5h1M176 164.5h1M177 165.5h1M178 166.5h1M179 167.5h1M180 168.5h1M181 169.5h1M182 170.5h1M183 171.5h1M184 172.5h1M185 173.5h1M186 174.5h1M187 175.5h1M188 176.5h1M189 177.5h1M190 178.5h1M191 179.5h2M193 180.5h1M194 181.5h1M195 182.5h1M196 183.5h1M197 184.5h1M198 185.5h1M199 186.5h2M201 187.5h1M202 188.5h1M203 189.5h2M205 190.5h1M206 191.5h1M207 192.5h2M209 193.5h1M210 194.5h1M211 195.5h1M212 196.5h1M213 197.5h1M214 198.5h1M215 199.5h2M217 200.5h1M218 201.5h1M219 202.5h1M220 203.5h1M221 204.5h1M222 205.5h1M223 206.5h2M225 207.5h1M226 208.5h1M227 209.5h1M228 210.5h1M229 211.5h1M230 212.5h1M231 213.5h2M233 214.5h1M234 215.5h1M235 216.5h2M237 217.5h1M238 218.5h2M240 219.5h2M249 219.5h3M242 220.5h7M252 220.5h2M254 221.5h1M255 222.5h2M257 223.5h1M258 224.5h2M260 225.5h2M262 226.5h2M264 227.5h2M266 228.5h1M267 229.5h1M268 230.5h1M269 231.5h1M270 232.5h1M271 233.5h1M272.5 234v2M273 236.5h1M274 237.5h1M275 238.5h1M276.5 239v2M277 241.5h1M278 242.5h1M279 243.5h1M280.5 244v2M281 246.5h1M282 247.5h1M283 248.5h1M284.5 249v2M285 251.5h1M286 252.5h1M287 253.5h1M288 254.5h1M289 255.5h1M290 256.5h1M291.5 257v2M292 259.5h1M293.5 260v2M294 262.5h1M295.5 263v2M296 265.5h1M297.5 266v2M298 268.5h1M299.5 269v2M300 271.5h1M301.5 272v2M302 274.5h1M303.5 275v2M304 277.5h1M305.5 278v2M306 280.5h1M307 281.5h1M308.5 282v2M309 284.5h1M310 285.5h1M1150 285.5h6M311.5 286v2M1148 286.5h2M1156 286.5h2M1146 287.5h2M1158 287.5h3M312 288.5h1M1145 288.5h1M1161 288.5h3M313.5 289v2M1143 289.5h2M1164 289.5h2M1142 290.5h1M1166 290.5h3M314 291.5h1M1141 291.5h1M1169 291.5h3M315.5 292v2M1140 292.5h1M1172 292.5h2M1139 293.5h1M1174 293.5h6M316.5 294v2M1138 294.5h1M1180 294.5h2M1137.5 295v2M1182 295.5h2M317.5 296v2M1184 296.5h2M1136 297.5h1M1186 297.5h2M318 298.5h1M1135.5 298v2M1188 298.5h2M319.5 299v2M1190 299.5h2M1134 300.5h1M1192 300.5h2M320 301.5h1M1133.5 301v2M1194 301.5h2M321.5 302v2M1196 302.5h2M1132 303.5h1M1198 303.5h3M322 304.5h1M1131.5 304v2M1201 304.5h2M323 305.5h1M1203 305.5h2M324.5 306v2M1130 306.5h1M1205 306.5h1M1129.5 307v2M1206 307.5h1M325 308.5h1M1207 308.5h2M326 309.5h1M1128 309.5h1M1209 309.5h1M327.5 310v2M1127.5 310v2M1210 310.5h3M1213 311.5h2M328 312.5h1M1126 312.5h1M1215 312.5h2M329.5 313v2M1125.5 313v2M1217 313.5h1M1218 314.5h1M330 315.5h1M1124 315.5h1M1219 315.5h1M331 316.5h1M1123.5 316v2M1220 316.5h1M332 317.5h1M1221 317.5h1M333 318.5h1M1122 318.5h1M1222 318.5h1M334 319.5h1M1121.5 319v2M1223 319.5h1M335 320.5h1M1224.5 320v2M336 321.5h1M1120.5 321v2M337 322.5h1M1225 322.5h1M338 323.5h1M1119.5 323v2M1226 323.5h1M339 324.5h1M1227 324.5h1M340.5 325v2M1118 325.5h1M1228.5 325v2M1117.5 326v2M341 327.5h1M1229 327.5h1M342 328.5h1M1116.5 328v2M1230 328.5h1M343 329.5h1M1231 329.5h1M344.5 330v2M1115.5 330v2M1232 330.5h1M1233 331.5h1M345 332.5h1M1114 332.5h1M1234 332.5h1M346 333.5h1M1113.5 333v2M1235 333.5h1M347 334.5h1M1236.5 334v2M348.5 335v2M1112.5 335v2M1237 336.5h1M349 337.5h1M1111.5 337v2M1238 337.5h1M350 338.5h1M1239 338.5h1M351.5 339v2M1110 339.5h1M1240.5 339v2M1109.5 340v2M352 341.5h1M1241 341.5h1M353.5 342v2M1108.5 342v2M1242 342.5h1M1243 343.5h1M354 344.5h1M1107.5 344v2M1244.5 344v2M355.5 345v2M1106.5 346v2M1245 346.5h1M356 347.5h1M1246 347.5h1M357.5 348v2M1105.5 348v2M1247 348.5h1M1248.5 349v2M358 350.5h1M1104.5 350v2M359.5 351v2M1249 351.5h1M1103.5 352v2M1250 352.5h1M360 353.5h1M1251.5 353v2M361.5 354v2M1102 354.5h1M1101.5 355v2M1252.5 355v2M362 356.5h1M363 357.5h1M1100 357.5h1M1253.5 357v2M364.5 358v2M1099.5 358v2M1254 359.5h1M365 360.5h1M1098 360.5h1M1255.5 360v2M366 361.5h1M1097.5 361v2M367.5 362v2M1256.5 362v2M1096.5 363v2M368 364.5h1M1257.5 364v2M369.5 365v2M1095.5 365v2M1258 366.5h1M370 367.5h1M1094.5 367v2M1259.5 367v2M371 368.5h1M372.5 369v2M1093 369.5h1M1260 369.5h1M1092.5 370v2M1261.5 370v2M373 371.5h1M573 371.5h4M374 372.5h1M537 372.5h4M569 372.5h4M577 372.5h8M1091 372.5h1M1262 372.5h1M375 373.5h1M533 373.5h4M541 373.5h8M565 373.5h4M585 373.5h8M1090 373.5h1M1263.5 373v2M376 374.5h1M530 374.5h3M549 374.5h4M561 374.5h4M593 374.5h3M1089.5 374v2M377 375.5h1M528 375.5h2M553 375.5h8M596 375.5h2M1264 375.5h1M378 376.5h1M526 376.5h2M598 376.5h2M1088.5 376v2M1265.5 376v2M379 377.5h1M524 377.5h2M600 377.5h2M380.5 378v2M522 378.5h2M602 378.5h2M1087.5 378v2M1266 378.5h1M521 379.5h1M604 379.5h2M1267 379.5h2M381 380.5h1M519 380.5h2M606 380.5h2M1086 380.5h1M1269 380.5h1M382 381.5h1M518 381.5h1M608 381.5h2M1085.5 381v2M1270 381.5h1M383 382.5h1M517 382.5h1M610 382.5h2M1271 382.5h2M384 383.5h1M515 383.5h2M612 383.5h2M1084 383.5h1M1273 383.5h1M385 384.5h1M513 384.5h2M614 384.5h2M1083.5 384v2M1274 384.5h1M386 385.5h1M510 385.5h3M616 385.5h2M1275 385.5h1M387 386.5h1M508 386.5h2M618 386.5h3M1082 386.5h1M1276 386.5h1M388 387.5h1M506 387.5h2M621 387.5h3M1081.5 387v2M1277 387.5h1M389 388.5h1M504 388.5h2M624 388.5h2M1278 388.5h1M390 389.5h1M502 389.5h2M626 389.5h3M1080 389.5h1M1279 389.5h1M391 390.5h2M501 390.5h1M629 390.5h3M1079.5 390v2M1280 390.5h1M393 391.5h1M499 391.5h2M632 391.5h2M1281 391.5h1M394 392.5h1M498 392.5h1M634 392.5h1M1078 392.5h1M1282 392.5h1M395 393.5h2M497 393.5h1M635 393.5h2M1077.5 393v2M1283 393.5h2M397 394.5h1M495 394.5h2M637 394.5h1M1285 394.5h1M398 395.5h1M494 395.5h1M638 395.5h1M1076.5 395v2M1286 395.5h1M399 396.5h2M492 396.5h2M639 396.5h1M1287 396.5h1M401 397.5h1M490 397.5h2M640 397.5h1M1075.5 397v2M1288 397.5h1M402 398.5h1M489 398.5h1M641 398.5h1M1289 398.5h1M403 399.5h2M487 399.5h2M642 399.5h3M665 399.5h8M701 399.5h16M1074 399.5h1M1290 399.5h1M405 400.5h1M486 400.5h1M645 400.5h20M673 400.5h12M697 400.5h4M717 400.5h4M1073.5 400v2M1291 400.5h1M406 401.5h2M484 401.5h2M685 401.5h4M693 401.5h4M721 401.5h3M1292 401.5h1M408 402.5h2M438 402.5h3M482 402.5h2M689 402.5h4M724 402.5h2M1072 402.5h1M1293 402.5h1M410 403.5h19M436 403.5h2M441 403.5h8M481 403.5h1M726 403.5h1M1071.5 403v2M1294 403.5h1M429 404.5h7M449 404.5h4M479 404.5h2M727 404.5h1M1295 404.5h1M453 405.5h3M478 405.5h1M728.5 405v2M1070 405.5h1M1296 405.5h1M456 406.5h2M476 406.5h2M1069 406.5h1M1297 406.5h1M458 407.5h18M729 407.5h1M1068.5 407v2M1298 407.5h1M730 408.5h1M1299 408.5h1M731 409.5h1M1067 409.5h1M1300 409.5h1M732 410.5h1M1066 410.5h1M1301 410.5h1M733 411.5h1M1065 411.5h1M1302 411.5h1M734 412.5h1M1064.5 412v2M1303 412.5h2M735 413.5h1M1305 413.5h1M736 414.5h1M1063 414.5h1M1306 414.5h1M737 415.5h1M1062 415.5h1M1307 415.5h1M738 416.5h1M1061 416.5h1M1308 416.5h1M739.5 417v2M1060.5 417v2M1309 417.5h1M1310 418.5h1M740 419.5h1M1059 419.5h1M1311 419.5h2M741.5 420v2M1058 420.5h1M1313 420.5h1M1057 421.5h1M1314 421.5h1M742 422.5h1M1056 422.5h1M1315 422.5h2M743 423.5h1M1055 423.5h1M1317 423.5h1M744 424.5h1M1054 424.5h1M1318 424.5h1M745 425.5h1M1053 425.5h1M1319 425.5h2M746 426.5h1M1052.5 426v2M1321 426.5h1M747 427.5h1M1322 427.5h1M748 428.5h1M1051 428.5h1M1323 428.5h2M749 429.5h1M1050 429.5h1M1325 429.5h1M750 430.5h1M1049 430.5h1M1326 430.5h2M751 431.5h2M1048.5 431v2M1328 431.5h2M753 432.5h1M1330 432.5h1M754 433.5h3M1047 433.5h1M1331 433.5h2M757 434.5h3M1046 434.5h1M1333 434.5h1M760 435.5h2M1045.5 435v2M1334 435.5h1M762 436.5h1M1335 436.5h2M763 437.5h1M1044.5 437v2M1337 437.5h1M764 438.5h1M1338 438.5h1M765 439.5h1M1043.5 439v2M1339 439.5h2M766 440.5h1M1341 440.5h1M767 441.5h1M1042 441.5h1M1342 441.5h1M768 442.5h1M1041.5 442v2M769 443.5h1M770 444.5h1M1040.5 444v2M771.5 445v2M1039.5 446v2M772 447.5h1M773.5 448v2M1038 448.5h1M1037.5 449v2M774 450.5h1M775 451.5h1M1036.5 451v2M776.5 452v2M1035.5 453v2M777 454.5h1M778 455.5h1M1034 455.5h1M779 456.5h1M1033.5 456v2M780.5 457v2M1032.5 458v2M781 459.5h1M782 460.5h1M1031.5 460v2M783 461.5h1M784.5 462v2M1030 462.5h1M1029 463.5h1M785 464.5h1M1028.5 464v2M786 465.5h1M787 466.5h1M1027 466.5h1M788 467.5h1M1026 467.5h1M789 468.5h1M1025 468.5h1M790 469.5h1M1024 469.5h1M791 470.5h1M1023 470.5h1M792 471.5h1M1022 471.5h1M793 472.5h1M1021 472.5h1M794 473.5h1M1020.5 473v2M795 474.5h2M797 475.5h1M1019 475.5h1M798 476.5h1M1018 476.5h1M799 477.5h1M1017 477.5h1M800 478.5h1M1015 478.5h2M801 479.5h1M1014 479.5h1M802 480.5h1M1013 480.5h1M803 481.5h2M1012 481.5h1M805 482.5h1M1011 482.5h1M806 483.5h1M1010 483.5h1M807 484.5h1M1009 484.5h1M808 485.5h1M1007 485.5h2M809 486.5h1M1006 486.5h1M810 487.5h1M1005 487.5h1M811 488.5h1M1003 488.5h2M812.5 489v2M1002 489.5h1M1000 490.5h2M813 491.5h1M997 491.5h3M814 492.5h1M993 492.5h4M815 493.5h1M989 493.5h4M816.5 494v2M986 494.5h3M984 495.5h2M817 496.5h1M981 496.5h3M818 497.5h1M969 497.5h4M977 497.5h4M819 498.5h1M966 498.5h3M973 498.5h4M820 499.5h1M964 499.5h2M821 500.5h1M961 500.5h3M822 501.5h1M957 501.5h4M823 502.5h1M954 502.5h3M824 503.5h1M953 503.5h1M825 504.5h1M951 504.5h2M826 505.5h1M950 505.5h1M827 506.5h1M949 506.5h1M828.5 507v2M947 507.5h2M946 508.5h1M829 509.5h1M944 509.5h2M830 510.5h1M942 510.5h2M831 511.5h1M941 511.5h1M832 512.5h1M939 512.5h2M833 513.5h1M938 513.5h1M834 514.5h1M937 514.5h1M835 515.5h1M936 515.5h1M836 516.5h1M935 516.5h1M837 517.5h1M934 517.5h1M838 518.5h1M932 518.5h2M839 519.5h2M930 519.5h2M841 520.5h1M928 520.5h2M842 521.5h2M909 521.5h4M925 521.5h3M844 522.5h2M901 522.5h8M913 522.5h12M846 523.5h3M873 523.5h28M849 524.5h24" fill="none" stroke="#0000cd" stroke-width="1"/>
<rect x="6" y="216" width="1680" height="2" fill="#ff0000"/>
<rect x="5" y="214" width="6" height="6" fill="#ff0000"/>
<rect x="7" y="216" width="2" height="2" fill="#ffffff"/>
<rect x="1680" y="214" width="6" height="6" fill="#ff0000"/>
<rect x="1682" y="216" width="2" height="2" fill="#ffffff"/>
<rect x="1688" y="211" width="36" height="11" fill="#ff0000"/>
<text x="1692" y="220" font-size="10.2" fill="#ffffff" textLength="33" lengthAdjust="spacingAndGlyphs">0.94644</text>
<rect x="6" y="298" width="1680" height="2" fill="#ff0000"/>
<rect x="5" y="296" width="6" height="6" fill="#ff0000"/>
<rect x="7" y="298" width="2" height="2" fill="#ffffff"/>
<rect x="1680" y="296" width="6" height="6" fill="#ff0000"/>
<rect x="1682" y="298" width="2" height="2" fill="#ffffff"/>
<rect x="1688" y="293" width="36" height="11" fill="#ff0000"/>
<text x="1692" y="302" font-size="10.2" fill="#ffffff" textLength="33" lengthAdjust="spacingAndGlyphs">0.93040</text>
<rect x="6" y="365" width="1680" height="2" fill="#00ff00"/>
<rect x="5" y="363" width="6" height="6" fill="#00ff00"/>
<rect x="7" y="365" width="2" height="2" fill="#ffffff"/>
<rect x="1680" y="363" width="6" height="6" fill="#00ff00"/>
<rect x="1682" y="365" width="2" height="2" fill="#ffffff"/>
<rect x="1688" y="360" width="36" height="11" fill="#00ff00"/>
<text x="1692" y="369" font-size="10.2" fill="#ffffff" textLength="33" lengthAdjust="spacingAndGlyphs">0.91718</text>
<rect x="6" y="452" width="1680" height="2" fill="#0000ff"/>
<rect x="5" y="450" width="6" height="6" fill="#0000ff"/>
<rect x="7" y="452" width="2" height="2" fill="#ffffff"/>
<rect x="1680" y="450" width="6" height="6" fill="#0000ff"/>
<rect x="1682" y="452" width="2" height="2" fill="#ffffff"/>
<rect x="1688" y="447" width="36" height="11" fill="#0000ff"/>
<text x="1692" y="456" font-size="10.2" fill="#ffffff" textLength="33" lengthAdjust="spacingAndGlyphs">0.90031</text>
<rect x="6" y="554" width="1680" height="2" fill="#0000ff"/>
<rect x="5" y="552" width="6" height="6" fill="#0000ff"/>
<rect x="7" y="554" width="2" height="2" fill="#ffffff"/>
<rect x="1680" y="552" width="6" height="6" fill="#0000ff"/>
<rect x="1682" y="554" width="2" height="2" fill="#ffffff"/>
<rect x="1688" y="549" width="36" height="11" fill="#0000ff"/>
<text x="1692" y="558" font-size="10.2" fill="#ffffff" textLength="33" lengthAdjust="spacingAndGlyphs">0.88034</text>
<rect x="1688" y="465" width="36" height="11" fill="#000000"/>
<text x="1692" y="474" font-size="10.2" fill="#ffffff" textLength="33" lengthAdjust="spacingAndGlyphs">0.89708</text>
<rect x="9" y="32" width="7" height="1" fill="#000000"/>
<rect x="10" y="33" width="5" height="1" fill="#000000"/>
<rect x="11" y="34" width="3" height="1" fill="#000000"/>
<rect x="12" y="35" width="1" height="1" fill="#000000"/>
<text x="21.6" y="37" font-size="10.2" fill="#000" textLength="63.6" lengthAdjust="spacingAndGlyphs">USDCHF,Daily</text>
<text x="92.2" y="37" font-size="10.2" fill="#000" textLength="140.5" lengthAdjust="spacingAndGlyphs">0.89538 0.89744 0.89510 0.89708</text>
<rect x="7" y="627" width="3" height="1" fill="#c0c0c0"/>
<rect x="13" y="627" width="3" height="1" fill="#c0c0c0"/>
<rect x="19" y="627" width="3" height="1" fill="#c0c0c0"/>
<rect x="25" y="627" width="3" height="1" fill="#c0c0c0"/>
<rect x="31" y="627" width="3" height="1" fill="#c0c0c0"/>
<rect x="37" y="627" width="3" height="1" fill="#c0c0c0"/>
<rect x="43" y="627" width="3" height="1" fill="#c0c0c0"/>
<rect x="49" y="627" width="3" height="1" fill="#c0c0c0"/>
<rect x="55" y="627" width="3" height="1" fill="#c0c0c0"/>
<rect x="61" y="627" width="3" height="1" fill="#c0c0c0"/>
<rect x="67" y="627" width="3" height="1" fill="#c0c0c0"/>
<rect x="73" y="627" width="3" height="1" fill="#c0c0c0"/>
<rect x="79" y="627" width="3" height="1" fill="#c0c0c0"/>
<rect x="85" y="627" width="3" height="1" fill="#c0c0c0"/>
<rect x="91" y="627" width="3" height="1" fill="#c0c0c0"/>
<rect x="97" y="627" width="3" height="1" fill="#c0c0c0"/>
<rect x="103" y="627" width="3" height="1" fill="#c0c0c0"/>
<rect x="109" y="627" width="3" height="1" fill="#c0c0c0"/>
<rect x="115" y="627" width="3" height="1" fill="#c0c0c0"/>
<rect x="121" y="627" width="3" height="1" fill="#c0c0c0"/>
<rect x="127" y="627" width="3" height="1" fill="#c0c0c0"/>
<rect x="133" y="627" width="3" height="1" fill="#c0c0c0"/>
<rect x="139" y="627" width="3" height="1" fill="#c0c0c0"/>
<rect x="145" y="627" width="3" height="1" fill="#c0c0c0"/>
<rect x="151" y="627" width="3" height="1" fill="#c0c0c0"/>
<rect x="157" y="627" width="3" height="1" fill="#c0c0c0"/>
<rect x="163" y="627" width="3" height="1" fill="#c0c0c0"/>
<rect x="169" y="627" width="3" height="1" fill="#c0c0c0"/>
<rect x="175" y="627" width="3" height="1" fill="#c0c0c0"/>
<rect x="181" y="627" width="3" height="1" fill="#c0c0c0"/>
<rect x="187" y="627" width="3" height="1" fill="#c0c0c0"/>
<rect x="193" y="627" width="3" height="1" fill="#c0c0c0"/>
<rect x="199" y="627" width="3" height="1" fill="#c0c0c0"/>
<rect x="205" y="627" width="3" height="1" fill="#c0c0c0"/>
<rect x="211" y="627" width="3" height="1" fill="#c0c0c0"/>
<rect x="217" y="627" width="3" height="1" fill="#c0c0c0"/>
<rect x="223" y="627" width="3" height="1" fill="#c0c0c0"/>
<rect x="229" y="627" width="3" height="1" fill="#c0c0c0"/>
<rect x="235" y="627" width="3" height="1" fill="#c0c0c0"/>
<rect x="241" y="627" width="3" height="1" fill="#c0c0c0"/>
<rect x="247" y="627" width="3" height="1" fill="#c0c0c0"/>
<rect x="253" y="627" width="3" height="1" fill="#c0c0c0"/>
<rect x="259" y="627" width="3" height="1" fill="#c0c0c0"/>
<rect x="265" y="627" width="3" height="1" fill="#c0c0c0"/>
<rect x="271" y="627" width="3" height="1" fill="#c0c0c0"/>
<rect x="277" y="627" width="3" height="1" fill="#c0c0c0"/>
<rect x="283" y="627" width="3" height="1" fill="#c0c0c0"/>
<rect x="289" y="627" width="3" height="1" fill="#c0c0c0"/>
<rect x="295" y="627" width="3" height="1" fill="#c0c0c0"/>
<rect x="301" y="627" width="3" height="1" fill="#c0c0c0"/>
<rect x="307" y="627" width="3" height="1" fill="#c0c0c0"/>
<rect x="313" y="627" width="3" height="1" fill="#c0c0c0"/>
<rect x="319" y="627" width="3" height="1" fill="#c0c0c0"/>
<rect x="325" y="627" width="3" height="1" fill="#c0c0c0"/>
<rect x="331" y="627" width="3" height="1" fill="#c0c0c0"/>
<rect x="337" y="627" width="3" height="1" fill="#c0c0c0"/>
<rect x="343" y="627" width="3" height="1" fill="#c0c0c0"/>
<rect x="349" y="627" width="3" height="1" fill="#c0c0c0"/>
<rect x="355" y="627" width="3" height="1" fill="#c0c0c0"/>
<rect x="361" y="627" width="3" height="1" fill="#c0c0c0"/>
<rect x="367" y="627" width="3" height="1" fill="#c0c0c0"/>
<rect x="373" y="627" width="3" height="1" fill="#c0c0c0"/>
<rect x="379" y="627" width="3" height="1" fill="#c0c0c0"/>
<rect x="385" y="627" width="3" height="1" fill="#c0c0c0"/>
<rect x="391" y="627" width="3" height="1" fill="#c0c0c0"/>
<rect x="397" y="627" width="3" height="1" fill="#c0c0c0"/>
<rect x="403" y="627" width="3" height="1" fill="#c0c0c0"/>
<rect x="409" y="627" width="3" height="1" fill="#c0c0c0"/>
<rect x="415" y="627" width="3" height="1" fill="#c0c0c0"/>
<rect x="421" y="627" width="3" height="1" fill="#c0c0c0"/>
<rect x="427" y="627" width="3" height="1" fill="#c0c0c0"/>
<rect x="433" y="627" width="3" height="1" fill="#c0c0c0"/>
<rect x="439" y="627" width="3" height="1" fill="#c0c0c0"/>
<rect x="445" y="627" width="3" height="1" fill="#c0c0c0"/>
<rect x="451" y="627" width="3" height="1" fill="#c0c0c0"/>
<rect x="457" y="627" width="3" height="1" fill="#c0c0c0"/>
<rect x="463" y="627" width="3" height="1" fill="#c0c0c0"/>
<rect x="469" y="627" width="3" height="1" fill="#c0c0c0"/>
<rect x="475" y="627" width="3" height="1" fill="#c0c0c0"/>
<rect x="481" y="627" width="3" height="1" fill="#c0c0c0"/>
<rect x="487" y="627" width="3" height="1" fill="#c0c0c0"/>
<rect x="493" y="627" width="3" height="1" fill="#c0c0c0"/>
<rect x="499" y="627" width="3" height="1" fill="#c0c0c0"/>
<rect x="505" y="627" width="3" height="1" fill="#c0c0c0"/>
<rect x="511" y="627" width="3" height="1" fill="#c0c0c0"/>
<rect x="517" y="627" width="3" height="1" fill="#c0c0c0"/>
<rect x="523" y="627" width="3" height="1" fill="#c0c0c0"/>
<rect x="529" y="627" width="3" height="1" fill="#c0c0c0"/>
<rect x="535" y="627" width="3" height="1" fill="#c0c0c0"/>
<rect x="541" y="627" width="3" height="1" fill="#c0c0c0"/>
<rect x="547" y="627" width="3" height="1" fill="#c0c0c0"/>
<rect x="553" y="627" width="3" height="1" fill="#c0c0c0"/>
<rect x="559" y="627" width="3" height="1" fill="#c0c0c0"/>
<rect x="565" y="627" width="3" height="1" fill="#c0c0c0"/>
<rect x="571" y="627" width="3" height="1" fill="#c0c0c0"/>
<rect x="577" y="627" width="3" height="1" fill="#c0c0c0"/>
<rect x="583" y="627" width="3" height="1" fill="#c0c0c0"/>
<rect x="589" y="627" width="3" height="1" fill="#c0c0c0"/>
<rect x="595" y="627" width="3" height="1" fill="#c0c0c0"/>
<rect x="601" y="627" width="3" height="1" fill="#c0c0c0"/>
<rect x="607" y="627" width="3" height="1" fill="#c0c0c0"/>
<rect x="613" y="627" width="3" height="1" fill="#c0c0c0"/>
<rect x="619" y="627" width="3" height="1" fill="#c0c0c0"/>
<rect x="625" y="627" width="3" height="1" fill="#c0c0c0"/>
<rect x="631" y="627" width="3" height="1" fill="#c0c0c0"/>
<rect x="637" y="627" width="3" height="1" fill="#c0c0c0"/>
<rect x="643" y="627" width="3" height="1" fill="#c0c0c0"/>
<rect x="649" y="627" width="3" height="1" fill="#c0c0c0"/>
<rect x="655" y="627" width="3" height="1" fill="#c0c0c0"/>
<rect x="661" y="627" width="3" height="1" fill="#c0c0c0"/>
<rect x="667" y="627" width="3" height="1" fill="#c0c0c0"/>
<rect x="673" y="627" width="3" height="1" fill="#c0c0c0"/>
<rect x="679" y="627" width="3" height="1" fill="#c0c0c0"/>
<rect x="685" y="627" width="3" height="1" fill="#c0c0c0"/>
<rect x="691" y="627" width="3" height="1" fill="#c0c0c0"/>
<rect x="697" y="627" width="3" height="1" fill="#c0c0c0"/>
<rect x="703" y="627" width="3" height="1" fill="#c0c0c0"/>
<rect x="709" y="627" width="3" height="1" fill="#c0c0c0"/>
<rect x="715" y="627" width="3" height="1" fill="#c0c0c0"/>
<rect x="721" y="627" width="3" height="1" fill="#c0c0c0"/>
<rect x="727" y="627" width="3" height="1" fill="#c0c0c0"/>
<rect x="733" y="627" width="3" height="1" fill="#c0c0c0"/>
<rect x="739" y="627" width="3" height="1" fill="#c0c0c0"/>
<rect x="745" y="627" width="3" height="1" fill="#c0c0c0"/>
<rect x="751" y="627" width="3" height="1" fill="#c0c0c0"/>
<rect x="757" y="627" width="3" height="1" fill="#c0c0c0"/>
<rect x="763" y="627" width="3" height="1" fill="#c0c0c0"/>
<rect x="769" y="627" width="3" height="1" fill="#c0c0c0"/>
<rect x="775" y="627" width="3" height="1" fill="#c0c0c0"/>
<rect x="781" y="627" width="3" height="1" fill="#c0c0c0"/>
<rect x="787" y="627" width="3" height="1" fill="#c0c0c0"/>
<rect x="793" y="627" width="3" height="1" fill="#c0c0c0"/>
<rect x="799" y="627" width="3" height="1" fill="#c0c0c0"/>
<rect x="805" y="627" width="3" height="1" fill="#c0c0c0"/>
<rect x="811" y="627" width="3" height="1" fill="#c0c0c0"/>
<rect x="817" y="627" width="3" height="1" fill="#c0c0c0"/>
<rect x="823" y="627" width="3" height="1" fill="#c0c0c0"/>
<rect x="829" y="627" width="3" height="1" fill="#c0c0c0"/>
<rect x="835" y="627" width="3" height="1" fill="#c0c0c0"/>
<rect x="841" y="627" width="3" height="1" fill="#c0c0c0"/>
<rect x="847" y="627" width="3" height="1" fill="#c0c0c0"/>
<rect x="853" y="627" width="3" height="1" fill="#c0c0c0"/>
<rect x="859" y="627" width="3" height="1" fill="#c0c0c0"/>
<rect x="865" y="627" width="3" height="1" fill="#c0c0c0"/>
<rect x="871" y="627" width="3" height="1" fill="#c0c0c0"/>
<rect x="877" y="627" width="3" height="1" fill="#c0c0c0"/>
<rect x="883" y="627" width="3" height="1" fill="#c0c0c0"/>
<rect x="889" y="627" width="3" height="1" fill="#c0c0c0"/>
<rect x="895" y="627" width="3" height="1" fill="#c0c0c0"/>
<rect x="901" y="627" width="3" height="1" fill="#c0c0c0"/>
<rect x="907" y="627" width="3" height="1" fill="#c0c0c0"/>
<rect x="913" y="627" width="3" height="1" fill="#c0c0c0"/>
<rect x="919" y="627" width="3" height="1" fill="#c0c0c0"/>
<rect x="925" y="627" width="3" height="1" fill="#c0c0c0"/>
<rect x="931" y="627" width="3" height="1" fill="#c0c0c0"/>
<rect x="937" y="627" width="3" height="1" fill="#c0c0c0"/>
<rect x="943" y="627" width="3" height="1" fill="#c0c0c0"/>
<rect x="949" y="627" width="3" height="1" fill="#c0c0c0"/>
<rect x="955" y="627" width="3" height="1" fill="#c0c0c0"/>
<rect x="961" y="627" width="3" height="1" fill="#c0c0c0"/>
<rect x="967" y="627" width="3" height="1" fill="#c0c0c0"/>
<rect x="973" y="627" width="3" height="1" fill="#c0c0c0"/>
<rect x="979" y="627" width="3" height="1" fill="#c0c0c0"/>
<rect x="985" y="627" width="3" height="1" fill="#c0c0c0"/>
<rect x="991" y="627" width="3" height="1" fill="#c0c0c0"/>
<rect x="997" y="627" width="3" height="1" fill="#c0c0c0"/>
<rect x="1003" y="627" width="3" height="1" fill="#c0c0c0"/>
<rect x="1009" y="627" width="3" height="1" fill="#c0c0c0"/>
<rect x="1015" y="627" width="3" height="1" fill="#c0c0c0"/>
<rect x="1021" y="627" width="3" height="1" fill="#c0c0c0"/>
<rect x="1027" y="627" width="3" height="1" fill="#c0c0c0"/>
<rect x="1033" y="627" width="3" height="1" fill="#c0c0c0"/>
<rect x="1039" y="627" width="3" height="1" fill="#c0c0c0"/>
<rect x="1045" y="627" width="3" height="1" fill="#c0c0c0"/>
<rect x="1051" y="627" width="3" height="1" fill="#c0c0c0"/>
<rect x="1057" y="627" width="3" height="1" fill="#c0c0c0"/>
<rect x="1063" y="627" width="3" height="1" fill="#c0c0c0"/>
<rect x="1069" y="627" width="3" height="1" fill="#c0c0c0"/>
<rect x="1075" y="627" width="3" height="1" fill="#c0c0c0"/>
<rect x="1081" y="627" width="3" height="1" fill="#c0c0c0"/>
<rect x="1087" y="627" width="3" height="1" fill="#c0c0c0"/>
<rect x="1093" y="627" width="3" height="1" fill="#c0c0c0"/>
<rect x="1099" y="627" width="3" height="1" fill="#c0c0c0"/>
<rect x="1105" y="627" width="3" height="1" fill="#c0c0c0"/>
<rect x="1111" y="627" width="3" height="1" fill="#c0c0c0"/>
<rect x="1117" y="627" width="3" height="1" fill="#c0c0c0"/>
<rect x="1123" y="627" width="3" height="1" fill="#c0c0c0"/>
<rect x="1129" y="627" width="3" height="1" fill="#c0c0c0"/>
<rect x="1135" y="627" width="3" height="1" fill="#c0c0c0"/>
<rect x="1141" y="627" width="3" height="1" fill="#c0c0c0"/>
<rect x="1147" y="627" width="3" height="1" fill="#c0c0c0"/>
<rect x="1153" y="627" width="3" height="1" fill="#c0c0c0"/>
<rect x="1159" y="627" width="3" height="1" fill="#c0c0c0"/>
<rect x="1165" y="627" width="3" height="1" fill="#c0c0c0"/>
<rect x="1171" y="627" width="3" height="1" fill="#c0c0c0"/>
<rect x="1177" y="627" width="3" height="1" fill="#c0c0c0"/>
<rect x="1183" y="627" width="3" height="1" fill="#c0c0c0"/>
<rect x="1189" y="627" width="3" height="1" fill="#c0c0c0"/>
<rect x="1195" y="627" width="3" height="1" fill="#c0c0c0"/>
<rect x="1201" y="627" width="3" height="1" fill="#c0c0c0"/>
<rect x="1207" y="627" width="3" height="1" fill="#c0c0c0"/>
<rect x="1213" y="627" width="3" height="1" fill="#c0c0c0"/>
<rect x="1219" y="627" width="3" height="1" fill="#c0c0c0"/>
<rect x="1225" y="627" width="3" height="1" fill="#c0c0c0"/>
<rect x="1231" y="627" width="3" height="1" fill="#c0c0c0"/>
<rect x="1237" y="627" width="3" height="1" fill="#c0c0c0"/>
<rect x="1243" y="627" width="3" height="1" fill="#c0c0c0"/>
<rect x="1249" y="627" width="3" height="1" fill="#c0c0c0"/>
<rect x="1255" y="627" width="3" height="1" fill="#c0c0c0"/>
<rect x="1261" y="627" width="3" height="1" fill="#c0c0c0"/>
<rect x="1267" y="627" width="3" height="1" fill="#c0c0c0"/>
<rect x="1273" y="627" width="3" height="1" fill="#c0c0c0"/>
<rect x="1279" y="627" width="3" height="1" fill="#c0c0c0"/>
<rect x="1285" y="627" width="3" height="1" fill="#c0c0c0"/>
<rect x="1291" y="627" width="3" height="1" fill="#c0c0c0"/>
<rect x="1297" y="627" width="3" height="1" fill="#c0c0c0"/>
<rect x="1303" y="627" width="3" height="1" fill="#c0c0c0"/>
<rect x="1309" y="627" width="3" height="1" fill="#c0c0c0"/>
<rect x="1315" y="627" width="3" height="1" fill="#c0c0c0"/>
<rect x="1321" y="627" width="3" height="1" fill="#c0c0c0"/>
<rect x="1327" y="627" width="3" height="1" fill="#c0c0c0"/>
<rect x="1333" y="627" width="3" height="1" fill="#c0c0c0"/>
<rect x="1339" y="627" width="3" height="1" fill="#c0c0c0"/>
<rect x="1345" y="627" width="3" height="1" fill="#c0c0c0"/>
<rect x="1351" y="627" width="3" height="1" fill="#c0c0c0"/>
<rect x="1357" y="627" width="3" height="1" fill="#c0c0c0"/>
<rect x="1363" y="627" width="3" height="1" fill="#c0c0c0"/>
<rect x="1369" y="627" width="3" height="1" fill="#c0c0c0"/>
<rect x="1375" y="627" width="3" height="1" fill="#c0c0c0"/>
<rect x="1381" y="627" width="3" height="1" fill="#c0c0c0"/>
<rect x="1387" y="627" width="3" height="1" fill="#c0c0c0"/>
<rect x="1393" y="627" width="3" height="1" fill="#c0c0c0"/>
<rect x="1399" y="627" width="3" height="1" fill="#c0c0c0"/>
<rect x="1405" y="627" width="3" height="1" fill="#c0c0c0"/>
<rect x="1411" y="627" width="3" height="1" fill="#c0c0c0"/>
<rect x="1417" y="627" width="3" height="1" fill="#c0c0c0"/>
<rect x="1423" y="627" width="3" height="1" fill="#c0c0c0"/>
<rect x="1429" y="627" width="3" height="1" fill="#c0c0c0"/>
<rect x="1435" y="627" width="3" height="1" fill="#c0c0c0"/>
<rect x="1441" y="627" width="3" height="1" fill="#c0c0c0"/>
<rect x="1447" y="627" width="3" height="1" fill="#c0c0c0"/>
<rect x="1453" y="627" width="3" height="1" fill="#c0c0c0"/>
<rect x="1459" y="627" width="3" height="1" fill="#c0c0c0"/>
<rect x="1465" y="627" width="3" height="1" fill="#c0c0c0"/>
<rect x="1471" y="627" width="3" height="1" fill="#c0c0c0"/>
<rect x="1477" y="627" width="3" height="1" fill="#c0c0c0"/>
<rect x="1483" y="627" width="3" height="1" fill="#c0c0c0"/>
<rect x="1489" y="627" width="3" height="1" fill="#c0c0c0"/>
<rect x="1495" y="627" width="3" height="1" fill="#c0c0c0"/>
<rect x="1501" y="627" width="3" height="1" fill="#c0c0c0"/>
<rect x="1507" y="627" width="3" height="1" fill="#c0c0c0"/>
<rect x="1513" y="627" width="3" height="1" fill="#c0c0c0"/>
<rect x="1519" y="627" width="3" height="1" fill="#c0c0c0"/>
<rect x="1525" y="627" width="3" height="1" fill="#c0c0c0"/>
<rect x="1531" y="627" width="3" height="1" fill="#c0c0c0"/>
<rect x="1537" y="627" width="3" height="1" fill="#c0c0c0"/>
<rect x="1543" y="627" width="3" height="1" fill="#c0c0c0"/>
<rect x="1549" y="627" width="3" height="1" fill="#c0c0c0"/>
<rect x="1555" y="627" width="3" height="1" fill="#c0c0c0"/>
<rect x="1561" y="627" width="3" height="1" fill="#c0c0c0"/>
<rect x="1567" y="627" width="3" height="1" fill="#c0c0c0"/>
<rect x="1573" y="627" width="3" height="1" fill="#c0c0c0"/>
<rect x="1579" y="627" width="3" height="1" fill="#c0c0c0"/>
<rect x="1585" y="627" width="3" height="1" fill="#c0c0c0"/>
<rect x="1591" y="627" width="3" height="1" fill="#c0c0c0"/>
<rect x="1597" y="627" width="3" height="1" fill="#c0c0c0"/>
<rect x="1603" y="627" width="3" height="1" fill="#c0c0c0"/>
<rect x="1609" y="627" width="3" height="1" fill="#c0c0c0"/>
<rect x="1615" y="627" width="3" height="1" fill="#c0c0c0"/>
<rect x="1621" y="627" width="3" height="1" fill="#c0c0c0"/>
<rect x="1627" y="627" width="3" height="1" fill="#c0c0c0"/>
<rect x="1633" y="627" width="3" height="1" fill="#c0c0c0"/>
<rect x="1639" y="627" width="3" height="1" fill="#c0c0c0"/>
<rect x="1645" y="627" width="3" height="1" fill="#c0c0c0"/>
<rect x="1651" y="627" width="3" height="1" fill="#c0c0c0"/>
<rect x="1657" y="627" width="3" height="1" fill="#c0c0c0"/>
<rect x="1663" y="627" width="3" height="1" fill="#c0c0c0"/>
<rect x="1669" y="627" width="3" height="1" fill="#c0c0c0"/>
<rect x="1675" y="627" width="3" height="1" fill="#c0c0c0"/>
<rect x="1681" y="627" width="3" height="1" fill="#c0c0c0"/>
<rect x="7" y="668" width="3" height="1" fill="#c0c0c0"/>
<rect x="13" y="668" width="3" height="1" fill="#c0c0c0"/>
<rect x="19" y="668" width="3" height="1" fill="#c0c0c0"/>
<rect x="25" y="668" width="3" height="1" fill="#c0c0c0"/>
<rect x="31" y="668" width="3" height="1" fill="#c0c0c0"/>
<rect x="37" y="668" width="3" height="1" fill="#c0c0c0"/>
<rect x="43" y="668" width="3" height="1" fill="#c0c0c0"/>
<rect x="49" y="668" width="3" height="1" fill="#c0c0c0"/>
<rect x="55" y="668" width="3" height="1" fill="#c0c0c0"/>
<rect x="61" y="668" width="3" height="1" fill="#c0c0c0"/>
<rect x="67" y="668" width="3" height="1" fill="#c0c0c0"/>
<rect x="73" y="668" width="3" height="1" fill="#c0c0c0"/>
<rect x="79" y="668" width="3" height="1" fill="#c0c0c0"/>
<rect x="85" y="668" width="3" height="1" fill="#c0c0c0"/>
<rect x="91" y="668" width="3" height="1" fill="#c0c0c0"/>
<rect x="97" y="668" width="3" height="1" fill="#c0c0c0"/>
<rect x="103" y="668" width="3" height="1" fill="#c0c0c0"/>
<rect x="109" y="668" width="3" height="1" fill="#c0c0c0"/>
<rect x="115" y="668" width="3" height="1" fill="#c0c0c0"/>
<rect x="121" y="668" width="3" height="1" fill="#c0c0c0"/>
<rect x="127" y="668" width="3" height="1" fill="#c0c0c0"/>
<rect x="133" y="668" width="3" height="1" fill="#c0c0c0"/>
<rect x="139" y="668" width="3" height="1" fill="#c0c0c0"/>
<rect x="145" y="668" width="3" height="1" fill="#c0c0c0"/>
<rect x="151" y="668" width="3" height="1" fill="#c0c0c0"/>
<rect x="157" y="668" width="3" height="1" fill="#c0c0c0"/>
<rect x="163" y="668" width="3" height="1" fill="#c0c0c0"/>
<rect x="169" y="668" width="3" height="1" fill="#c0c0c0"/>
<rect x="175" y="668" width="3" height="1" fill="#c0c0c0"/>
<rect x="181" y="668" width="3" height="1" fill="#c0c0c0"/>
<rect x="187" y="668" width="3" height="1" fill="#c0c0c0"/>
<rect x="193" y="668" width="3" height="1" fill="#c0c0c0"/>
<rect x="199" y="668" width="3" height="1" fill="#c0c0c0"/>
<rect x="205" y="668" width="3" height="1" fill="#c0c0c0"/>
<rect x="211" y="668" width="3" height="1" fill="#c0c0c0"/>
<rect x="217" y="668" width="3" height="1" fill="#c0c0c0"/>
<rect x="223" y="668" width="3" height="1" fill="#c0c0c0"/>
<rect x="229" y="668" width="3" height="1" fill="#c0c0c0"/>
<rect x="235" y="668" width="3" height="1" fill="#c0c0c0"/>
<rect x="241" y="668" width="3" height="1" fill="#c0c0c0"/>
<rect x="247" y="668" width="3" height="1" fill="#c0c0c0"/>
<rect x="253" y="668" width="3" height="1" fill="#c0c0c0"/>
<rect x="259" y="668" width="3" height="1" fill="#c0c0c0"/>
<rect x="265" y="668" width="3" height="1" fill="#c0c0c0"/>
<rect x="271" y="668" width="3" height="1" fill="#c0c0c0"/>
<rect x="277" y="668" width="3" height="1" fill="#c0c0c0"/>
<rect x="283" y="668" width="3" height="1" fill="#c0c0c0"/>
<rect x="289" y="668" width="3" height="1" fill="#c0c0c0"/>
<rect x="295" y="668" width="3" height="1" fill="#c0c0c0"/>
<rect x="301" y="668" width="3" height="1" fill="#c0c0c0"/>
<rect x="307" y="668" width="3" height="1" fill="#c0c0c0"/>
<rect x="313" y="668" width="3" height="1" fill="#c0c0c0"/>
<rect x="319" y="668" width="3" height="1" fill="#c0c0c0"/>
<rect x="325" y="668" width="3" height="1" fill="#c0c0c0"/>
<rect x="331" y="668" width="3" height="1" fill="#c0c0c0"/>
<rect x="337" y="668" width="3" height="1" fill="#c0c0c0"/>
<rect x="343" y="668" width="3" height="1" fill="#c0c0c0"/>
<rect x="349" y="668" width="3" height="1" fill="#c0c0c0"/>
<rect x="355" y="668" width="3" height="1" fill="#c0c0c0"/>
<rect x="361" y="668" width="3" height="1" fill="#c0c0c0"/>
<rect x="367" y="668" width="3" height="1" fill="#c0c0c0"/>
<rect x="373" y="668" width="3" height="1" fill="#c0c0c0"/>
<rect x="379" y="668" width="3" height="1" fill="#c0c0c0"/>
<rect x="385" y="668" width="3" height="1" fill="#c0c0c0"/>
<rect x="391" y="668" width="3" height="1" fill="#c0c0c0"/>
<rect x="397" y="668" width="3" height="1" fill="#c0c0c0"/>
<rect x="403" y="668" width="3" height="1" fill="#c0c0c0"/>
<rect x="409" y="668" width="3" height="1" fill="#c0c0c0"/>
<rect x="415" y="668" width="3" height="1" fill="#c0c0c0"/>
<rect x="421" y="668" width="3" height="1" fill="#c0c0c0"/>
<rect x="427" y="668" width="3" height="1" fill="#c0c0c0"/>
<rect x="433" y="668" width="3" height="1" fill="#c0c0c0"/>
<rect x="439" y="668" width="3" height="1" fill="#c0c0c0"/>
<rect x="445" y="668" width="3" height="1" fill="#c0c0c0"/>
<rect x="451" y="668" width="3" height="1" fill="#c0c0c0"/>
<rect x="457" y="668" width="3" height="1" fill="#c0c0c0"/>
<rect x="463" y="668" width="3" height="1" fill="#c0c0c0"/>
<rect x="469" y="668" width="3" height="1" fill="#c0c0c0"/>
<rect x="475" y="668" width="3" height="1" fill="#c0c0c0"/>
<rect x="481" y="668" width="3" height="1" fill="#c0c0c0"/>
<rect x="487" y="668" width="3" height="1" fill="#c0c0c0"/>
<rect x="493" y="668" width="3" height="1" fill="#c0c0c0"/>
<rect x="499" y="668" width="3" height="1" fill="#c0c0c0"/>
<rect x="505" y="668" width="3" height="1" fill="#c0c0c0"/>
<rect x="511" y="668" width="3" height="1" fill="#c0c0c0"/>
<rect x="517" y="668" width="3" height="1" fill="#c0c0c0"/>
<rect x="523" y="668" width="3" height="1" fill="#c0c0c0"/>
<rect x="529" y="668" width="3" height="1" fill="#c0c0c0"/>
<rect x="535" y="668" width="3" height="1" fill="#c0c0c0"/>
<rect x="541" y="668" width="3" height="1" fill="#c0c0c0"/>
<rect x="547" y="668" width="3" height="1" fill="#c0c0c0"/>
<rect x="553" y="668" width="3" height="1" fill="#c0c0c0"/>
<rect x="559" y="668" width="3" height="1" fill="#c0c0c0"/>
<rect x="565" y="668" width="3" height="1" fill="#c0c0c0"/>
<rect x="571" y="668" width="3" height="1" fill="#c0c0c0"/>
<rect x="577" y="668" width="3" height="1" fill="#c0c0c0"/>
<rect x="583" y="668" width="3" height="1" fill="#c0c0c0"/>
<rect x="589" y="668" width="3" height="1" fill="#c0c0c0"/>
<rect x="595" y="668" width="3" height="1" fill="#c0c0c0"/>
<rect x="601" y="668" width="3" height="1" fill="#c0c0c0"/>
<rect x="607" y="668" width="3" height="1" fill="#c0c0c0"/>
<rect x="613" y="668" width="3" height="1" fill="#c0c0c0"/>
<rect x="619" y="668" width="3" height="1" fill="#c0c0c0"/>
<rect x="625" y="668" width="3" height="1" fill="#c0c0c0"/>
<rect x="631" y="668" width="3" height="1" fill="#c0c0c0"/>
<rect x="637" y="668" width="3" height="1" fill="#c0c0c0"/>
<rect x="643" y="668" width="3" height="1" fill="#c0c0c0"/>
<rect x="649" y="668" width="3" height="1" fill="#c0c0c0"/>
<rect x="655" y="668" width="3" height="1" fill="#c0c0c0"/>
<rect x="661" y="668" width="3" height="1" fill="#c0c0c0"/>
<rect x="667" y="668" width="3" height="1" fill="#c0c0c0"/>
<rect x="673" y="668" width="3" height="1" fill="#c0c0c0"/>
<rect x="679" y="668" width="3" height="1" fill="#c0c0c0"/>
<rect x="685" y="668" width="3" height="1" fill="#c0c0c0"/>
<rect x="691" y="668" width="3" height="1" fill="#c0c0c0"/>
<rect x="697" y="668" width="3" height="1" fill="#c0c0c0"/>
<rect x="703" y="668" width="3" height="1" fill="#c0c0c0"/>
<rect x="709" y="668" width="3" height="1" fill="#c0c0c0"/>
<rect x="715" y="668" width="3" height="1" fill="#c0c0c0"/>
<rect x="721" y="668" width="3" height="1" fill="#c0c0c0"/>
<rect x="727" y="668" width="3" height="1" fill="#c0c0c0"/>
<rect x="733" y="668" width="3" height="1" fill="#c0c0c0"/>
<rect x="739" y="668" width="3" height="1" fill="#c0c0c0"/>
<rect x="745" y="668" width="3" height="1" fill="#c0c0c0"/>
<rect x="751" y="668" width="3" height="1" fill="#c0c0c0"/>
<rect x="757" y="668" width="3" height="1" fill="#c0c0c0"/>
<rect x="763" y="668" width="3" height="1" fill="#c0c0c0"/>
<rect x="769" y="668" width="3" height="1" fill="#c0c0c0"/>
<rect x="775" y="668" width="3" height="1" fill="#c0c0c0"/>
<rect x="781" y="668" width="3" height="1" fill="#c0c0c0"/>
<rect x="787" y="668" width="3" height="1" fill="#c0c0c0"/>
<rect x="793" y="668" width="3" height="1" fill="#c0c0c0"/>
<rect x="799" y="668" width="3" height="1" fill="#c0c0c0"/>
<rect x="805" y="668" width="3" height="1" fill="#c0c0c0"/>
<rect x="811" y="668" width="3" height="1" fill="#c0c0c0"/>
<rect x="817" y="668" width="3" height="1" fill="#c0c0c0"/>
<rect x="823" y="668" width="3" height="1" fill="#c0c0c0"/>
<rect x="829" y="668" width="3" height="1" fill="#c0c0c0"/>
<rect x="835" y="668" width="3" height="1" fill="#c0c0c0"/>
<rect x="841" y="668" width="3" height="1" fill="#c0c0c0"/>
<rect x="847" y="668" width="3" height="1" fill="#c0c0c0"/>
<rect x="853" y="668" width="3" height="1" fill="#c0c0c0"/>
<rect x="859" y="668" width="3" height="1" fill="#c0c0c0"/>
<rect x="865" y="668" width="3" height="1" fill="#c0c0c0"/>
<rect x="871" y="668" width="3" height="1" fill="#c0c0c0"/>
<rect x="877" y="668" width="3" height="1" fill="#c0c0c0"/>
<rect x="883" y="668" width="3" height="1" fill="#c0c0c0"/>
<rect x="889" y="668" width="3" height="1" fill="#c0c0c0"/>
<rect x="895" y="668" width="3" height="1" fill="#c0c0c0"/>
<rect x="901" y="668" width="3" height="1" fill="#c0c0c0"/>
<rect x="907" y="668" width="3" height="1" fill="#c0c0c0"/>
<rect x="913" y="668" width="3" height="1" fill="#c0c0c0"/>
<rect x="919" y="668" width="3" height="1" fill="#c0c0c0"/>
<rect x="925" y="668" width="3" height="1" fill="#c0c0c0"/>
<rect x="931" y="668" width="3" height="1" fill="#c0c0c0"/>
<rect x="937" y="668" width="3" height="1" fill="#c0c0c0"/>
<rect x="943" y="668" width="3" height="1" fill="#c0c0c0"/>
<rect x="949" y="668" width="3" height="1" fill="#c0c0c0"/>
<rect x="955" y="668" width="3" height="1" fill="#c0c0c0"/>
<rect x="961" y="668" width="3" height="1" fill="#c0c0c0"/>
<rect x="967" y="668" width="3" height="1" fill="#c0c0c0"/>
<rect x="973" y="668" width="3" height="1" fill="#c0c0c0"/>
<rect x="979" y="668" width="3" height="1" fill="#c0c0c0"/>
<rect x="985" y="668" width="3" height="1" fill="#c0c0c0"/>
<rect x="991" y="668" width="3" height="1" fill="#c0c0c0"/>
<rect x="997" y="668" width="3" height="1" fill="#c0c0c0"/>
<rect x="1003" y="668" width="3" height="1" fill="#c0c0c0"/>
<rect x="1009" y="668" width="3" height="1" fill="#c0c0c0"/>
<rect x="1015" y="668" width="3" height="1" fill="#c0c0c0"/>
<rect x="1021" y="668" width="3" height="1" fill="#c0c0c0"/>
<rect x="1027" y="668" width="3" height="1" fill="#c0c0c0"/>
<rect x="1033" y="668" width="3" height="1" fill="#c0c0c0"/>
<rect x="1039" y="668" width="3" height="1" fill="#c0c0c0"/>
<rect x="1045" y="668" width="3" height="1" fill="#c0c0c0"/>
<rect x="1051" y="668" width="3" height="1" fill="#c0c0c0"/>
<rect x="1057" y="668" width="3" height="1" fill="#c0c0c0"/>
<rect x="1063" y="668" width="3" height="1" fill="#c0c0c0"/>
<rect x="1069" y="668" width="3" height="1" fill="#c0c0c0"/>
<rect x="1075" y="668" width="3" height="1" fill="#c0c0c0"/>
<rect x="1081" y="668" width="3" height="1" fill="#c0c0c0"/>
<rect x="1087" y="668" width="3" height="1" fill="#c0c0c0"/>
<rect x="1093" y="668" width="3" height="1" fill="#c0c0c0"/>
<rect x="1099" y="668" width="3" height="1" fill="#c0c0c0"/>
<rect x="1105" y="668" width="3" height="1" fill="#c0c0c0"/>
<rect x="1111" y="668" width="3" height="1" fill="#c0c0c0"/>
<rect x="1117" y="668" width="3" height="1" fill="#c0c0c0"/>
<rect x="1123" y="668" width="3" height="1" fill="#c0c0c0"/>
<rect x="1129" y="668" width="3" height="1" fill="#c0c0c0"/>
<rect x="1135" y="668" width="3" height="1" fill="#c0c0c0"/>
<rect x="1141" y="668" width="3" height="1" fill="#c0c0c0"/>
<rect x="1147" y="668" width="3" height="1" fill="#c0c0c0"/>
<rect x="1153" y="668" width="3" height="1" fill="#c0c0c0"/>
<rect x="1159" y="668" width="3" height="1" fill="#c0c0c0"/>
<rect x="1165" y="668" width="3" height="1" fill="#c0c0c0"/>
<rect x="1171" y="668" width="3" height="1" fill="#c0c0c0"/>
<rect x="1177" y="668" width="3" height="1" fill="#c0c0c0"/>
<rect x="1183" y="668" width="3" height="1" fill="#c0c0c0"/>
<rect x="1189" y="668" width="3" height="1" fill="#c0c0c0"/>
<rect x="1195" y="668" width="3" height="1" fill="#c0c0c0"/>
<rect x="1201" y="668" width="3" height="1" fill="#c0c0c0"/>
<rect x="1207" y="668" width="3" height="1" fill="#c0c0c0"/>
<rect x="1213" y="668" width="3" height="1" fill="#c0c0c0"/>
<rect x="1219" y="668" width="3" height="1" fill="#c0c0c0"/>
<rect x="1225" y="668" width="3" height="1" fill="#c0c0c0"/>
<rect x="1231" y="668" width="3" height="1" fill="#c0c0c0"/>
<rect x="1237" y="668" width="3" height="1" fill="#c0c0c0"/>
<rect x="1243" y="668" width="3" height="1" fill="#c0c0c0"/>
<rect x="1249" y="668" width="3" height="1" fill="#c0c0c0"/>
<rect x="1255" y="668" width="3" height="1" fill="#c0c0c0"/>
<rect x="1261" y="668" width="3" height="1" fill="#c0c0c0"/>
<rect x="1267" y="668" width="3" height="1" fill="#c0c0c0"/>
<rect x="1273" y="668" width="3" height="1" fill="#c0c0c0"/>
<rect x="1279" y="668" width="3" height="1" fill="#c0c0c0"/>
<rect x="1285" y="668" width="3" height="1" fill="#c0c0c0"/>
<rect x="1291" y="668" width="3" height="1" fill="#c0c0c0"/>
<rect x="1297" y="668" width="3" height="1" fill="#c0c0c0"/>
<rect x="1303" y="668" width="3" height="1" fill="#c0c0c0"/>
<rect x="1309" y="668" width="3" height="1" fill="#c0c0c0"/>
<rect x="1315" y="668" width="3" height="1" fill="#c0c0c0"/>
<rect x="1321" y="668" width="3" height="1" fill="#c0c0c0"/>
<rect x="1327" y="668" width="3" height="1" fill="#c0c0c0"/>
<rect x="1333" y="668" width="3" height="1" fill="#c0c0c0"/>
<rect x="1339" y="668" width="3" height="1" fill="#c0c0c0"/>
<rect x="1345" y="668" width="3" height="1" fill="#c0c0c0"/>
<rect x="1351" y="668" width="3" height="1" fill="#c0c0c0"/>
<rect x="1357" y="668" width="3" height="1" fill="#c0c0c0"/>
<rect x="1363" y="668" width="3" height="1" fill="#c0c0c0"/>
<rect x="1369" y="668" width="3" height="1" fill="#c0c0c0"/>
<rect x="1375" y="668" width="3" height="1" fill="#c0c0c0"/>
<rect x="1381" y="668" width="3" height="1" fill="#c0c0c0"/>
<rect x="1387" y="668" width="3" height="1" fill="#c0c0c0"/>
<rect x="1393" y="668" width="3" height="1" fill="#c0c0c0"/>
<rect x="1399" y="668" width="3" height="1" fill="#c0c0c0"/>
<rect x="1405" y="668" width="3" height="1" fill="#c0c0c0"/>
<rect x="1411" y="668" width="3" height="1" fill="#c0c0c0"/>
<rect x="1417" y="668" width="3" height="1" fill="#c0c0c0"/>
<rect x="1423" y="668" width="3" height="1" fill="#c0c0c0"/>
<rect x="1429" y="668" width="3" height="1" fill="#c0c0c0"/>
<rect x="1435" y="668" width="3" height="1" fill="#c0c0c0"/>
<rect x="1441" y="668" width="3" height="1" fill="#c0c0c0"/>
<rect x="1447" y="668" width="3" height="1" fill="#c0c0c0"/>
<rect x="1453" y="668" width="3" height="1" fill="#c0c0c0"/>
<rect x="1459" y="668" width="3" height="1" fill="#c0c0c0"/>
<rect x="1465" y="668" width="3" height="1" fill="#c0c0c0"/>
<rect x="1471" y="668" width="3" height="1" fill="#c0c0c0"/>
<rect x="1477" y="668" width="3" height="1" fill="#c0c0c0"/>
<rect x="1483" y="668" width="3" height="1" fill="#c0c0c0"/>
<rect x="1489" y="668" width="3" height="1" fill="#c0c0c0"/>
<rect x="1495" y="668" width="3" height="1" fill="#c0c0c0"/>
<rect x="1501" y="668" width="3" height="1" fill="#c0c0c0"/>
<rect x="1507" y="668" width="3" height="1" fill="#c0c0c0"/>
<rect x="1513" y="668" width="3" height="1" fill="#c0c0c0"/>
<rect x="1519" y="668" width="3" height="1" fill="#c0c0c0"/>
<rect x="1525" y="668" width="3" height="1" fill="#c0c0c0"/>
<rect x="1531" y="668" width="3" height="1" fill="#c0c0c0"/>
<rect x="1537" y="668" width="3" height="1" fill="#c0c0c0"/>
<rect x="1543" y="668" width="3" height="1" fill="#c0c0c0"/>
<rect x="1549" y="668" width="3" height="1" fill="#c0c0c0"/>
<rect x="1555" y="668" width="3" height="1" fill="#c0c0c0"/>
<rect x="1561" y="668" width="3" height="1" fill="#c0c0c0"/>
<rect x="1567" y="668" width="3" height="1" fill="#c0c0c0"/>
<rect x="1573" y="668" width="3" height="1" fill="#c0c0c0"/>
<rect x="1579" y="668" width="3" height="1" fill="#c0c0c0"/>
<rect x="1585" y="668" width="3" height="1" fill="#c0c0c0"/>
<rect x="1591" y="668" width="3" height="1" fill="#c0c0c0"/>
<rect x="1597" y="668" width="3" height="1" fill="#c0c0c0"/>
<rect x="1603" y="668" width="3" height="1" fill="#c0c0c0"/>
<rect x="1609" y="668" width="3" height="1" fill="#c0c0c0"/>
<rect x="1615" y="668" width="3" height="1" fill="#c0c0c0"/>
<rect x="1621" y="668" width="3" height="1" fill="#c0c0c0"/>
<rect x="1627" y="668" width="3" height="1" fill="#c0c0c0"/>
<rect x="1633" y="668" width="3" height="1" fill="#c0c0c0"/>
<rect x="1639" y="668" width="3" height="1" fill="#c0c0c0"/>
<rect x="1645" y="668" width="3" height="1" fill="#c0c0c0"/>
<rect x="1651" y="668" width="3" height="1" fill="#c0c0c0"/>
<rect x="1657" y="668" width="3" height="1" fill="#c0c0c0"/>
<rect x="1663" y="668" width="3" height="1" fill="#c0c0c0"/>
<rect x="1669" y="668" width="3" height="1" fill="#c0c0c0"/>
<rect x="1675" y="668" width="3" height="1" fill="#c0c0c0"/>
<rect x="1681" y="668" width="3" height="1" fill="#c0c0c0"/>
<text x="10" y="609" font-size="10.2" fill="#000" textLength="67.5" lengthAdjust="spacingAndGlyphs">RSI(14) 37.8362</text>
<path d="M1046.5 616v2M1038 617.5h3M1044 617.5h2M1037 618.5h1M1041 618.5h3M1047.5 618v2M1035 619.5h2M1034 620.5h1M1048.5 620v2M1033 621.5h1M1032 622.5h1M1049.5 622v2M1031 623.5h1M1030 624.5h1M1050 624.5h5M1029 625.5h1M1054 625.5h1M494 626.5h3M938 626.5h1M1027 626.5h2M1055.5 626v2M492 627.5h2M497 627.5h2M937 627.5h1M939.5 627v2M1006.5 627v2M1022 627.5h5M1122 627.5h2M490 628.5h2M498 628.5h1M936 628.5h1M1021 628.5h1M1056.5 628v2M1106 628.5h7M1121 628.5h1M1124 628.5h2M489 629.5h1M499.5 629v2M935 629.5h1M940.5 629v2M1005.5 629v2M1007.5 629v2M1020 629.5h1M1105 629.5h1M1113 629.5h3M1120 629.5h1M1126 629.5h3M1137 629.5h2M487 630.5h2M933 630.5h2M1019 630.5h1M1057.5 630v2M1062 630.5h6M1103 630.5h2M1116 630.5h2M1119 630.5h1M1129 630.5h8M1138 630.5h1M486 631.5h1M500.5 631v2M930 631.5h3M941.5 631v2M1004.5 631v2M1008.5 631v3M1018 631.5h1M1061 631.5h1M1068 631.5h2M1102 631.5h1M1118 631.5h1M1139.5 631v3M485 632.5h1M929 632.5h1M1017 632.5h1M1058 632.5h3M1070 632.5h1M1086 632.5h3M1101 632.5h1M484 633.5h1M501.5 633v2M928 633.5h1M942 633.5h2M1003.5 633v2M1016 633.5h1M1058 633.5h1M1071 633.5h2M1084 633.5h2M1089 633.5h2M1099 633.5h2M483 634.5h1M927 634.5h1M944 634.5h2M1009.5 634v2M1015 634.5h1M1073 634.5h1M1077 634.5h7M1090 634.5h1M1098.5 634v2M1140.5 634v3M482 635.5h1M502 635.5h1M926 635.5h1M946 635.5h3M1002.5 635v2M1014 635.5h1M1074 635.5h3M1091.5 635v2M481 636.5h1M503 636.5h1M925.5 636v2M949 636.5h2M1010.5 636v2M1012 636.5h2M1097.5 636v2M480 637.5h1M504.5 637v2M622.5 637v2M950 637.5h1M1001 637.5h1M1011 637.5h1M1092.5 637v3M1141.5 637v3M479 638.5h1M621 638.5h1M924.5 638v2M951.5 638v3M982 638.5h2M1000.5 638v2M1096.5 638v2M478.5 639v2M505 639.5h1M619 639.5h2M623.5 639v3M982 639.5h1M984 639.5h2M506 640.5h1M610 640.5h9M654 640.5h1M923.5 640v2M981.5 640v3M986 640.5h1M999 640.5h1M1093.5 640v2M1095.5 640v2M1142.5 640v2M9 641.5h2M434 641.5h1M477.5 641v2M507 641.5h1M610 641.5h1M653 641.5h1M655 641.5h1M952.5 641v2M987 641.5h1M997 641.5h2M6 642.5h3M11.5 642v2M432 642.5h2M435.5 642v2M508 642.5h1M518 642.5h5M609.5 642v2M624.5 642v2M652.5 642v2M656.5 642v2M854 642.5h1M922.5 642v2M988 642.5h1M994 642.5h3M1094.5 642v2M1143 642.5h1M422 643.5h1M430 643.5h2M476.5 643v3M509 643.5h1M517 643.5h1M522 643.5h1M853.5 643v2M855 643.5h2M874 643.5h3M953.5 643v3M980.5 643v3M989 643.5h1M992 643.5h2M1144 643.5h1M12 644.5h1M22 644.5h1M34 644.5h3M50.5 644v2M421.5 644v2M423 644.5h1M429 644.5h1M436 644.5h1M510 644.5h2M516 644.5h1M523.5 644v2M608.5 644v3M625.5 644v3M651 644.5h1M657 644.5h1M694 644.5h1M857 644.5h1M872 644.5h2M877 644.5h2M886.5 644v2M920 644.5h2M990 644.5h2M1145 644.5h1M13.5 645v2M20 645.5h2M23.5 645v2M33 645.5h1M37 645.5h6M49 645.5h1M62 645.5h6M424 645.5h1M428 645.5h1M437.5 645v2M512 645.5h2M515 645.5h1M650 645.5h1M658 645.5h3M693 645.5h1M695 645.5h2M852.5 645v2M858 645.5h1M869 645.5h3M879 645.5h1M885 645.5h1M910 645.5h1M918 645.5h2M1146.5 645v2M17 646.5h3M31 646.5h2M43 646.5h2M48 646.5h1M51.5 646v2M60 646.5h2M68 646.5h2M420 646.5h1M425 646.5h1M427 646.5h1M475.5 646v2M514 646.5h1M524.5 646v2M538.5 646v2M648 646.5h2M661 646.5h10M692 646.5h1M697 646.5h1M859 646.5h2M866 646.5h3M880 646.5h1M884 646.5h1M887.5 646v2M902 646.5h1M909 646.5h1M911 646.5h1M917 646.5h1M954.5 646v2M979.5 646v3M14 647.5h3M24 647.5h1M30 647.5h1M45 647.5h1M47 647.5h1M58 647.5h2M70 647.5h1M419.5 647v2M426 647.5h1M438 647.5h1M536 647.5h2M566 647.5h3M607.5 647v2M626.5 647v2M646 647.5h2M671 647.5h2M682 647.5h3M691 647.5h1M698 647.5h1M851.5 647v2M861 647.5h1M864 647.5h2M881 647.5h1M883 647.5h1M901.5 647v2M903 647.5h2M908 647.5h1M912 647.5h1M916 647.5h1M1147.5 647v2M25.5 648v2M29 648.5h1M46 648.5h1M52.5 648v3M57.5 648v2M71 648.5h1M78 648.5h1M439.5 648v2M474.5 648v2M525.5 648v2M534 648.5h2M539.5 648v3M564 648.5h2M569 648.5h2M627 648.5h2M646 648.5h1M673 648.5h1M681 648.5h1M685 648.5h6M699 648.5h1M862 648.5h2M882 648.5h1M888.5 648v2M905 648.5h1M907 648.5h1M913 648.5h1M915 648.5h1M955 648.5h1M969 648.5h2M27 649.5h2M72.5 649v2M77 649.5h1M79.5 649v2M414 649.5h5M466 649.5h3M473 649.5h1M533 649.5h1M554.5 649v2M562 649.5h2M570 649.5h1M606.5 649v2M629 649.5h2M645.5 649v4M674 649.5h2M680 649.5h1M700 649.5h1M850.5 649v2M900 649.5h1M906 649.5h1M914 649.5h1M956.5 649v2M966 649.5h3M971 649.5h1M978.5 649v2M1148.5 649v2M26 650.5h1M56.5 650v2M76 650.5h1M413 650.5h1M440 650.5h1M449 650.5h2M465 650.5h1M469 650.5h4M526 650.5h3M531 650.5h2M555 650.5h2M561 650.5h1M571.5 650v2M631.5 650v2M676 650.5h2M679 650.5h1M701 650.5h1M889.5 650v2M899.5 650v2M964 650.5h2M972 650.5h1M53.5 651v2M73 651.5h1M75 651.5h1M80.5 651v2M190 651.5h1M246 651.5h3M374 651.5h3M412 651.5h1M441.5 651v2M446 651.5h3M451 651.5h1M463 651.5h2M529 651.5h2M540.5 651v2M553.5 651v2M557 651.5h1M559 651.5h2M605.5 651v2M678 651.5h1M702 651.5h1M805 651.5h2M849.5 651v2M957 651.5h1M961 651.5h3M973 651.5h1M976 651.5h2M1149.5 651v2M55.5 652v2M74 652.5h1M189 652.5h1M191 652.5h1M246 652.5h1M249 652.5h2M373.5 652v2M377 652.5h3M411 652.5h1M444 652.5h2M452 652.5h1M458 652.5h5M558 652.5h1M572.5 652v2M632.5 652v2M703 652.5h2M802 652.5h3M807 652.5h1M890 652.5h3M897 652.5h2M958 652.5h3M974 652.5h2M54.5 653v2M81.5 653v2M110 653.5h5M138 653.5h1M158 653.5h3M188.5 653v2M192.5 653v2M245.5 653v3M251.5 653v2M380 653.5h2M410.5 653v2M442 653.5h2M453 653.5h1M456 653.5h2M541.5 653v3M552.5 653v2M604 653.5h1M644.5 653v4M705 653.5h1M801 653.5h1M808 653.5h1M842.5 653v2M848.5 653v2M893 653.5h4M1150 653.5h1M1270.5 653v2M110 654.5h1M115.5 654v2M137 654.5h1M139 654.5h2M156 654.5h2M161 654.5h2M178 654.5h3M366.5 654v2M372.5 654v2M382 654.5h2M454 654.5h2M573.5 654v2M603.5 654v2M633.5 654v2M706 654.5h1M799 654.5h2M809 654.5h1M843 654.5h1M1151 654.5h2M1271 654.5h2M82 655.5h1M109.5 655v2M135 655.5h2M141 655.5h1M150 655.5h6M163 655.5h1M176 655.5h2M181 655.5h4M187 655.5h1M193 655.5h1M252 655.5h1M367 655.5h1M384 655.5h2M409.5 655v3M551.5 655v2M598 655.5h3M707 655.5h2M797 655.5h2M810 655.5h1M841.5 655v2M844 655.5h1M847.5 655v2M1153 655.5h1M1269.5 655v3M1273 655.5h1M83 656.5h2M98 656.5h2M116 656.5h1M134.5 656v3M142 656.5h3M148 656.5h2M164 656.5h1M174 656.5h2M185 656.5h2M194 656.5h3M201 656.5h4M244.5 656v2M253.5 656v2M337 656.5h2M365.5 656v4M368 656.5h1M371.5 656v2M386 656.5h7M542.5 656v2M574 656.5h1M586 656.5h1M597 656.5h1M601 656.5h2M634 656.5h1M709 656.5h1M794 656.5h3M811.5 656v2M845 656.5h1M1154 656.5h10M1274 656.5h1M85 657.5h1M89 657.5h4M96 657.5h2M100 657.5h2M108.5 657v3M117.5 657v2M145 657.5h3M165 657.5h1M173 657.5h1M197 657.5h4M205 657.5h4M334 657.5h3M339 657.5h1M369 657.5h1M393 657.5h2M543 657.5h2M550.5 657v2M575 657.5h2M585.5 657v2M587 657.5h2M596.5 657v2M635.5 657v2M643.5 657v4M710 657.5h9M793 657.5h1M840.5 657v2M846 657.5h1M1164 657.5h2M1174 657.5h5M1242 657.5h3M1275 657.5h1M86 658.5h3M93 658.5h3M102 658.5h1M166 658.5h1M172.5 658v2M209 658.5h2M234 658.5h3M243.5 658v3M254 658.5h3M261 658.5h2M333 658.5h1M340.5 658v2M370 658.5h1M395 658.5h1M408.5 658v2M545 658.5h5M577 658.5h1M589 658.5h1M719 658.5h1M791 658.5h2M812.5 658v2M1166 658.5h2M1173 658.5h1M1179 658.5h1M1241 658.5h1M1245 658.5h2M1268.5 658v4M1276.5 658v2M1326 658.5h7M103 659.5h1M118.5 659v2M133.5 659v4M167 659.5h2M211 659.5h1M233 659.5h1M237 659.5h2M257 659.5h4M263.5 659v2M331 659.5h2M396 659.5h1M578 659.5h1M584 659.5h1M590 659.5h3M595 659.5h1M636.5 659v2M720.5 659v2M790.5 659v2M826.5 659v2M839.5 659v2M1168 659.5h2M1171 659.5h2M1180 659.5h1M1202 659.5h1M1240.5 659v2M1247 659.5h1M1325 659.5h1M1333 659.5h2M104.5 660v2M107.5 660v2M169 660.5h1M171 660.5h1M212 660.5h1M232 660.5h1M239 660.5h2M326 660.5h5M341 660.5h1M364.5 660v3M397 660.5h1M401 660.5h2M407.5 660v3M579 660.5h2M583.5 660v2M593 660.5h2M813.5 660v2M825 660.5h1M1170 660.5h1M1181 660.5h1M1201 660.5h1M1203 660.5h1M1233 660.5h3M1248.5 660v2M1277 660.5h1M1324 660.5h1M1335.5 660v2M1342 660.5h1M119.5 661v2M170 661.5h1M213 661.5h1M231 661.5h1M241 661.5h2M264 661.5h1M325.5 661v2M342 661.5h3M398 661.5h3M403 661.5h1M581 661.5h1M637.5 661v2M642.5 661v3M721 661.5h1M789.5 661v3M823 661.5h2M827.5 661v2M838.5 661v2M1182 661.5h5M1199 661.5h2M1204 661.5h1M1230 661.5h3M1236 661.5h2M1239 661.5h1M1278 661.5h9M1294 661.5h2M1323 661.5h1M1341 661.5h1M105 662.5h2M214 662.5h5M226 662.5h5M242 662.5h1M265.5 662v2M345 662.5h4M353 662.5h2M404 662.5h1M582 662.5h1M722 662.5h1M814 662.5h1M822 662.5h1M1187 662.5h1M1198 662.5h1M1205 662.5h1M1214 662.5h2M1229.5 662v2M1238 662.5h1M1249 662.5h1M1267.5 662v3M1287 662.5h1M1293 662.5h1M1296 662.5h2M1301 662.5h4M1322 662.5h1M1336 662.5h1M1340.5 662v2M106 663.5h1M120.5 663v2M132.5 663v4M219 663.5h2M225 663.5h1M310.5 663v2M324 663.5h1M349 663.5h4M355 663.5h1M363.5 663v4M405 663.5h2M638 663.5h4M723 663.5h1M815 663.5h2M821 663.5h1M828.5 663v2M837 663.5h1M1188.5 663v2M1197 663.5h1M1206 663.5h2M1213 663.5h1M1216 663.5h2M1250.5 663v2M1288 663.5h1M1292 663.5h1M1298 663.5h3M1305 663.5h4M1320 663.5h2M1337.5 663v2M221 664.5h1M223 664.5h2M266 664.5h1M311 664.5h1M323.5 664v2M356 664.5h1M406 664.5h1M724.5 664v2M758 664.5h3M788.5 664v2M817 664.5h1M819 664.5h2M836.5 664v2M1196.5 664v2M1208 664.5h2M1211 664.5h2M1218 664.5h3M1228.5 664v2M1289 664.5h1M1291 664.5h1M1309 664.5h4M1317 664.5h3M1339 664.5h1M121.5 665v2M222 665.5h1M267 665.5h1M309.5 665v3M312 665.5h1M357 665.5h1M758 665.5h1M761 665.5h4M818 665.5h1M829.5 665v2M1189 665.5h1M1210 665.5h1M1221 665.5h2M1251.5 665v2M1266.5 665v2M1290 665.5h1M1313 665.5h4M1338 665.5h1M268.5 666v2M313 666.5h1M322 666.5h1M358 666.5h2M725 666.5h1M757.5 666v2M765 666.5h2M787.5 666v3M835 666.5h1M1190 666.5h3M1195 666.5h1M1223 666.5h2M1227.5 666v2M122 667.5h2M131.5 667v4M314 667.5h1M321.5 667v2M360 667.5h3M726 667.5h1M767 667.5h2M830 667.5h5M1193 667.5h2M1225 667.5h1M1252.5 667v2M1265.5 667v2M124 668.5h2M269 668.5h1M308.5 668v3M315.5 668v2M362 668.5h1M727 668.5h1M756.5 668v2M769 668.5h1M782 668.5h2M1226 668.5h1M126 669.5h1M270 669.5h1M320.5 669v2M728.5 669v2M770 669.5h2M781 669.5h1M784 669.5h3M1253.5 669v2M1264.5 669v2M127 670.5h1M271 670.5h1M316.5 670v2M755.5 670v2M772 670.5h2M779 670.5h2M786 670.5h1M128 671.5h1M130.5 671v3M272 671.5h1M307.5 671v3M319.5 671v2M729 671.5h1M733 671.5h4M750 671.5h2M774 671.5h5M1254.5 671v2M1263.5 671v2M129 672.5h1M273 672.5h1M317.5 672v2M730 672.5h3M737 672.5h4M748 672.5h2M752 672.5h3M1255 672.5h5M274 673.5h2M318.5 673v2M741 673.5h7M754 673.5h1M1260 673.5h3M276 674.5h2M306.5 674v2M1262 674.5h1M278 675.5h7M285 676.5h3M305.5 676v2M288 677.5h2M290 678.5h2M304 678.5h1M292 679.5h2M303.5 679v2M294 680.5h3M297 681.5h6" fill="none" stroke="#1e90ff" stroke-width="1"/>
<text x="10" y="714" font-size="10.2" fill="#000" textLength="153.5" lengthAdjust="spacingAndGlyphs">MACD(12,26,9) -0.003555 -0.004189</text>
<rect x="6" y="756" width="1" height="1" fill="#c0c0c0"/>
<rect x="10" y="754" width="1" height="3" fill="#c0c0c0"/>
<rect x="14" y="754" width="1" height="3" fill="#c0c0c0"/>
<rect x="18" y="754" width="1" height="3" fill="#c0c0c0"/>
<rect x="22" y="753" width="1" height="4" fill="#c0c0c0"/>
<rect x="26" y="754" width="1" height="3" fill="#c0c0c0"/>
<rect x="30" y="754" width="1" height="3" fill="#c0c0c0"/>
<rect x="34" y="753" width="1" height="4" fill="#c0c0c0"/>
<rect x="38" y="753" width="1" height="4" fill="#c0c0c0"/>
<rect x="42" y="753" width="1" height="4" fill="#c0c0c0"/>
<rect x="46" y="753" width="1" height="4" fill="#c0c0c0"/>
<rect x="50" y="753" width="1" height="4" fill="#c0c0c0"/>
<rect x="54" y="755" width="1" height="2" fill="#c0c0c0"/>
<rect x="58" y="755" width="1" height="2" fill="#c0c0c0"/>
<rect x="62" y="754" width="1" height="3" fill="#c0c0c0"/>
<rect x="66" y="754" width="1" height="3" fill="#c0c0c0"/>
<rect x="70" y="754" width="1" height="3" fill="#c0c0c0"/>
<rect x="74" y="756" width="1" height="1" fill="#c0c0c0"/>
<rect x="78" y="756" width="1" height="1" fill="#c0c0c0"/>
<rect x="82" y="756" width="1" height="3" fill="#c0c0c0"/>
<rect x="86" y="756" width="1" height="6" fill="#c0c0c0"/>
<rect x="90" y="756" width="1" height="8" fill="#c0c0c0"/>
<rect x="94" y="756" width="1" height="10" fill="#c0c0c0"/>
<rect x="98" y="756" width="1" height="11" fill="#c0c0c0"/>
<rect x="102" y="756" width="1" height="12" fill="#c0c0c0"/>
<rect x="106" y="756" width="1" height="14" fill="#c0c0c0"/>
<rect x="110" y="756" width="1" height="14" fill="#c0c0c0"/>
<rect x="114" y="756" width="1" height="13" fill="#c0c0c0"/>
<rect x="118" y="756" width="1" height="15" fill="#c0c0c0"/>
<rect x="122" y="756" width="1" height="19" fill="#c0c0c0"/>
<rect x="126" y="756" width="1" height="24" fill="#c0c0c0"/>
<rect x="130" y="756" width="1" height="30" fill="#c0c0c0"/>
<rect x="134" y="756" width="1" height="29" fill="#c0c0c0"/>
<rect x="138" y="756" width="1" height="27" fill="#c0c0c0"/>
<rect x="142" y="756" width="1" height="26" fill="#c0c0c0"/>
<rect x="146" y="756" width="1" height="26" fill="#c0c0c0"/>
<rect x="150" y="756" width="1" height="25" fill="#c0c0c0"/>
<rect x="154" y="756" width="1" height="24" fill="#c0c0c0"/>
<rect x="158" y="756" width="1" height="22" fill="#c0c0c0"/>
<rect x="162" y="756" width="1" height="21" fill="#c0c0c0"/>
<rect x="166" y="756" width="1" height="21" fill="#c0c0c0"/>
<rect x="170" y="756" width="1" height="23" fill="#c0c0c0"/>
<rect x="174" y="756" width="1" height="22" fill="#c0c0c0"/>
<rect x="178" y="756" width="1" height="21" fill="#c0c0c0"/>
<rect x="182" y="756" width="1" height="20" fill="#c0c0c0"/>
<rect x="186" y="756" width="1" height="20" fill="#c0c0c0"/>
<rect x="190" y="756" width="1" height="18" fill="#c0c0c0"/>
<rect x="194" y="756" width="1" height="18" fill="#c0c0c0"/>
<rect x="198" y="756" width="1" height="18" fill="#c0c0c0"/>
<rect x="202" y="756" width="1" height="17" fill="#c0c0c0"/>
<rect x="206" y="756" width="1" height="17" fill="#c0c0c0"/>
<rect x="210" y="756" width="1" height="17" fill="#c0c0c0"/>
<rect x="214" y="756" width="1" height="18" fill="#c0c0c0"/>
<rect x="218" y="756" width="1" height="19" fill="#c0c0c0"/>
<rect x="222" y="756" width="1" height="20" fill="#c0c0c0"/>
<rect x="226" y="756" width="1" height="21" fill="#c0c0c0"/>
<rect x="230" y="756" width="1" height="21" fill="#c0c0c0"/>
<rect x="234" y="756" width="1" height="20" fill="#c0c0c0"/>
<rect x="238" y="756" width="1" height="19" fill="#c0c0c0"/>
<rect x="242" y="756" width="1" height="19" fill="#c0c0c0"/>
<rect x="246" y="756" width="1" height="17" fill="#c0c0c0"/>
<rect x="250" y="756" width="1" height="15" fill="#c0c0c0"/>
<rect x="254" y="756" width="1" height="16" fill="#c0c0c0"/>
<rect x="258" y="756" width="1" height="16" fill="#c0c0c0"/>
<rect x="262" y="756" width="1" height="16" fill="#c0c0c0"/>
<rect x="266" y="756" width="1" height="17" fill="#c0c0c0"/>
<rect x="270" y="756" width="1" height="20" fill="#c0c0c0"/>
<rect x="274" y="756" width="1" height="24" fill="#c0c0c0"/>
<rect x="278" y="756" width="1" height="28" fill="#c0c0c0"/>
<rect x="282" y="756" width="1" height="31" fill="#c0c0c0"/>
<rect x="286" y="756" width="1" height="33" fill="#c0c0c0"/>
<rect x="290" y="756" width="1" height="36" fill="#c0c0c0"/>
<rect x="294" y="756" width="1" height="39" fill="#c0c0c0"/>
<rect x="298" y="756" width="1" height="42" fill="#c0c0c0"/>
<rect x="302" y="756" width="1" height="43" fill="#c0c0c0"/>
<rect x="306" y="756" width="1" height="44" fill="#c0c0c0"/>
<rect x="310" y="756" width="1" height="41" fill="#c0c0c0"/>
<rect x="314" y="756" width="1" height="40" fill="#c0c0c0"/>
<rect x="318" y="756" width="1" height="43" fill="#c0c0c0"/>
<rect x="322" y="756" width="1" height="42" fill="#c0c0c0"/>
<rect x="326" y="756" width="1" height="40" fill="#c0c0c0"/>
<rect x="330" y="756" width="1" height="38" fill="#c0c0c0"/>
<rect x="334" y="756" width="1" height="36" fill="#c0c0c0"/>
<rect x="338" y="756" width="1" height="33" fill="#c0c0c0"/>
<rect x="342" y="756" width="1" height="32" fill="#c0c0c0"/>
<rect x="346" y="756" width="1" height="32" fill="#c0c0c0"/>
<rect x="350" y="756" width="1" height="32" fill="#c0c0c0"/>
<rect x="354" y="756" width="1" height="31" fill="#c0c0c0"/>
<rect x="358" y="756" width="1" height="31" fill="#c0c0c0"/>
<rect x="362" y="756" width="1" height="32" fill="#c0c0c0"/>
<rect x="366" y="756" width="1" height="30" fill="#c0c0c0"/>
<rect x="370" y="756" width="1" height="28" fill="#c0c0c0"/>
<rect x="374" y="756" width="1" height="25" fill="#c0c0c0"/>
<rect x="378" y="756" width="1" height="23" fill="#c0c0c0"/>
<rect x="382" y="756" width="1" height="21" fill="#c0c0c0"/>
<rect x="386" y="756" width="1" height="20" fill="#c0c0c0"/>
<rect x="390" y="756" width="1" height="20" fill="#c0c0c0"/>
<rect x="394" y="756" width="1" height="19" fill="#c0c0c0"/>
<rect x="398" y="756" width="1" height="20" fill="#c0c0c0"/>
<rect x="402" y="756" width="1" height="20" fill="#c0c0c0"/>
<rect x="406" y="756" width="1" height="22" fill="#c0c0c0"/>
<rect x="410" y="756" width="1" height="20" fill="#c0c0c0"/>
<rect x="414" y="756" width="1" height="17" fill="#c0c0c0"/>
<rect x="418" y="756" width="1" height="15" fill="#c0c0c0"/>
<rect x="422" y="756" width="1" height="11" fill="#c0c0c0"/>
<rect x="426" y="756" width="1" height="9" fill="#c0c0c0"/>
<rect x="430" y="756" width="1" height="6" fill="#c0c0c0"/>
<rect x="434" y="756" width="1" height="4" fill="#c0c0c0"/>
<rect x="438" y="756" width="1" height="3" fill="#c0c0c0"/>
<rect x="442" y="756" width="1" height="4" fill="#c0c0c0"/>
<rect x="446" y="756" width="1" height="5" fill="#c0c0c0"/>
<rect x="450" y="756" width="1" height="5" fill="#c0c0c0"/>
<rect x="454" y="756" width="1" height="6" fill="#c0c0c0"/>
<rect x="458" y="756" width="1" height="6" fill="#c0c0c0"/>
<rect x="462" y="756" width="1" height="6" fill="#c0c0c0"/>
<rect x="466" y="756" width="1" height="6" fill="#c0c0c0"/>
<rect x="470" y="756" width="1" height="6" fill="#c0c0c0"/>
<rect x="474" y="756" width="1" height="5" fill="#c0c0c0"/>
<rect x="478" y="756" width="1" height="2" fill="#c0c0c0"/>
<rect x="482" y="753" width="1" height="4" fill="#c0c0c0"/>
<rect x="486" y="749" width="1" height="8" fill="#c0c0c0"/>
<rect x="490" y="745" width="1" height="12" fill="#c0c0c0"/>
<rect x="494" y="741" width="1" height="16" fill="#c0c0c0"/>
<rect x="498" y="738" width="1" height="19" fill="#c0c0c0"/>
<rect x="502" y="737" width="1" height="20" fill="#c0c0c0"/>
<rect x="506" y="738" width="1" height="19" fill="#c0c0c0"/>
<rect x="510" y="740" width="1" height="17" fill="#c0c0c0"/>
<rect x="514" y="742" width="1" height="15" fill="#c0c0c0"/>
<rect x="518" y="743" width="1" height="14" fill="#c0c0c0"/>
<rect x="522" y="743" width="1" height="14" fill="#c0c0c0"/>
<rect x="526" y="746" width="1" height="11" fill="#c0c0c0"/>
<rect x="530" y="748" width="1" height="9" fill="#c0c0c0"/>
<rect x="534" y="750" width="1" height="7" fill="#c0c0c0"/>
<rect x="538" y="750" width="1" height="7" fill="#c0c0c0"/>
<rect x="542" y="754" width="1" height="3" fill="#c0c0c0"/>
<rect x="546" y="756" width="1" height="2" fill="#c0c0c0"/>
<rect x="550" y="756" width="1" height="4" fill="#c0c0c0"/>
<rect x="554" y="756" width="1" height="4" fill="#c0c0c0"/>
<rect x="558" y="756" width="1" height="5" fill="#c0c0c0"/>
<rect x="562" y="756" width="1" height="4" fill="#c0c0c0"/>
<rect x="566" y="756" width="1" height="4" fill="#c0c0c0"/>
<rect x="570" y="756" width="1" height="4" fill="#c0c0c0"/>
<rect x="574" y="756" width="1" height="5" fill="#c0c0c0"/>
<rect x="578" y="756" width="1" height="8" fill="#c0c0c0"/>
<rect x="582" y="756" width="1" height="10" fill="#c0c0c0"/>
<rect x="586" y="756" width="1" height="11" fill="#c0c0c0"/>
<rect x="590" y="756" width="1" height="13" fill="#c0c0c0"/>
<rect x="594" y="756" width="1" height="14" fill="#c0c0c0"/>
<rect x="598" y="756" width="1" height="14" fill="#c0c0c0"/>
<rect x="602" y="756" width="1" height="14" fill="#c0c0c0"/>
<rect x="606" y="756" width="1" height="12" fill="#c0c0c0"/>
<rect x="610" y="756" width="1" height="8" fill="#c0c0c0"/>
<rect x="614" y="756" width="1" height="5" fill="#c0c0c0"/>
<rect x="618" y="756" width="1" height="2" fill="#c0c0c0"/>
<rect x="622" y="754" width="1" height="3" fill="#c0c0c0"/>
<rect x="626" y="755" width="1" height="2" fill="#c0c0c0"/>
<rect x="630" y="755" width="1" height="2" fill="#c0c0c0"/>
<rect x="634" y="756" width="1" height="3" fill="#c0c0c0"/>
<rect x="638" y="756" width="1" height="8" fill="#c0c0c0"/>
<rect x="642" y="756" width="1" height="11" fill="#c0c0c0"/>
<rect x="646" y="756" width="1" height="9" fill="#c0c0c0"/>
<rect x="650" y="756" width="1" height="7" fill="#c0c0c0"/>
<rect x="654" y="756" width="1" height="3" fill="#c0c0c0"/>
<rect x="658" y="756" width="1" height="1" fill="#c0c0c0"/>
<rect x="662" y="756" width="1" height="1" fill="#c0c0c0"/>
<rect x="666" y="755" width="1" height="2" fill="#c0c0c0"/>
<rect x="670" y="755" width="1" height="2" fill="#c0c0c0"/>
<rect x="674" y="755" width="1" height="2" fill="#c0c0c0"/>
<rect x="678" y="756" width="1" height="1" fill="#c0c0c0"/>
<rect x="682" y="756" width="1" height="1" fill="#c0c0c0"/>
<rect x="686" y="756" width="1" height="1" fill="#c0c0c0"/>
<rect x="690" y="756" width="1" height="1" fill="#c0c0c0"/>
<rect x="694" y="755" width="1" height="2" fill="#c0c0c0"/>
<rect x="698" y="755" width="1" height="2" fill="#c0c0c0"/>
<rect x="702" y="756" width="1" height="1" fill="#c0c0c0"/>
<rect x="706" y="756" width="1" height="3" fill="#c0c0c0"/>
<rect x="710" y="756" width="1" height="5" fill="#c0c0c0"/>
<rect x="714" y="756" width="1" height="7" fill="#c0c0c0"/>
<rect x="718" y="756" width="1" height="8" fill="#c0c0c0"/>
<rect x="722" y="756" width="1" height="10" fill="#c0c0c0"/>
<rect x="726" y="756" width="1" height="13" fill="#c0c0c0"/>
<rect x="730" y="756" width="1" height="19" fill="#c0c0c0"/>
<rect x="734" y="756" width="1" height="22" fill="#c0c0c0"/>
<rect x="738" y="756" width="1" height="25" fill="#c0c0c0"/>
<rect x="742" y="756" width="1" height="27" fill="#c0c0c0"/>
<rect x="746" y="756" width="1" height="29" fill="#c0c0c0"/>
<rect x="750" y="756" width="1" height="30" fill="#c0c0c0"/>
<rect x="754" y="756" width="1" height="31" fill="#c0c0c0"/>
<rect x="758" y="756" width="1" height="30" fill="#c0c0c0"/>
<rect x="762" y="756" width="1" height="29" fill="#c0c0c0"/>
<rect x="766" y="756" width="1" height="29" fill="#c0c0c0"/>
<rect x="770" y="756" width="1" height="29" fill="#c0c0c0"/>
<rect x="774" y="756" width="1" height="30" fill="#c0c0c0"/>
<rect x="778" y="756" width="1" height="30" fill="#c0c0c0"/>
<rect x="782" y="756" width="1" height="29" fill="#c0c0c0"/>
<rect x="786" y="756" width="1" height="29" fill="#c0c0c0"/>
<rect x="790" y="756" width="1" height="27" fill="#c0c0c0"/>
<rect x="794" y="756" width="1" height="25" fill="#c0c0c0"/>
<rect x="798" y="756" width="1" height="23" fill="#c0c0c0"/>
<rect x="802" y="756" width="1" height="20" fill="#c0c0c0"/>
<rect x="806" y="756" width="1" height="17" fill="#c0c0c0"/>
<rect x="810" y="756" width="1" height="16" fill="#c0c0c0"/>
<rect x="814" y="756" width="1" height="17" fill="#c0c0c0"/>
<rect x="818" y="756" width="1" height="18" fill="#c0c0c0"/>
<rect x="822" y="756" width="1" height="18" fill="#c0c0c0"/>
<rect x="826" y="756" width="1" height="18" fill="#c0c0c0"/>
<rect x="830" y="756" width="1" height="19" fill="#c0c0c0"/>
<rect x="834" y="756" width="1" height="20" fill="#c0c0c0"/>
<rect x="838" y="756" width="1" height="20" fill="#c0c0c0"/>
<rect x="842" y="756" width="1" height="18" fill="#c0c0c0"/>
<rect x="846" y="756" width="1" height="18" fill="#c0c0c0"/>
<rect x="850" y="756" width="1" height="15" fill="#c0c0c0"/>
<rect x="854" y="756" width="1" height="11" fill="#c0c0c0"/>
<rect x="858" y="756" width="1" height="9" fill="#c0c0c0"/>
<rect x="862" y="756" width="1" height="8" fill="#c0c0c0"/>
<rect x="866" y="756" width="1" height="6" fill="#c0c0c0"/>
<rect x="870" y="756" width="1" height="5" fill="#c0c0c0"/>
<rect x="874" y="756" width="1" height="3" fill="#c0c0c0"/>
<rect x="878" y="756" width="1" height="2" fill="#c0c0c0"/>
<rect x="882" y="756" width="1" height="2" fill="#c0c0c0"/>
<rect x="886" y="756" width="1" height="1" fill="#c0c0c0"/>
<rect x="890" y="756" width="1" height="2" fill="#c0c0c0"/>
<rect x="894" y="756" width="1" height="3" fill="#c0c0c0"/>
<rect x="898" y="756" width="1" height="3" fill="#c0c0c0"/>
<rect x="902" y="756" width="1" height="2" fill="#c0c0c0"/>
<rect x="906" y="756" width="1" height="2" fill="#c0c0c0"/>
<rect x="910" y="756" width="1" height="2" fill="#c0c0c0"/>
<rect x="914" y="756" width="1" height="2" fill="#c0c0c0"/>
<rect x="918" y="756" width="1" height="1" fill="#c0c0c0"/>
<rect x="922" y="755" width="1" height="2" fill="#c0c0c0"/>
<rect x="926" y="752" width="1" height="5" fill="#c0c0c0"/>
<rect x="930" y="749" width="1" height="8" fill="#c0c0c0"/>
<rect x="934" y="746" width="1" height="11" fill="#c0c0c0"/>
<rect x="938" y="743" width="1" height="14" fill="#c0c0c0"/>
<rect x="942" y="741" width="1" height="16" fill="#c0c0c0"/>
<rect x="946" y="741" width="1" height="16" fill="#c0c0c0"/>
<rect x="950" y="741" width="1" height="16" fill="#c0c0c0"/>
<rect x="954" y="743" width="1" height="14" fill="#c0c0c0"/>
<rect x="958" y="746" width="1" height="11" fill="#c0c0c0"/>
<rect x="962" y="748" width="1" height="9" fill="#c0c0c0"/>
<rect x="966" y="750" width="1" height="7" fill="#c0c0c0"/>
<rect x="970" y="751" width="1" height="6" fill="#c0c0c0"/>
<rect x="974" y="753" width="1" height="4" fill="#c0c0c0"/>
<rect x="978" y="754" width="1" height="3" fill="#c0c0c0"/>
<rect x="982" y="752" width="1" height="5" fill="#c0c0c0"/>
<rect x="986" y="750" width="1" height="7" fill="#c0c0c0"/>
<rect x="990" y="750" width="1" height="7" fill="#c0c0c0"/>
<rect x="994" y="750" width="1" height="7" fill="#c0c0c0"/>
<rect x="998" y="749" width="1" height="8" fill="#c0c0c0"/>
<rect x="1002" y="748" width="1" height="9" fill="#c0c0c0"/>
<rect x="1006" y="743" width="1" height="14" fill="#c0c0c0"/>
<rect x="1010" y="742" width="1" height="15" fill="#c0c0c0"/>
<rect x="1014" y="741" width="1" height="16" fill="#c0c0c0"/>
<rect x="1018" y="738" width="1" height="19" fill="#c0c0c0"/>
<rect x="1022" y="735" width="1" height="22" fill="#c0c0c0"/>
<rect x="1026" y="732" width="1" height="25" fill="#c0c0c0"/>
<rect x="1030" y="729" width="1" height="28" fill="#c0c0c0"/>
<rect x="1034" y="724" width="1" height="33" fill="#c0c0c0"/>
<rect x="1038" y="718" width="1" height="39" fill="#c0c0c0"/>
<rect x="1042" y="714" width="1" height="43" fill="#c0c0c0"/>
<rect x="1046" y="710" width="1" height="47" fill="#c0c0c0"/>
<rect x="1050" y="709" width="1" height="48" fill="#c0c0c0"/>
<rect x="1054" y="708" width="1" height="49" fill="#c0c0c0"/>
<rect x="1058" y="710" width="1" height="47" fill="#c0c0c0"/>
<rect x="1062" y="711" width="1" height="46" fill="#c0c0c0"/>
<rect x="1066" y="712" width="1" height="45" fill="#c0c0c0"/>
<rect x="1070" y="714" width="1" height="43" fill="#c0c0c0"/>
<rect x="1074" y="717" width="1" height="40" fill="#c0c0c0"/>
<rect x="1078" y="719" width="1" height="38" fill="#c0c0c0"/>
<rect x="1082" y="721" width="1" height="36" fill="#c0c0c0"/>
<rect x="1086" y="722" width="1" height="35" fill="#c0c0c0"/>
<rect x="1090" y="724" width="1" height="33" fill="#c0c0c0"/>
<rect x="1094" y="727" width="1" height="30" fill="#c0c0c0"/>
<rect x="1098" y="727" width="1" height="30" fill="#c0c0c0"/>
<rect x="1102" y="726" width="1" height="31" fill="#c0c0c0"/>
<rect x="1106" y="724" width="1" height="33" fill="#c0c0c0"/>
<rect x="1110" y="723" width="1" height="34" fill="#c0c0c0"/>
<rect x="1114" y="723" width="1" height="34" fill="#c0c0c0"/>
<rect x="1118" y="723" width="1" height="34" fill="#c0c0c0"/>
<rect x="1122" y="722" width="1" height="35" fill="#c0c0c0"/>
<rect x="1126" y="722" width="1" height="35" fill="#c0c0c0"/>
<rect x="1130" y="723" width="1" height="34" fill="#c0c0c0"/>
<rect x="1134" y="723" width="1" height="34" fill="#c0c0c0"/>
<rect x="1138" y="724" width="1" height="33" fill="#c0c0c0"/>
<rect x="1142" y="727" width="1" height="30" fill="#c0c0c0"/>
<rect x="1146" y="731" width="1" height="26" fill="#c0c0c0"/>
<rect x="1150" y="737" width="1" height="20" fill="#c0c0c0"/>
<rect x="1154" y="742" width="1" height="15" fill="#c0c0c0"/>
<rect x="1158" y="747" width="1" height="10" fill="#c0c0c0"/>
<rect x="1162" y="750" width="1" height="7" fill="#c0c0c0"/>
<rect x="1166" y="754" width="1" height="3" fill="#c0c0c0"/>
<rect x="1170" y="756" width="1" height="2" fill="#c0c0c0"/>
<rect x="1174" y="756" width="1" height="5" fill="#c0c0c0"/>
<rect x="1178" y="756" width="1" height="6" fill="#c0c0c0"/>
<rect x="1182" y="756" width="1" height="9" fill="#c0c0c0"/>
<rect x="1186" y="756" width="1" height="11" fill="#c0c0c0"/>
<rect x="1190" y="756" width="1" height="13" fill="#c0c0c0"/>
<rect x="1194" y="756" width="1" height="16" fill="#c0c0c0"/>
<rect x="1198" y="756" width="1" height="17" fill="#c0c0c0"/>
<rect x="1202" y="756" width="1" height="17" fill="#c0c0c0"/>
<rect x="1206" y="756" width="1" height="18" fill="#c0c0c0"/>
<rect x="1210" y="756" width="1" height="19" fill="#c0c0c0"/>
<rect x="1214" y="756" width="1" height="20" fill="#c0c0c0"/>
<rect x="1218" y="756" width="1" height="20" fill="#c0c0c0"/>
<rect x="1222" y="756" width="1" height="21" fill="#c0c0c0"/>
<rect x="1226" y="756" width="1" height="22" fill="#c0c0c0"/>
<rect x="1230" y="756" width="1" height="21" fill="#c0c0c0"/>
<rect x="1234" y="756" width="1" height="21" fill="#c0c0c0"/>
<rect x="1238" y="756" width="1" height="20" fill="#c0c0c0"/>
<rect x="1242" y="756" width="1" height="19" fill="#c0c0c0"/>
<rect x="1246" y="756" width="1" height="18" fill="#c0c0c0"/>
<rect x="1250" y="756" width="1" height="19" fill="#c0c0c0"/>
<rect x="1254" y="756" width="1" height="22" fill="#c0c0c0"/>
<rect x="1258" y="756" width="1" height="25" fill="#c0c0c0"/>
<rect x="1262" y="756" width="1" height="28" fill="#c0c0c0"/>
<rect x="1266" y="756" width="1" height="28" fill="#c0c0c0"/>
<rect x="1270" y="756" width="1" height="25" fill="#c0c0c0"/>
<rect x="1274" y="756" width="1" height="24" fill="#c0c0c0"/>
<rect x="1278" y="756" width="1" height="24" fill="#c0c0c0"/>
<rect x="1282" y="756" width="1" height="24" fill="#c0c0c0"/>
<rect x="1286" y="756" width="1" height="24" fill="#c0c0c0"/>
<rect x="1290" y="756" width="1" height="25" fill="#c0c0c0"/>
<rect x="1294" y="756" width="1" height="24" fill="#c0c0c0"/>
<rect x="1298" y="756" width="1" height="25" fill="#c0c0c0"/>
<rect x="1302" y="756" width="1" height="25" fill="#c0c0c0"/>
<rect x="1306" y="756" width="1" height="24" fill="#c0c0c0"/>
<rect x="1310" y="756" width="1" height="24" fill="#c0c0c0"/>
<rect x="1314" y="756" width="1" height="24" fill="#c0c0c0"/>
<rect x="1318" y="756" width="1" height="24" fill="#c0c0c0"/>
<rect x="1322" y="756" width="1" height="23" fill="#c0c0c0"/>
<rect x="1326" y="756" width="1" height="21" fill="#c0c0c0"/>
<rect x="1330" y="756" width="1" height="20" fill="#c0c0c0"/>
<rect x="1334" y="756" width="1" height="18" fill="#c0c0c0"/>
<rect x="1338" y="756" width="1" height="19" fill="#c0c0c0"/>
<rect x="1342" y="756" width="1" height="18" fill="#c0c0c0"/>
<path d="M1069 711.5h2M1074 711.5h3M1068 712.5h1M1080 712.5h2M1064 713.5h1M1082 713.5h1M1062 714.5h2M1086 714.5h2M1088 715.5h1M1058 716.5h1M1057 717.5h1M1092 717.5h2M1056 718.5h1M1094 718.5h1M1098 720.5h3M1052 721.5h1M1104 721.5h1M1051 722.5h1M1105 722.5h2M1140 722.5h1M1050 723.5h1M1110 723.5h3M1129 723.5h2M1134 723.5h3M1141 723.5h2M1116 724.5h3M1122 724.5h3M1128 724.5h1M1146 724.5h3M1046 726.5h1M1152 726.5h2M1045 727.5h1M1154 727.5h1M1044 728.5h1M1158 730.5h1M1159 731.5h2M1039 732.5h2M1038 733.5h1M1164 735.5h1M1165 736.5h1M1034 737.5h1M1166 737.5h1M1032 738.5h2M517 741.5h2M522 741.5h3M528 741.5h1M1027 741.5h2M1170 741.5h1M516 742.5h1M529 742.5h2M1026 742.5h1M1171 742.5h1M512 743.5h1M534 743.5h3M1172 743.5h1M510 744.5h2M961 744.5h2M966 744.5h3M1022 744.5h1M540 745.5h2M960 745.5h1M972 745.5h1M1020 745.5h2M506 746.5h1M542 746.5h1M954 746.5h3M973 746.5h2M505 747.5h1M950 747.5h1M978 747.5h3M1014 747.5h3M1176 747.5h1M504 748.5h1M546 748.5h2M948 748.5h2M984 748.5h1M1177 748.5h1M548 749.5h1M985 749.5h2M1009 749.5h2M1178 749.5h1M944 750.5h1M990 750.5h3M1008 750.5h1M499 751.5h2M552 751.5h2M942 751.5h2M996 751.5h3M1002 751.5h3M6 752.5h3M498 752.5h1M554 752.5h1M938 752.5h1M1182 752.5h1M12 753.5h1M48 753.5h3M936 753.5h2M1183 753.5h2M13 754.5h2M18 754.5h3M24 754.5h1M36 754.5h3M42 754.5h3M54 754.5h3M60 754.5h3M66 754.5h3M72 754.5h3M78 754.5h3M494 754.5h1M558 754.5h3M25 755.5h2M30 755.5h3M84 755.5h1M493 755.5h1M564 755.5h1M697 755.5h2M930 755.5h3M85 756.5h2M492 756.5h1M565 756.5h2M685 756.5h2M690 756.5h3M696 756.5h1M702 756.5h3M708 756.5h3M925 756.5h2M1188 756.5h1M90 757.5h3M570 757.5h3M684 757.5h1M714 757.5h3M901 757.5h2M906 757.5h3M912 757.5h3M918 757.5h3M924 757.5h1M1189 757.5h1M96 758.5h1M486 758.5h3M576 758.5h1M678 758.5h3M720 758.5h1M894 758.5h3M900 758.5h1M1190 758.5h1M97 759.5h2M481 759.5h2M577 759.5h2M637 759.5h2M642 759.5h3M648 759.5h3M654 759.5h3M672 759.5h3M721 759.5h2M889 759.5h2M457 760.5h2M462 760.5h3M468 760.5h3M474 760.5h3M480 760.5h1M582 760.5h3M636 760.5h1M660 760.5h3M666 760.5h3M726 760.5h2M888 760.5h1M102 761.5h3M456 761.5h1M588 761.5h1M630 761.5h3M728 761.5h1M884 761.5h1M1194 761.5h1M450 762.5h3M589 762.5h2M626 762.5h1M882 762.5h2M1195 762.5h2M108 763.5h2M446 763.5h1M594 763.5h3M624 763.5h2M732 763.5h1M110 764.5h1M444 764.5h2M600 764.5h1M733 764.5h1M877 764.5h2M114 765.5h3M601 765.5h2M618 765.5h3M734 765.5h1M876 765.5h1M1200 765.5h2M440 766.5h1M606 766.5h3M612 766.5h3M872 766.5h1M1202 766.5h1M120 767.5h2M438 767.5h2M738 767.5h1M870 767.5h2M1206 767.5h2M122 768.5h1M739 768.5h2M1208 768.5h1M126 769.5h1M434 769.5h1M865 769.5h2M127 770.5h2M432 770.5h2M864 770.5h1M1212 770.5h2M744 771.5h1M860 771.5h1M1214 771.5h1M265 772.5h2M270 772.5h3M426 772.5h3M745 772.5h1M858 772.5h2M1218 772.5h3M132 773.5h2M210 773.5h3M216 773.5h3M222 773.5h3M228 773.5h1M258 773.5h3M264 773.5h1M276 773.5h1M421 773.5h2M746 773.5h1M829 773.5h2M834 773.5h3M840 773.5h3M846 773.5h3M852 773.5h3M1224 773.5h1M134 774.5h1M205 774.5h2M229 774.5h2M234 774.5h3M240 774.5h3M246 774.5h3M252 774.5h3M277 774.5h2M420 774.5h1M828 774.5h1M1225 774.5h2M1230 774.5h3M138 775.5h2M198 775.5h3M204 775.5h1M282 775.5h2M414 775.5h3M750 775.5h1M822 775.5h3M1236 775.5h3M1242 775.5h3M1248 775.5h3M1254 775.5h3M140 776.5h1M192 776.5h3M284 776.5h1M408 776.5h3M751 776.5h2M818 776.5h1M1260 776.5h1M144 777.5h1M181 777.5h2M186 777.5h3M402 777.5h3M816 777.5h2M1261 777.5h2M1266 777.5h3M1338 777.5h3M145 778.5h2M180 778.5h1M288 778.5h1M397 778.5h2M1272 778.5h3M1332 778.5h3M169 779.5h2M174 779.5h3M289 779.5h1M396 779.5h1M756 779.5h2M810 779.5h3M1278 779.5h3M1284 779.5h1M1302 779.5h3M1308 779.5h3M1314 779.5h3M1320 779.5h3M1326 779.5h3M150 780.5h3M168 780.5h1M290 780.5h1M392 780.5h1M758 780.5h1M1285 780.5h2M1290 780.5h3M1296 780.5h3M156 781.5h3M162 781.5h3M390 781.5h2M805 781.5h2M294 782.5h1M385 782.5h2M762 782.5h3M804 782.5h1M295 783.5h2M384 783.5h1M768 783.5h1M798 783.5h3M378 784.5h3M769 784.5h2M774 784.5h3M792 784.5h3M373 785.5h2M780 785.5h3M786 785.5h3M300 786.5h1M372 786.5h1M301 787.5h1M366 787.5h3M302 788.5h1M361 788.5h2M360 789.5h1M306 790.5h2M354 790.5h3M308 791.5h1M349 791.5h2M348 792.5h1M312 793.5h2M342 793.5h3M314 794.5h1M318 795.5h3M337 795.5h2M324 796.5h1M330 796.5h3M336 796.5h1M325 797.5h2" fill="none" stroke="#ff0000" stroke-width="1"/>
<rect x="6" y="805" width="1" height="3" fill="#000000"/>
<text x="5" y="817" font-size="10.2" fill="#000" textLength="50.3" lengthAdjust="spacingAndGlyphs">6 May 2020</text>
<rect x="70" y="805" width="1" height="3" fill="#000000"/>
<text x="69" y="817" font-size="10.2" fill="#000" textLength="55.3" lengthAdjust="spacingAndGlyphs">25 May 2020</text>
<rect x="134" y="805" width="1" height="3" fill="#000000"/>
<text x="133" y="817" font-size="10.2" fill="#000" textLength="50.3" lengthAdjust="spacingAndGlyphs">12 Jun 2020</text>
<rect x="198" y="805" width="1" height="3" fill="#000000"/>
<text x="197" y="817" font-size="10.2" fill="#000" textLength="42.3" lengthAdjust="spacingAndGlyphs">1 Jul 2020</text>
<rect x="262" y="805" width="1" height="3" fill="#000000"/>
<text x="261" y="817" font-size="10.2" fill="#000" textLength="47.3" lengthAdjust="spacingAndGlyphs">20 Jul 2020</text>
<rect x="326" y="805" width="1" height="3" fill="#000000"/>
<text x="325" y="817" font-size="10.2" fill="#000" textLength="47.3" lengthAdjust="spacingAndGlyphs">7 Aug 2020</text>
<rect x="390" y="805" width="1" height="3" fill="#000000"/>
<text x="389" y="817" font-size="10.2" fill="#000" textLength="52.3" lengthAdjust="spacingAndGlyphs">26 Aug 2020</text>
<rect x="454" y="805" width="1" height="3" fill="#000000"/>
<text x="453" y="817" font-size="10.2" fill="#000" textLength="51.8" lengthAdjust="spacingAndGlyphs">14 Sep 2020</text>
<rect x="518" y="805" width="1" height="3" fill="#000000"/>
<text x="517" y="817" font-size="10.2" fill="#000" textLength="45.8" lengthAdjust="spacingAndGlyphs">2 Oct 2020</text>
<rect x="582" y="805" width="1" height="3" fill="#000000"/>
<text x="581" y="817" font-size="10.2" fill="#000" textLength="50.8" lengthAdjust="spacingAndGlyphs">21 Oct 2020</text>
<rect x="646" y="805" width="1" height="3" fill="#000000"/>
<text x="645" y="817" font-size="10.2" fill="#000" textLength="48.3" lengthAdjust="spacingAndGlyphs">9 Nov 2020</text>
<rect x="710" y="805" width="1" height="3" fill="#000000"/>
<text x="709" y="817" font-size="10.2" fill="#000" textLength="53.3" lengthAdjust="spacingAndGlyphs">27 Nov 2020</text>
<rect x="774" y="805" width="1" height="3" fill="#000000"/>
<text x="773" y="817" font-size="10.2" fill="#000" textLength="51.3" lengthAdjust="spacingAndGlyphs">16 Dec 2020</text>
<rect x="838" y="805" width="1" height="3" fill="#000000"/>
<text x="837" y="817" font-size="10.2" fill="#000" textLength="44.3" lengthAdjust="spacingAndGlyphs">6 Jan 2021</text>
<rect x="902" y="805" width="1" height="3" fill="#000000"/>
<text x="901" y="817" font-size="10.2" fill="#000" textLength="49.3" lengthAdjust="spacingAndGlyphs">25 Jan 2021</text>
<rect x="966" y="805" width="1" height="3" fill="#000000"/>
<text x="965" y="817" font-size="10.2" fill="#000" textLength="51.3" lengthAdjust="spacingAndGlyphs">12 Feb 2021</text>
<rect x="1030" y="805" width="1" height="3" fill="#000000"/>
<text x="1029" y="817" font-size="10.2" fill="#000" textLength="46.3" lengthAdjust="spacingAndGlyphs">3 Mar 2021</text>
<rect x="1094" y="805" width="1" height="3" fill="#000000"/>
<text x="1093" y="817" font-size="10.2" fill="#000" textLength="51.3" lengthAdjust="spacingAndGlyphs">22 Mar 2021</text>
<rect x="1158" y="805" width="1" height="3" fill="#000000"/>
<text x="1157" y="817" font-size="10.2" fill="#000" textLength="45.3" lengthAdjust="spacingAndGlyphs">9 Apr 2021</text>
<rect x="1222" y="805" width="1" height="3" fill="#000000"/>
<text x="1221" y="817" font-size="10.2" fill="#000" textLength="50.3" lengthAdjust="spacingAndGlyphs">28 Apr 2021</text>
<rect x="1286" y="805" width="1" height="3" fill="#000000"/>
<text x="1285" y="817" font-size="10.2" fill="#000" textLength="55.3" lengthAdjust="spacingAndGlyphs">17 May 2021</text>
<rect x="0" y="825" width="1724" height="1" fill="#e3e3e3"/>
<rect x="0" y="826" width="1724" height="1" fill="#ffffff"/>
<rect x="0" y="828" width="1724" height="1" fill="#f8f8f8"/>
<rect x="0" y="829" width="1724" height="18" fill="#f0f0f0"/>
<rect x="0" y="847" width="1724" height="1" fill="#ffffff"/>
<rect x="0" y="848" width="1724" height="1" fill="#f0f0f0"/>
<rect x="0" y="827" width="8" height="1" fill="#000000"/>
<rect x="106" y="827" width="1618" height="1" fill="#000000"/>
<rect x="8" y="826" width="98" height="19" fill="#ffffff"/>
<rect x="7" y="827" width="1" height="19" fill="#000000"/>
<rect x="106" y="827" width="1" height="19" fill="#000000"/>
<rect x="7" y="845" width="100" height="1" fill="#000000"/>
<rect x="1" y="828" width="1" height="18" fill="#a0a0a0"/>
<rect x="2" y="828" width="1" height="18" fill="#696969"/>
<rect x="3" y="828" width="4" height="18" fill="#ffffff"/>
<rect x="4" y="829" width="2" height="16" fill="#f0f0f0"/>
<text x="17.6" y="842" font-size="12.6" fill="#000" textLength="78.8" lengthAdjust="spacingAndGlyphs">USDCHF,Daily</text>
<text x="117.4" y="842" font-size="12.6" fill="#6d6d6d" textLength="83.19999999999999" lengthAdjust="spacingAndGlyphs">USDCNH,Daily</text>
<text x="223" y="842" font-size="12.6" fill="#6d6d6d" textLength="80.19999999999999" lengthAdjust="spacingAndGlyphs">EURUSD,Daily</text>
<text x="326" y="842" font-size="12.6" fill="#6d6d6d" textLength="83.0" lengthAdjust="spacingAndGlyphs">AUDUSD,Daily</text>
<text x="430.4" y="842" font-size="12.6" fill="#6d6d6d" textLength="81.3" lengthAdjust="spacingAndGlyphs">USDCAD,Daily</text>
<text x="534.3" y="842" font-size="12.6" fill="#6d6d6d" textLength="68.6" lengthAdjust="spacingAndGlyphs">XAUUSD,H1</text>
<text x="625.5" y="842" font-size="12.6" fill="#6d6d6d" textLength="50.5" lengthAdjust="spacingAndGlyphs">USOil,H4</text>
<rect x="211" y="830" width="1" height="14" fill="#404040"/>
<rect x="315" y="830" width="1" height="14" fill="#404040"/>
<rect x="419" y="830" width="1" height="14" fill="#404040"/>
<rect x="523" y="830" width="1" height="14" fill="#404040"/>
<rect x="615" y="830" width="1" height="14" fill="#404040"/>
<rect x="687" y="830" width="1" height="14" fill="#404040"/>
<rect x="1702" y="835" width="1" height="2" fill="#a0a0a0"/>
<rect x="1703" y="834" width="1" height="4" fill="#a0a0a0"/>
<rect x="1704" y="833" width="1" height="6" fill="#a0a0a0"/>
<rect x="1705" y="833" width="1" height="6" fill="#a0a0a0"/>
<rect x="1721" y="833" width="1" height="6" fill="#a0a0a0"/>
<rect x="1722" y="834" width="1" height="4" fill="#a0a0a0"/>
<rect x="1723" y="835" width="1" height="2" fill="#a0a0a0"/>
</svg>
</body></html>
